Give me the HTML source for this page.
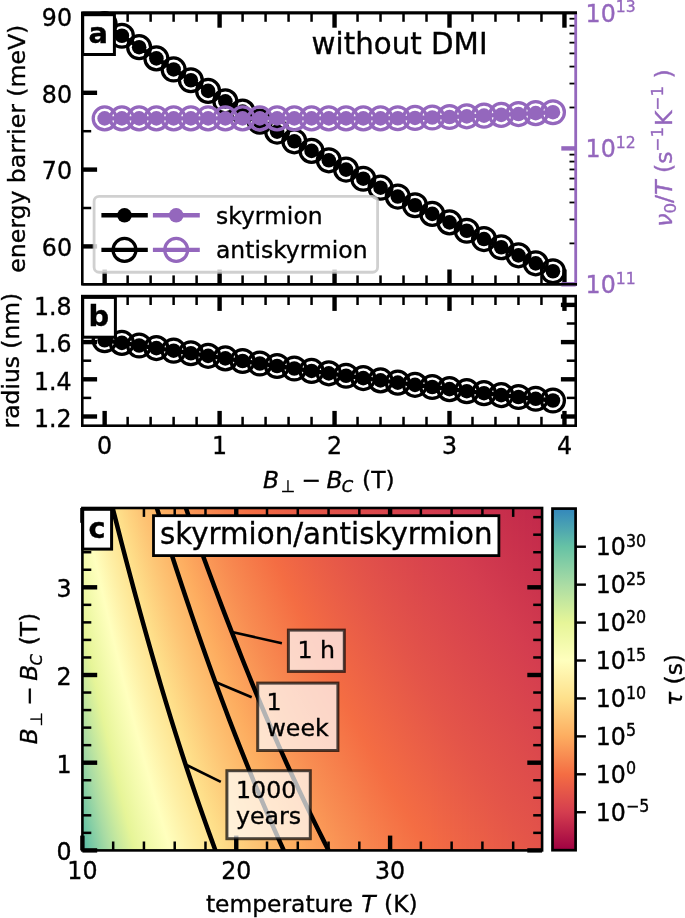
<!DOCTYPE html>
<html><head><meta charset="utf-8"><title>figure</title>
<style>
html,body{margin:0;padding:0;background:#fff;}
svg{display:block;font-family:"DejaVu Sans","Liberation Sans",sans-serif;}
text{stroke:#000;stroke-width:.35px;}
text[fill="#9467bd"]{stroke:#9467bd;}
</style></head><body>
<svg width="685" height="918" viewBox="0 0 685 918">
<rect width="685" height="918" fill="#fff"/>
<g id="panelA">
<line x1="104.65" y1="284.30" x2="104.65" y2="269.50" stroke="#000" stroke-width="4.4" /><line x1="127.64" y1="284.30" x2="127.64" y2="275.40" stroke="#000" stroke-width="2.5" /><line x1="150.63" y1="284.30" x2="150.63" y2="275.40" stroke="#000" stroke-width="2.5" /><line x1="173.62" y1="284.30" x2="173.62" y2="275.40" stroke="#000" stroke-width="2.5" /><line x1="196.61" y1="284.30" x2="196.61" y2="275.40" stroke="#000" stroke-width="2.5" /><line x1="219.60" y1="284.30" x2="219.60" y2="269.50" stroke="#000" stroke-width="4.4" /><line x1="242.59" y1="284.30" x2="242.59" y2="275.40" stroke="#000" stroke-width="2.5" /><line x1="265.58" y1="284.30" x2="265.58" y2="275.40" stroke="#000" stroke-width="2.5" /><line x1="288.57" y1="284.30" x2="288.57" y2="275.40" stroke="#000" stroke-width="2.5" /><line x1="311.56" y1="284.30" x2="311.56" y2="275.40" stroke="#000" stroke-width="2.5" /><line x1="334.55" y1="284.30" x2="334.55" y2="269.50" stroke="#000" stroke-width="4.4" /><line x1="357.54" y1="284.30" x2="357.54" y2="275.40" stroke="#000" stroke-width="2.5" /><line x1="380.53" y1="284.30" x2="380.53" y2="275.40" stroke="#000" stroke-width="2.5" /><line x1="403.52" y1="284.30" x2="403.52" y2="275.40" stroke="#000" stroke-width="2.5" /><line x1="426.51" y1="284.30" x2="426.51" y2="275.40" stroke="#000" stroke-width="2.5" /><line x1="449.50" y1="284.30" x2="449.50" y2="269.50" stroke="#000" stroke-width="4.4" /><line x1="472.49" y1="284.30" x2="472.49" y2="275.40" stroke="#000" stroke-width="2.5" /><line x1="495.48" y1="284.30" x2="495.48" y2="275.40" stroke="#000" stroke-width="2.5" /><line x1="518.47" y1="284.30" x2="518.47" y2="275.40" stroke="#000" stroke-width="2.5" /><line x1="541.46" y1="284.30" x2="541.46" y2="275.40" stroke="#000" stroke-width="2.5" /><line x1="564.45" y1="284.30" x2="564.45" y2="269.50" stroke="#000" stroke-width="4.4" />
<line x1="104.65" y1="12.90" x2="104.65" y2="27.70" stroke="#000" stroke-width="4.4" /><line x1="127.64" y1="12.90" x2="127.64" y2="21.80" stroke="#000" stroke-width="2.5" /><line x1="150.63" y1="12.90" x2="150.63" y2="21.80" stroke="#000" stroke-width="2.5" /><line x1="173.62" y1="12.90" x2="173.62" y2="21.80" stroke="#000" stroke-width="2.5" /><line x1="196.61" y1="12.90" x2="196.61" y2="21.80" stroke="#000" stroke-width="2.5" /><line x1="219.60" y1="12.90" x2="219.60" y2="27.70" stroke="#000" stroke-width="4.4" /><line x1="242.59" y1="12.90" x2="242.59" y2="21.80" stroke="#000" stroke-width="2.5" /><line x1="265.58" y1="12.90" x2="265.58" y2="21.80" stroke="#000" stroke-width="2.5" /><line x1="288.57" y1="12.90" x2="288.57" y2="21.80" stroke="#000" stroke-width="2.5" /><line x1="311.56" y1="12.90" x2="311.56" y2="21.80" stroke="#000" stroke-width="2.5" /><line x1="334.55" y1="12.90" x2="334.55" y2="27.70" stroke="#000" stroke-width="4.4" /><line x1="357.54" y1="12.90" x2="357.54" y2="21.80" stroke="#000" stroke-width="2.5" /><line x1="380.53" y1="12.90" x2="380.53" y2="21.80" stroke="#000" stroke-width="2.5" /><line x1="403.52" y1="12.90" x2="403.52" y2="21.80" stroke="#000" stroke-width="2.5" /><line x1="426.51" y1="12.90" x2="426.51" y2="21.80" stroke="#000" stroke-width="2.5" /><line x1="449.50" y1="12.90" x2="449.50" y2="27.70" stroke="#000" stroke-width="4.4" /><line x1="472.49" y1="12.90" x2="472.49" y2="21.80" stroke="#000" stroke-width="2.5" /><line x1="495.48" y1="12.90" x2="495.48" y2="21.80" stroke="#000" stroke-width="2.5" /><line x1="518.47" y1="12.90" x2="518.47" y2="21.80" stroke="#000" stroke-width="2.5" /><line x1="541.46" y1="12.90" x2="541.46" y2="21.80" stroke="#000" stroke-width="2.5" /><line x1="564.45" y1="12.90" x2="564.45" y2="27.70" stroke="#000" stroke-width="4.4" />
<line x1="82.30" y1="246.40" x2="97.10" y2="246.40" stroke="#000" stroke-width="4.4" />
<line x1="82.30" y1="208.00" x2="91.20" y2="208.00" stroke="#000" stroke-width="2.5" />
<line x1="82.30" y1="169.60" x2="97.10" y2="169.60" stroke="#000" stroke-width="4.4" />
<line x1="82.30" y1="131.20" x2="91.20" y2="131.20" stroke="#000" stroke-width="2.5" />
<line x1="82.30" y1="92.80" x2="97.10" y2="92.80" stroke="#000" stroke-width="4.4" />
<line x1="82.30" y1="54.40" x2="91.20" y2="54.40" stroke="#000" stroke-width="2.5" />
<line x1="82.30" y1="16.00" x2="97.10" y2="16.00" stroke="#000" stroke-width="4.4" />
<g stroke="#000" fill="none"><polyline points="104.65,24.06 121.89,35.73 139.13,47.18 156.38,58.41 173.62,69.44 190.86,80.27 208.11,90.90 225.35,101.34 242.59,111.60 259.83,121.67 277.08,131.58 294.32,141.31 311.56,150.89 328.80,160.31 346.05,169.58 363.29,178.70 380.53,187.69 397.77,196.55 415.01,205.28 432.26,213.89 449.50,222.38 466.74,230.77 483.99,239.06 501.23,247.24 518.47,255.34 535.71,263.35 552.96,271.28" stroke-width="4.4" stroke-linejoin="round"/><g stroke-width="3.25"><circle cx="104.65" cy="24.06" r="11.45"/><circle cx="121.89" cy="35.73" r="11.45"/><circle cx="139.13" cy="47.18" r="11.45"/><circle cx="156.38" cy="58.41" r="11.45"/><circle cx="173.62" cy="69.44" r="11.45"/><circle cx="190.86" cy="80.27" r="11.45"/><circle cx="208.11" cy="90.90" r="11.45"/><circle cx="225.35" cy="101.34" r="11.45"/><circle cx="242.59" cy="111.60" r="11.45"/><circle cx="259.83" cy="121.67" r="11.45"/><circle cx="277.08" cy="131.58" r="11.45"/><circle cx="294.32" cy="141.31" r="11.45"/><circle cx="311.56" cy="150.89" r="11.45"/><circle cx="328.80" cy="160.31" r="11.45"/><circle cx="346.05" cy="169.58" r="11.45"/><circle cx="363.29" cy="178.70" r="11.45"/><circle cx="380.53" cy="187.69" r="11.45"/><circle cx="397.77" cy="196.55" r="11.45"/><circle cx="415.01" cy="205.28" r="11.45"/><circle cx="432.26" cy="213.89" r="11.45"/><circle cx="449.50" cy="222.38" r="11.45"/><circle cx="466.74" cy="230.77" r="11.45"/><circle cx="483.99" cy="239.06" r="11.45"/><circle cx="501.23" cy="247.24" r="11.45"/><circle cx="518.47" cy="255.34" r="11.45"/><circle cx="535.71" cy="263.35" r="11.45"/><circle cx="552.96" cy="271.28" r="11.45"/></g><g fill="#000" stroke="none"><circle cx="104.65" cy="24.06" r="7.3"/><circle cx="121.89" cy="35.73" r="7.3"/><circle cx="139.13" cy="47.18" r="7.3"/><circle cx="156.38" cy="58.41" r="7.3"/><circle cx="173.62" cy="69.44" r="7.3"/><circle cx="190.86" cy="80.27" r="7.3"/><circle cx="208.11" cy="90.90" r="7.3"/><circle cx="225.35" cy="101.34" r="7.3"/><circle cx="242.59" cy="111.60" r="7.3"/><circle cx="259.83" cy="121.67" r="7.3"/><circle cx="277.08" cy="131.58" r="7.3"/><circle cx="294.32" cy="141.31" r="7.3"/><circle cx="311.56" cy="150.89" r="7.3"/><circle cx="328.80" cy="160.31" r="7.3"/><circle cx="346.05" cy="169.58" r="7.3"/><circle cx="363.29" cy="178.70" r="7.3"/><circle cx="380.53" cy="187.69" r="7.3"/><circle cx="397.77" cy="196.55" r="7.3"/><circle cx="415.01" cy="205.28" r="7.3"/><circle cx="432.26" cy="213.89" r="7.3"/><circle cx="449.50" cy="222.38" r="7.3"/><circle cx="466.74" cy="230.77" r="7.3"/><circle cx="483.99" cy="239.06" r="7.3"/><circle cx="501.23" cy="247.24" r="7.3"/><circle cx="518.47" cy="255.34" r="7.3"/><circle cx="535.71" cy="263.35" r="7.3"/><circle cx="552.96" cy="271.28" r="7.3"/></g></g>
<path d="M82.3,284.3 V12.9 H575.7 M82.3,284.3 H575.7" fill="none" stroke="#000" stroke-width="2.6" stroke-linecap="square"/>
<line x1="575.70" y1="243.39" x2="569.50" y2="243.39" stroke="#000" stroke-width="1.8" />
<line x1="575.70" y1="219.46" x2="569.50" y2="219.46" stroke="#000" stroke-width="1.8" />
<line x1="575.70" y1="202.48" x2="569.50" y2="202.48" stroke="#000" stroke-width="1.8" />
<line x1="575.70" y1="189.31" x2="569.50" y2="189.31" stroke="#000" stroke-width="1.8" />
<line x1="575.70" y1="178.55" x2="569.50" y2="178.55" stroke="#000" stroke-width="1.8" />
<line x1="575.70" y1="169.45" x2="569.50" y2="169.45" stroke="#000" stroke-width="1.8" />
<line x1="575.70" y1="161.57" x2="569.50" y2="161.57" stroke="#000" stroke-width="1.8" />
<line x1="575.70" y1="154.62" x2="569.50" y2="154.62" stroke="#000" stroke-width="1.8" />
<line x1="575.70" y1="107.49" x2="569.50" y2="107.49" stroke="#000" stroke-width="1.8" />
<line x1="575.70" y1="83.56" x2="569.50" y2="83.56" stroke="#000" stroke-width="1.8" />
<line x1="575.70" y1="66.58" x2="569.50" y2="66.58" stroke="#000" stroke-width="1.8" />
<line x1="575.70" y1="53.41" x2="569.50" y2="53.41" stroke="#000" stroke-width="1.8" />
<line x1="575.70" y1="42.65" x2="569.50" y2="42.65" stroke="#000" stroke-width="1.8" />
<line x1="575.70" y1="33.55" x2="569.50" y2="33.55" stroke="#000" stroke-width="1.8" />
<line x1="575.70" y1="25.67" x2="569.50" y2="25.67" stroke="#000" stroke-width="1.8" />
<line x1="575.70" y1="18.72" x2="569.50" y2="18.72" stroke="#000" stroke-width="1.8" />
<g stroke="#9467bd" fill="none"><polyline points="104.65,118.40 121.89,118.40 139.13,118.40 156.38,118.40 173.62,118.40 190.86,118.40 208.11,118.40 225.35,118.40 242.59,118.40 259.83,118.40 277.08,118.40 294.32,118.40 311.56,118.40 328.80,118.40 346.05,118.40 363.29,118.40 380.53,118.40 397.77,118.24 415.01,117.93 432.26,117.50 449.50,116.97 466.74,116.35 483.99,115.66 501.23,114.90 518.47,114.06 535.71,113.16 552.96,112.20" stroke-width="4.4" stroke-linejoin="round"/><g stroke-width="3.25"><circle cx="104.65" cy="118.40" r="11.45"/><circle cx="121.89" cy="118.40" r="11.45"/><circle cx="139.13" cy="118.40" r="11.45"/><circle cx="156.38" cy="118.40" r="11.45"/><circle cx="173.62" cy="118.40" r="11.45"/><circle cx="190.86" cy="118.40" r="11.45"/><circle cx="208.11" cy="118.40" r="11.45"/><circle cx="225.35" cy="118.40" r="11.45"/><circle cx="242.59" cy="118.40" r="11.45"/><circle cx="259.83" cy="118.40" r="11.45"/><circle cx="277.08" cy="118.40" r="11.45"/><circle cx="294.32" cy="118.40" r="11.45"/><circle cx="311.56" cy="118.40" r="11.45"/><circle cx="328.80" cy="118.40" r="11.45"/><circle cx="346.05" cy="118.40" r="11.45"/><circle cx="363.29" cy="118.40" r="11.45"/><circle cx="380.53" cy="118.40" r="11.45"/><circle cx="397.77" cy="118.24" r="11.45"/><circle cx="415.01" cy="117.93" r="11.45"/><circle cx="432.26" cy="117.50" r="11.45"/><circle cx="449.50" cy="116.97" r="11.45"/><circle cx="466.74" cy="116.35" r="11.45"/><circle cx="483.99" cy="115.66" r="11.45"/><circle cx="501.23" cy="114.90" r="11.45"/><circle cx="518.47" cy="114.06" r="11.45"/><circle cx="535.71" cy="113.16" r="11.45"/><circle cx="552.96" cy="112.20" r="11.45"/></g><g fill="#9467bd" stroke="none"><circle cx="104.65" cy="118.40" r="7.3"/><circle cx="121.89" cy="118.40" r="7.3"/><circle cx="139.13" cy="118.40" r="7.3"/><circle cx="156.38" cy="118.40" r="7.3"/><circle cx="173.62" cy="118.40" r="7.3"/><circle cx="190.86" cy="118.40" r="7.3"/><circle cx="208.11" cy="118.40" r="7.3"/><circle cx="225.35" cy="118.40" r="7.3"/><circle cx="242.59" cy="118.40" r="7.3"/><circle cx="259.83" cy="118.40" r="7.3"/><circle cx="277.08" cy="118.40" r="7.3"/><circle cx="294.32" cy="118.40" r="7.3"/><circle cx="311.56" cy="118.40" r="7.3"/><circle cx="328.80" cy="118.40" r="7.3"/><circle cx="346.05" cy="118.40" r="7.3"/><circle cx="363.29" cy="118.40" r="7.3"/><circle cx="380.53" cy="118.40" r="7.3"/><circle cx="397.77" cy="118.24" r="7.3"/><circle cx="415.01" cy="117.93" r="7.3"/><circle cx="432.26" cy="117.50" r="7.3"/><circle cx="449.50" cy="116.97" r="7.3"/><circle cx="466.74" cy="116.35" r="7.3"/><circle cx="483.99" cy="115.66" r="7.3"/><circle cx="501.23" cy="114.90" r="7.3"/><circle cx="518.47" cy="114.06" r="7.3"/><circle cx="535.71" cy="113.16" r="7.3"/><circle cx="552.96" cy="112.20" r="7.3"/></g></g>
<line x1="575.70" y1="284.30" x2="561.30" y2="284.30" stroke="#9467bd" stroke-width="4.4" />
<line x1="575.70" y1="148.40" x2="561.30" y2="148.40" stroke="#9467bd" stroke-width="4.4" />
<line x1="575.70" y1="12.90" x2="575.70" y2="285.60" stroke="#9467bd" stroke-width="2.8" />
<line x1="82.30" y1="12.90" x2="577.00" y2="12.90" stroke="#000" stroke-width="2.6" />
<line x1="82.30" y1="284.30" x2="577.00" y2="284.30" stroke="#000" stroke-width="2.6" />
<rect x="94.1" y="196.4" width="283.5" height="75.85" rx="5" ry="5" fill="#fff" fill-opacity="0.8" stroke="#c4c4c4" stroke-opacity="0.8" stroke-width="2.8"/>
<line x1="101.40" y1="215.30" x2="147.80" y2="215.30" stroke="#000" stroke-width="4.4" />
<circle cx="124.5" cy="215.3" r="7.3" fill="#000"/>
<line x1="152.90" y1="215.30" x2="199.80" y2="215.30" stroke="#9467bd" stroke-width="4.4" />
<circle cx="176.2" cy="215.3" r="7.3" fill="#9467bd"/>
<line x1="101.40" y1="249.90" x2="147.80" y2="249.90" stroke="#000" stroke-width="4.4" />
<circle cx="124.5" cy="249.9" r="11.45" fill="none" stroke="#000" stroke-width="3.25"/>
<line x1="152.90" y1="249.90" x2="199.80" y2="249.90" stroke="#9467bd" stroke-width="4.4" />
<circle cx="176.2" cy="249.9" r="11.45" fill="none" stroke="#9467bd" stroke-width="3.25"/>
<text x="216.00" y="223.60" font-size="23.45" text-anchor="start" fill="#000" >skyrmion</text>
<text x="216.00" y="258.20" font-size="23.45" text-anchor="start" fill="#000" >antiskyrmion</text>
<text x="311.60" y="54.10" font-size="29.3" text-anchor="start" fill="#000" >without DMI</text>
<text transform="translate(72.00,25.80) scale(1,1.06)" font-size="23.7" text-anchor="end" fill="#000" >90</text>
<text transform="translate(72.00,102.60) scale(1,1.06)" font-size="23.7" text-anchor="end" fill="#000" >80</text>
<text transform="translate(72.00,179.40) scale(1,1.06)" font-size="23.7" text-anchor="end" fill="#000" >70</text>
<text transform="translate(72.00,256.20) scale(1,1.06)" font-size="23.7" text-anchor="end" fill="#000" >60</text>
<text transform="translate(585.6,21.50) scale(1,1.06)" font-size="23.7" fill="#9467bd">10<tspan font-size="15.64" dy="-8.5">13</tspan></text>
<text transform="translate(585.6,157.40) scale(1,1.06)" font-size="23.7" fill="#9467bd">10<tspan font-size="15.64" dy="-8.5">12</tspan></text>
<text transform="translate(585.6,293.30) scale(1,1.06)" font-size="23.7" fill="#9467bd">10<tspan font-size="15.64" dy="-8.5">11</tspan></text>
<text transform="translate(25.3,148.7) rotate(-90)" font-size="23.55" text-anchor="middle">energy barrier (meV)</text>
<text transform="translate(672,148) rotate(-90)" font-size="23.7" text-anchor="middle" fill="#9467bd"><tspan font-style="italic">ν</tspan><tspan font-size="16.59" dy="4">0</tspan><tspan dy="-4">/</tspan><tspan font-style="italic">T</tspan> (s<tspan font-size="16.59" dy="-9">−1</tspan><tspan dy="9" dx="1">K</tspan><tspan font-size="16.59" dy="-9">−1</tspan><tspan dy="9"> )</tspan></text>
<rect x="82.7" y="14.7" width="31.70" height="39.8" fill="#fff" stroke="#000" stroke-width="3.0"/><text x="88.50" y="43.10" font-size="28.9" text-anchor="start" fill="#000" font-weight="bold">a</text>
</g>
<g id="panelB">
<line x1="104.65" y1="425.70" x2="104.65" y2="410.90" stroke="#000" stroke-width="4.4" /><line x1="127.64" y1="425.70" x2="127.64" y2="416.80" stroke="#000" stroke-width="2.5" /><line x1="150.63" y1="425.70" x2="150.63" y2="416.80" stroke="#000" stroke-width="2.5" /><line x1="173.62" y1="425.70" x2="173.62" y2="416.80" stroke="#000" stroke-width="2.5" /><line x1="196.61" y1="425.70" x2="196.61" y2="416.80" stroke="#000" stroke-width="2.5" /><line x1="219.60" y1="425.70" x2="219.60" y2="410.90" stroke="#000" stroke-width="4.4" /><line x1="242.59" y1="425.70" x2="242.59" y2="416.80" stroke="#000" stroke-width="2.5" /><line x1="265.58" y1="425.70" x2="265.58" y2="416.80" stroke="#000" stroke-width="2.5" /><line x1="288.57" y1="425.70" x2="288.57" y2="416.80" stroke="#000" stroke-width="2.5" /><line x1="311.56" y1="425.70" x2="311.56" y2="416.80" stroke="#000" stroke-width="2.5" /><line x1="334.55" y1="425.70" x2="334.55" y2="410.90" stroke="#000" stroke-width="4.4" /><line x1="357.54" y1="425.70" x2="357.54" y2="416.80" stroke="#000" stroke-width="2.5" /><line x1="380.53" y1="425.70" x2="380.53" y2="416.80" stroke="#000" stroke-width="2.5" /><line x1="403.52" y1="425.70" x2="403.52" y2="416.80" stroke="#000" stroke-width="2.5" /><line x1="426.51" y1="425.70" x2="426.51" y2="416.80" stroke="#000" stroke-width="2.5" /><line x1="449.50" y1="425.70" x2="449.50" y2="410.90" stroke="#000" stroke-width="4.4" /><line x1="472.49" y1="425.70" x2="472.49" y2="416.80" stroke="#000" stroke-width="2.5" /><line x1="495.48" y1="425.70" x2="495.48" y2="416.80" stroke="#000" stroke-width="2.5" /><line x1="518.47" y1="425.70" x2="518.47" y2="416.80" stroke="#000" stroke-width="2.5" /><line x1="541.46" y1="425.70" x2="541.46" y2="416.80" stroke="#000" stroke-width="2.5" /><line x1="564.45" y1="425.70" x2="564.45" y2="410.90" stroke="#000" stroke-width="4.4" />
<line x1="104.65" y1="296.10" x2="104.65" y2="310.90" stroke="#000" stroke-width="4.4" /><line x1="127.64" y1="296.10" x2="127.64" y2="305.00" stroke="#000" stroke-width="2.5" /><line x1="150.63" y1="296.10" x2="150.63" y2="305.00" stroke="#000" stroke-width="2.5" /><line x1="173.62" y1="296.10" x2="173.62" y2="305.00" stroke="#000" stroke-width="2.5" /><line x1="196.61" y1="296.10" x2="196.61" y2="305.00" stroke="#000" stroke-width="2.5" /><line x1="219.60" y1="296.10" x2="219.60" y2="310.90" stroke="#000" stroke-width="4.4" /><line x1="242.59" y1="296.10" x2="242.59" y2="305.00" stroke="#000" stroke-width="2.5" /><line x1="265.58" y1="296.10" x2="265.58" y2="305.00" stroke="#000" stroke-width="2.5" /><line x1="288.57" y1="296.10" x2="288.57" y2="305.00" stroke="#000" stroke-width="2.5" /><line x1="311.56" y1="296.10" x2="311.56" y2="305.00" stroke="#000" stroke-width="2.5" /><line x1="334.55" y1="296.10" x2="334.55" y2="310.90" stroke="#000" stroke-width="4.4" /><line x1="357.54" y1="296.10" x2="357.54" y2="305.00" stroke="#000" stroke-width="2.5" /><line x1="380.53" y1="296.10" x2="380.53" y2="305.00" stroke="#000" stroke-width="2.5" /><line x1="403.52" y1="296.10" x2="403.52" y2="305.00" stroke="#000" stroke-width="2.5" /><line x1="426.51" y1="296.10" x2="426.51" y2="305.00" stroke="#000" stroke-width="2.5" /><line x1="449.50" y1="296.10" x2="449.50" y2="310.90" stroke="#000" stroke-width="4.4" /><line x1="472.49" y1="296.10" x2="472.49" y2="305.00" stroke="#000" stroke-width="2.5" /><line x1="495.48" y1="296.10" x2="495.48" y2="305.00" stroke="#000" stroke-width="2.5" /><line x1="518.47" y1="296.10" x2="518.47" y2="305.00" stroke="#000" stroke-width="2.5" /><line x1="541.46" y1="296.10" x2="541.46" y2="305.00" stroke="#000" stroke-width="2.5" /><line x1="564.45" y1="296.10" x2="564.45" y2="310.90" stroke="#000" stroke-width="4.4" />
<line x1="82.30" y1="416.50" x2="97.10" y2="416.50" stroke="#000" stroke-width="4.4" />
<line x1="575.70" y1="416.50" x2="560.90" y2="416.50" stroke="#000" stroke-width="4.4" />
<line x1="82.30" y1="397.90" x2="91.20" y2="397.90" stroke="#000" stroke-width="2.5" />
<line x1="575.70" y1="397.90" x2="566.80" y2="397.90" stroke="#000" stroke-width="2.5" />
<line x1="82.30" y1="379.30" x2="97.10" y2="379.30" stroke="#000" stroke-width="4.4" />
<line x1="575.70" y1="379.30" x2="560.90" y2="379.30" stroke="#000" stroke-width="4.4" />
<line x1="82.30" y1="360.70" x2="91.20" y2="360.70" stroke="#000" stroke-width="2.5" />
<line x1="575.70" y1="360.70" x2="566.80" y2="360.70" stroke="#000" stroke-width="2.5" />
<line x1="82.30" y1="342.10" x2="97.10" y2="342.10" stroke="#000" stroke-width="4.4" />
<line x1="575.70" y1="342.10" x2="560.90" y2="342.10" stroke="#000" stroke-width="4.4" />
<line x1="82.30" y1="323.50" x2="91.20" y2="323.50" stroke="#000" stroke-width="2.5" />
<line x1="575.70" y1="323.50" x2="566.80" y2="323.50" stroke="#000" stroke-width="2.5" />
<line x1="82.30" y1="304.90" x2="97.10" y2="304.90" stroke="#000" stroke-width="4.4" />
<line x1="575.70" y1="304.90" x2="560.90" y2="304.90" stroke="#000" stroke-width="4.4" />
<g stroke="#000" fill="none"><polyline points="104.65,340.27 121.89,342.88 139.13,345.48 156.38,348.09 173.62,350.68 190.86,353.27 208.11,355.85 225.35,358.42 242.59,360.97 259.83,363.50 277.08,366.00 294.32,368.48 311.56,370.93 328.80,373.35 346.05,375.73 363.29,378.08 380.53,380.38 397.77,382.64 415.01,384.85 432.26,387.02 449.50,389.13 466.74,391.19 483.99,393.18 501.23,395.12 518.47,396.99 535.71,398.79 552.96,400.52" stroke-width="4.4" stroke-linejoin="round"/><g stroke-width="3.25"><circle cx="104.65" cy="340.27" r="11.45"/><circle cx="121.89" cy="342.88" r="11.45"/><circle cx="139.13" cy="345.48" r="11.45"/><circle cx="156.38" cy="348.09" r="11.45"/><circle cx="173.62" cy="350.68" r="11.45"/><circle cx="190.86" cy="353.27" r="11.45"/><circle cx="208.11" cy="355.85" r="11.45"/><circle cx="225.35" cy="358.42" r="11.45"/><circle cx="242.59" cy="360.97" r="11.45"/><circle cx="259.83" cy="363.50" r="11.45"/><circle cx="277.08" cy="366.00" r="11.45"/><circle cx="294.32" cy="368.48" r="11.45"/><circle cx="311.56" cy="370.93" r="11.45"/><circle cx="328.80" cy="373.35" r="11.45"/><circle cx="346.05" cy="375.73" r="11.45"/><circle cx="363.29" cy="378.08" r="11.45"/><circle cx="380.53" cy="380.38" r="11.45"/><circle cx="397.77" cy="382.64" r="11.45"/><circle cx="415.01" cy="384.85" r="11.45"/><circle cx="432.26" cy="387.02" r="11.45"/><circle cx="449.50" cy="389.13" r="11.45"/><circle cx="466.74" cy="391.19" r="11.45"/><circle cx="483.99" cy="393.18" r="11.45"/><circle cx="501.23" cy="395.12" r="11.45"/><circle cx="518.47" cy="396.99" r="11.45"/><circle cx="535.71" cy="398.79" r="11.45"/><circle cx="552.96" cy="400.52" r="11.45"/></g><g fill="#000" stroke="none"><circle cx="104.65" cy="340.27" r="7.3"/><circle cx="121.89" cy="342.88" r="7.3"/><circle cx="139.13" cy="345.48" r="7.3"/><circle cx="156.38" cy="348.09" r="7.3"/><circle cx="173.62" cy="350.68" r="7.3"/><circle cx="190.86" cy="353.27" r="7.3"/><circle cx="208.11" cy="355.85" r="7.3"/><circle cx="225.35" cy="358.42" r="7.3"/><circle cx="242.59" cy="360.97" r="7.3"/><circle cx="259.83" cy="363.50" r="7.3"/><circle cx="277.08" cy="366.00" r="7.3"/><circle cx="294.32" cy="368.48" r="7.3"/><circle cx="311.56" cy="370.93" r="7.3"/><circle cx="328.80" cy="373.35" r="7.3"/><circle cx="346.05" cy="375.73" r="7.3"/><circle cx="363.29" cy="378.08" r="7.3"/><circle cx="380.53" cy="380.38" r="7.3"/><circle cx="397.77" cy="382.64" r="7.3"/><circle cx="415.01" cy="384.85" r="7.3"/><circle cx="432.26" cy="387.02" r="7.3"/><circle cx="449.50" cy="389.13" r="7.3"/><circle cx="466.74" cy="391.19" r="7.3"/><circle cx="483.99" cy="393.18" r="7.3"/><circle cx="501.23" cy="395.12" r="7.3"/><circle cx="518.47" cy="396.99" r="7.3"/><circle cx="535.71" cy="398.79" r="7.3"/><circle cx="552.96" cy="400.52" r="7.3"/></g></g>
<rect x="82.3" y="296.1" width="493.40000000000003" height="129.59999999999997" fill="none" stroke="#000" stroke-width="2.6"/>
<text transform="translate(71.60,315.20) scale(1,1.06)" font-size="23.7" text-anchor="end" fill="#000" >1.8</text>
<text transform="translate(71.60,352.40) scale(1,1.06)" font-size="23.7" text-anchor="end" fill="#000" >1.6</text>
<text transform="translate(71.60,389.60) scale(1,1.06)" font-size="23.7" text-anchor="end" fill="#000" >1.4</text>
<text transform="translate(71.60,426.80) scale(1,1.06)" font-size="23.7" text-anchor="end" fill="#000" >1.2</text>
<text transform="translate(104.65,454.40) scale(1,1.06)" font-size="23.7" text-anchor="middle" fill="#000" >0</text>
<text transform="translate(219.60,454.40) scale(1,1.06)" font-size="23.7" text-anchor="middle" fill="#000" >1</text>
<text transform="translate(334.55,454.40) scale(1,1.06)" font-size="23.7" text-anchor="middle" fill="#000" >2</text>
<text transform="translate(449.50,454.40) scale(1,1.06)" font-size="23.7" text-anchor="middle" fill="#000" >3</text>
<text transform="translate(564.45,454.40) scale(1,1.06)" font-size="23.7" text-anchor="middle" fill="#000" >4</text>
<text transform="translate(263.0,487.7)" font-size="23.4"><tspan x="0" font-style="italic">B</tspan><tspan x="17.8" font-size="16.38" dy="4.2">⊥</tspan><tspan x="38.5" dy="-4.2">−</tspan><tspan x="63.6" font-style="italic">B</tspan><tspan x="78.8" font-size="16.38" dy="4.2" font-style="italic">C</tspan><tspan x="99.0" dy="-4.2">(T)</tspan></text>
<text transform="translate(19.4,360.6) rotate(-90)" font-size="23.4" text-anchor="middle">radius (nm)</text>
<rect x="82.7" y="297.4" width="32.70" height="39.8" fill="#fff" stroke="#000" stroke-width="3.0"/><text x="88.50" y="325.80" font-size="28.9" text-anchor="start" fill="#000" font-weight="bold">b</text>
</g>
<g id="panelC">
<defs><linearGradient id="g0" x1="0" y1="0" x2="0" y2="1"><stop offset="0.000" stop-color="#fdfebc"/><stop offset="0.161" stop-color="#f2faab"/><stop offset="0.332" stop-color="#e6f598"/><stop offset="0.495" stop-color="#c8e99e"/><stop offset="0.647" stop-color="#aadca4"/><stop offset="0.789" stop-color="#88cfa5"/><stop offset="0.922" stop-color="#66c2a5"/><stop offset="1.000" stop-color="#56b0ac"/></linearGradient><linearGradient id="g1" x1="0" y1="0" x2="0" y2="1"><stop offset="0.000" stop-color="#feffbe"/><stop offset="0.175" stop-color="#f2faab"/><stop offset="0.347" stop-color="#e6f598"/><stop offset="0.509" stop-color="#c8e99e"/><stop offset="0.661" stop-color="#aadca4"/><stop offset="0.804" stop-color="#88cfa5"/><stop offset="0.937" stop-color="#66c2a5"/><stop offset="1.000" stop-color="#59b3ab"/></linearGradient><linearGradient id="g2" x1="0" y1="0" x2="0" y2="1"><stop offset="0.000" stop-color="#fefebd"/><stop offset="0.009" stop-color="#ffffbe"/><stop offset="0.190" stop-color="#f2faab"/><stop offset="0.362" stop-color="#e6f598"/><stop offset="0.524" stop-color="#c8e99e"/><stop offset="0.676" stop-color="#aadca4"/><stop offset="0.818" stop-color="#88cfa5"/><stop offset="0.952" stop-color="#66c2a5"/><stop offset="1.000" stop-color="#5cb7a9"/></linearGradient><linearGradient id="g3" x1="0" y1="0" x2="0" y2="1"><stop offset="0.000" stop-color="#fefdbb"/><stop offset="0.022" stop-color="#ffffbe"/><stop offset="0.204" stop-color="#f2faab"/><stop offset="0.376" stop-color="#e6f598"/><stop offset="0.539" stop-color="#c8e99e"/><stop offset="0.691" stop-color="#aadca4"/><stop offset="0.833" stop-color="#88cfa5"/><stop offset="0.966" stop-color="#66c2a5"/><stop offset="1.000" stop-color="#5fbaa8"/></linearGradient><linearGradient id="g4" x1="0" y1="0" x2="0" y2="1"><stop offset="0.000" stop-color="#fefcb9"/><stop offset="0.036" stop-color="#ffffbe"/><stop offset="0.218" stop-color="#f2faab"/><stop offset="0.390" stop-color="#e6f598"/><stop offset="0.553" stop-color="#c8e99e"/><stop offset="0.705" stop-color="#aadca4"/><stop offset="0.847" stop-color="#88cfa5"/><stop offset="0.980" stop-color="#66c2a5"/><stop offset="1.000" stop-color="#62bda7"/></linearGradient><linearGradient id="g5" x1="0" y1="0" x2="0" y2="1"><stop offset="0.000" stop-color="#fefbb8"/><stop offset="0.049" stop-color="#ffffbe"/><stop offset="0.232" stop-color="#f2faab"/><stop offset="0.405" stop-color="#e6f598"/><stop offset="0.567" stop-color="#c8e99e"/><stop offset="0.719" stop-color="#aadca4"/><stop offset="0.861" stop-color="#88cfa5"/><stop offset="0.995" stop-color="#66c2a5"/><stop offset="1.000" stop-color="#65c1a5"/></linearGradient><linearGradient id="g6" x1="0" y1="0" x2="0" y2="1"><stop offset="0.000" stop-color="#fefab6"/><stop offset="0.063" stop-color="#ffffbe"/><stop offset="0.246" stop-color="#f2faab"/><stop offset="0.419" stop-color="#e6f598"/><stop offset="0.582" stop-color="#c8e99e"/><stop offset="0.734" stop-color="#aadca4"/><stop offset="0.876" stop-color="#88cfa5"/><stop offset="1.000" stop-color="#68c3a5"/></linearGradient><linearGradient id="g7" x1="0" y1="0" x2="0" y2="1"><stop offset="0.000" stop-color="#fef9b4"/><stop offset="0.076" stop-color="#ffffbe"/><stop offset="0.259" stop-color="#f2faab"/><stop offset="0.433" stop-color="#e6f598"/><stop offset="0.596" stop-color="#c8e99e"/><stop offset="0.748" stop-color="#aadca4"/><stop offset="0.890" stop-color="#88cfa5"/><stop offset="1.000" stop-color="#6cc4a5"/></linearGradient><linearGradient id="g8" x1="0" y1="0" x2="0" y2="1"><stop offset="0.000" stop-color="#fef8b2"/><stop offset="0.090" stop-color="#ffffbe"/><stop offset="0.273" stop-color="#f2faab"/><stop offset="0.447" stop-color="#e6f598"/><stop offset="0.610" stop-color="#c8e99e"/><stop offset="0.762" stop-color="#aadca4"/><stop offset="0.904" stop-color="#88cfa5"/><stop offset="1.000" stop-color="#70c6a5"/></linearGradient><linearGradient id="g9" x1="0" y1="0" x2="0" y2="1"><stop offset="0.000" stop-color="#fef7b1"/><stop offset="0.103" stop-color="#ffffbe"/><stop offset="0.287" stop-color="#f2faab"/><stop offset="0.461" stop-color="#e6f598"/><stop offset="0.624" stop-color="#c8e99e"/><stop offset="0.776" stop-color="#aadca4"/><stop offset="0.918" stop-color="#88cfa5"/><stop offset="1.000" stop-color="#73c7a5"/></linearGradient><linearGradient id="g10" x1="0" y1="0" x2="0" y2="1"><stop offset="0.000" stop-color="#fef6af"/><stop offset="0.116" stop-color="#ffffbe"/><stop offset="0.301" stop-color="#f2faab"/><stop offset="0.475" stop-color="#e6f598"/><stop offset="0.638" stop-color="#c8e99e"/><stop offset="0.790" stop-color="#aadca4"/><stop offset="0.932" stop-color="#88cfa5"/><stop offset="1.000" stop-color="#77c9a5"/></linearGradient><linearGradient id="g11" x1="0" y1="0" x2="0" y2="1"><stop offset="0.000" stop-color="#fef5ad"/><stop offset="0.130" stop-color="#ffffbe"/><stop offset="0.314" stop-color="#f2faab"/><stop offset="0.489" stop-color="#e6f598"/><stop offset="0.652" stop-color="#c8e99e"/><stop offset="0.804" stop-color="#aadca4"/><stop offset="0.945" stop-color="#88cfa5"/><stop offset="1.000" stop-color="#7acaa5"/></linearGradient><linearGradient id="g12" x1="0" y1="0" x2="0" y2="1"><stop offset="0.000" stop-color="#fef4ab"/><stop offset="0.143" stop-color="#ffffbe"/><stop offset="0.328" stop-color="#f2faab"/><stop offset="0.503" stop-color="#e6f598"/><stop offset="0.666" stop-color="#c8e99e"/><stop offset="0.817" stop-color="#aadca4"/><stop offset="0.959" stop-color="#88cfa5"/><stop offset="1.000" stop-color="#7ecba5"/></linearGradient><linearGradient id="g13" x1="0" y1="0" x2="0" y2="1"><stop offset="0.000" stop-color="#fef3aa"/><stop offset="0.156" stop-color="#ffffbe"/><stop offset="0.342" stop-color="#f2faab"/><stop offset="0.516" stop-color="#e6f598"/><stop offset="0.679" stop-color="#c8e99e"/><stop offset="0.831" stop-color="#aadca4"/><stop offset="0.972" stop-color="#88cfa5"/><stop offset="1.000" stop-color="#81cda5"/></linearGradient><linearGradient id="g14" x1="0" y1="0" x2="0" y2="1"><stop offset="0.000" stop-color="#fef2a8"/><stop offset="0.169" stop-color="#ffffbe"/><stop offset="0.355" stop-color="#f2faab"/><stop offset="0.530" stop-color="#e6f598"/><stop offset="0.693" stop-color="#c8e99e"/><stop offset="0.845" stop-color="#aadca4"/><stop offset="0.986" stop-color="#88cfa5"/><stop offset="1.000" stop-color="#84cea5"/></linearGradient><linearGradient id="g15" x1="0" y1="0" x2="0" y2="1"><stop offset="0.000" stop-color="#fef1a7"/><stop offset="0.182" stop-color="#ffffbe"/><stop offset="0.368" stop-color="#f2faab"/><stop offset="0.544" stop-color="#e6f598"/><stop offset="0.706" stop-color="#c8e99e"/><stop offset="0.858" stop-color="#aadca4"/><stop offset="0.999" stop-color="#88cfa5"/><stop offset="1.000" stop-color="#88cfa5"/></linearGradient><linearGradient id="g16" x1="0" y1="0" x2="0" y2="1"><stop offset="0.000" stop-color="#fef0a5"/><stop offset="0.195" stop-color="#ffffbe"/><stop offset="0.382" stop-color="#f2faab"/><stop offset="0.557" stop-color="#e6f598"/><stop offset="0.720" stop-color="#c8e99e"/><stop offset="0.871" stop-color="#aadca4"/><stop offset="1.000" stop-color="#8bd0a4"/></linearGradient><linearGradient id="g17" x1="0" y1="0" x2="0" y2="1"><stop offset="0.000" stop-color="#feefa3"/><stop offset="0.011" stop-color="#feefa5"/><stop offset="0.208" stop-color="#ffffbe"/><stop offset="0.395" stop-color="#f2faab"/><stop offset="0.570" stop-color="#e6f598"/><stop offset="0.733" stop-color="#c8e99e"/><stop offset="0.885" stop-color="#aadca4"/><stop offset="1.000" stop-color="#8ed2a4"/></linearGradient><linearGradient id="g18" x1="0" y1="0" x2="0" y2="1"><stop offset="0.000" stop-color="#feeea2"/><stop offset="0.023" stop-color="#feefa5"/><stop offset="0.221" stop-color="#ffffbe"/><stop offset="0.408" stop-color="#f2faab"/><stop offset="0.584" stop-color="#e6f598"/><stop offset="0.746" stop-color="#c8e99e"/><stop offset="0.898" stop-color="#aadca4"/><stop offset="1.000" stop-color="#91d3a4"/></linearGradient><linearGradient id="g19" x1="0" y1="0" x2="0" y2="1"><stop offset="0.000" stop-color="#feeda0"/><stop offset="0.035" stop-color="#feefa5"/><stop offset="0.234" stop-color="#ffffbe"/><stop offset="0.422" stop-color="#f2faab"/><stop offset="0.597" stop-color="#e6f598"/><stop offset="0.760" stop-color="#c8e99e"/><stop offset="0.911" stop-color="#aadca4"/><stop offset="1.000" stop-color="#95d4a4"/></linearGradient><linearGradient id="g20" x1="0" y1="0" x2="0" y2="1"><stop offset="0.000" stop-color="#feec9f"/><stop offset="0.048" stop-color="#feefa5"/><stop offset="0.247" stop-color="#ffffbe"/><stop offset="0.435" stop-color="#f2faab"/><stop offset="0.610" stop-color="#e6f598"/><stop offset="0.773" stop-color="#c8e99e"/><stop offset="0.924" stop-color="#aadca4"/><stop offset="1.000" stop-color="#98d5a4"/></linearGradient><linearGradient id="g21" x1="0" y1="0" x2="0" y2="1"><stop offset="0.000" stop-color="#feeb9d"/><stop offset="0.060" stop-color="#feefa5"/><stop offset="0.260" stop-color="#ffffbe"/><stop offset="0.448" stop-color="#f2faab"/><stop offset="0.623" stop-color="#e6f598"/><stop offset="0.786" stop-color="#c8e99e"/><stop offset="0.937" stop-color="#aadca4"/><stop offset="1.000" stop-color="#9bd7a4"/></linearGradient><linearGradient id="g22" x1="0" y1="0" x2="0" y2="1"><stop offset="0.000" stop-color="#feea9c"/><stop offset="0.072" stop-color="#feefa5"/><stop offset="0.272" stop-color="#ffffbe"/><stop offset="0.461" stop-color="#f2faab"/><stop offset="0.636" stop-color="#e6f598"/><stop offset="0.799" stop-color="#c8e99e"/><stop offset="0.950" stop-color="#aadca4"/><stop offset="1.000" stop-color="#9ed8a4"/></linearGradient><linearGradient id="g23" x1="0" y1="0" x2="0" y2="1"><stop offset="0.000" stop-color="#fee99a"/><stop offset="0.085" stop-color="#feefa5"/><stop offset="0.285" stop-color="#ffffbe"/><stop offset="0.474" stop-color="#f2faab"/><stop offset="0.649" stop-color="#e6f598"/><stop offset="0.812" stop-color="#c8e99e"/><stop offset="0.963" stop-color="#aadca4"/><stop offset="1.000" stop-color="#a1d9a4"/></linearGradient><linearGradient id="g24" x1="0" y1="0" x2="0" y2="1"><stop offset="0.000" stop-color="#fee899"/><stop offset="0.097" stop-color="#feefa5"/><stop offset="0.298" stop-color="#ffffbe"/><stop offset="0.486" stop-color="#f2faab"/><stop offset="0.662" stop-color="#e6f598"/><stop offset="0.824" stop-color="#c8e99e"/><stop offset="0.975" stop-color="#aadca4"/><stop offset="1.000" stop-color="#a4daa4"/></linearGradient><linearGradient id="g25" x1="0" y1="0" x2="0" y2="1"><stop offset="0.000" stop-color="#fee797"/><stop offset="0.109" stop-color="#feefa5"/><stop offset="0.310" stop-color="#ffffbe"/><stop offset="0.499" stop-color="#f2faab"/><stop offset="0.675" stop-color="#e6f598"/><stop offset="0.837" stop-color="#c8e99e"/><stop offset="0.988" stop-color="#aadca4"/><stop offset="1.000" stop-color="#a7dba4"/></linearGradient><linearGradient id="g26" x1="0" y1="0" x2="0" y2="1"><stop offset="0.000" stop-color="#fee796"/><stop offset="0.121" stop-color="#feefa5"/><stop offset="0.323" stop-color="#ffffbe"/><stop offset="0.512" stop-color="#f2faab"/><stop offset="0.687" stop-color="#e6f598"/><stop offset="0.850" stop-color="#c8e99e"/><stop offset="1.000" stop-color="#aadda4"/></linearGradient><linearGradient id="g27" x1="0" y1="0" x2="0" y2="1"><stop offset="0.000" stop-color="#fee695"/><stop offset="0.133" stop-color="#feefa5"/><stop offset="0.335" stop-color="#ffffbe"/><stop offset="0.524" stop-color="#f2faab"/><stop offset="0.700" stop-color="#e6f598"/><stop offset="0.862" stop-color="#c8e99e"/><stop offset="1.000" stop-color="#acdea3"/></linearGradient><linearGradient id="g28" x1="0" y1="0" x2="0" y2="1"><stop offset="0.000" stop-color="#fee593"/><stop offset="0.145" stop-color="#feefa5"/><stop offset="0.348" stop-color="#ffffbe"/><stop offset="0.537" stop-color="#f2faab"/><stop offset="0.713" stop-color="#e6f598"/><stop offset="0.875" stop-color="#c8e99e"/><stop offset="1.000" stop-color="#afdfa3"/></linearGradient><linearGradient id="g29" x1="0" y1="0" x2="0" y2="1"><stop offset="0.000" stop-color="#fee492"/><stop offset="0.157" stop-color="#feefa5"/><stop offset="0.360" stop-color="#ffffbe"/><stop offset="0.550" stop-color="#f2faab"/><stop offset="0.725" stop-color="#e6f598"/><stop offset="0.887" stop-color="#c8e99e"/><stop offset="1.000" stop-color="#b1e0a2"/></linearGradient><linearGradient id="g30" x1="0" y1="0" x2="0" y2="1"><stop offset="0.000" stop-color="#fee390"/><stop offset="0.169" stop-color="#feefa5"/><stop offset="0.372" stop-color="#ffffbe"/><stop offset="0.562" stop-color="#f2faab"/><stop offset="0.738" stop-color="#e6f598"/><stop offset="0.900" stop-color="#c8e99e"/><stop offset="1.000" stop-color="#b4e1a2"/></linearGradient><linearGradient id="g31" x1="0" y1="0" x2="0" y2="1"><stop offset="0.000" stop-color="#fee28f"/><stop offset="0.181" stop-color="#feefa5"/><stop offset="0.385" stop-color="#ffffbe"/><stop offset="0.574" stop-color="#f2faab"/><stop offset="0.750" stop-color="#e6f598"/><stop offset="0.912" stop-color="#c8e99e"/><stop offset="1.000" stop-color="#b6e2a1"/></linearGradient><linearGradient id="g32" x1="0" y1="0" x2="0" y2="1"><stop offset="0.000" stop-color="#fee28e"/><stop offset="0.193" stop-color="#feefa5"/><stop offset="0.397" stop-color="#ffffbe"/><stop offset="0.587" stop-color="#f2faab"/><stop offset="0.762" stop-color="#e6f598"/><stop offset="0.924" stop-color="#c8e99e"/><stop offset="1.000" stop-color="#b9e3a1"/></linearGradient><linearGradient id="g33" x1="0" y1="0" x2="0" y2="1"><stop offset="0.000" stop-color="#fee18c"/><stop offset="0.205" stop-color="#feefa5"/><stop offset="0.409" stop-color="#ffffbe"/><stop offset="0.599" stop-color="#f2faab"/><stop offset="0.774" stop-color="#e6f598"/><stop offset="0.936" stop-color="#c8e99e"/><stop offset="1.000" stop-color="#bbe4a1"/></linearGradient><linearGradient id="g34" x1="0" y1="0" x2="0" y2="1"><stop offset="0.000" stop-color="#fee08b"/><stop offset="0.217" stop-color="#feefa5"/><stop offset="0.421" stop-color="#ffffbe"/><stop offset="0.611" stop-color="#f2faab"/><stop offset="0.786" stop-color="#e6f598"/><stop offset="0.948" stop-color="#c8e99e"/><stop offset="1.000" stop-color="#bee5a0"/></linearGradient><linearGradient id="g35" x1="0" y1="0" x2="0" y2="1"><stop offset="0.000" stop-color="#fedf8a"/><stop offset="0.011" stop-color="#fee08b"/><stop offset="0.229" stop-color="#feefa5"/><stop offset="0.433" stop-color="#ffffbe"/><stop offset="0.623" stop-color="#f2faab"/><stop offset="0.799" stop-color="#e6f598"/><stop offset="0.960" stop-color="#c8e99e"/><stop offset="1.000" stop-color="#c0e6a0"/></linearGradient><linearGradient id="g36" x1="0" y1="0" x2="0" y2="1"><stop offset="0.000" stop-color="#fede89"/><stop offset="0.022" stop-color="#fee08b"/><stop offset="0.240" stop-color="#feefa5"/><stop offset="0.445" stop-color="#ffffbe"/><stop offset="0.635" stop-color="#f2faab"/><stop offset="0.811" stop-color="#e6f598"/><stop offset="0.972" stop-color="#c8e99e"/><stop offset="1.000" stop-color="#c2e79f"/></linearGradient><linearGradient id="g37" x1="0" y1="0" x2="0" y2="1"><stop offset="0.000" stop-color="#fedc88"/><stop offset="0.034" stop-color="#fee08b"/><stop offset="0.252" stop-color="#feefa5"/><stop offset="0.457" stop-color="#ffffbe"/><stop offset="0.647" stop-color="#f2faab"/><stop offset="0.822" stop-color="#e6f598"/><stop offset="0.984" stop-color="#c8e99e"/><stop offset="1.000" stop-color="#c5e79f"/></linearGradient><linearGradient id="g38" x1="0" y1="0" x2="0" y2="1"><stop offset="0.000" stop-color="#fedb87"/><stop offset="0.045" stop-color="#fee08b"/><stop offset="0.264" stop-color="#feefa5"/><stop offset="0.469" stop-color="#ffffbe"/><stop offset="0.659" stop-color="#f2faab"/><stop offset="0.834" stop-color="#e6f598"/><stop offset="0.996" stop-color="#c8e99e"/><stop offset="1.000" stop-color="#c7e89e"/></linearGradient><linearGradient id="g39" x1="0" y1="0" x2="0" y2="1"><stop offset="0.000" stop-color="#feda86"/><stop offset="0.056" stop-color="#fee08b"/><stop offset="0.275" stop-color="#feefa5"/><stop offset="0.481" stop-color="#ffffbe"/><stop offset="0.671" stop-color="#f2faab"/><stop offset="0.846" stop-color="#e6f598"/><stop offset="1.000" stop-color="#c9e99e"/></linearGradient><linearGradient id="g40" x1="0" y1="0" x2="0" y2="1"><stop offset="0.000" stop-color="#fed985"/><stop offset="0.067" stop-color="#fee08b"/><stop offset="0.287" stop-color="#feefa5"/><stop offset="0.493" stop-color="#ffffbe"/><stop offset="0.683" stop-color="#f2faab"/><stop offset="0.858" stop-color="#e6f598"/><stop offset="1.000" stop-color="#ccea9d"/></linearGradient><linearGradient id="g41" x1="0" y1="0" x2="0" y2="1"><stop offset="0.000" stop-color="#fed784"/><stop offset="0.078" stop-color="#fee08b"/><stop offset="0.298" stop-color="#feefa5"/><stop offset="0.505" stop-color="#ffffbe"/><stop offset="0.695" stop-color="#f2faab"/><stop offset="0.870" stop-color="#e6f598"/><stop offset="1.000" stop-color="#ceeb9d"/></linearGradient><linearGradient id="g42" x1="0" y1="0" x2="0" y2="1"><stop offset="0.000" stop-color="#fed683"/><stop offset="0.089" stop-color="#fee08b"/><stop offset="0.310" stop-color="#feefa5"/><stop offset="0.516" stop-color="#ffffbe"/><stop offset="0.706" stop-color="#f2faab"/><stop offset="0.881" stop-color="#e6f598"/><stop offset="1.000" stop-color="#d0ec9c"/></linearGradient><linearGradient id="g43" x1="0" y1="0" x2="0" y2="1"><stop offset="0.000" stop-color="#fed582"/><stop offset="0.100" stop-color="#fee08b"/><stop offset="0.321" stop-color="#feefa5"/><stop offset="0.528" stop-color="#ffffbe"/><stop offset="0.718" stop-color="#f2faab"/><stop offset="0.893" stop-color="#e6f598"/><stop offset="1.000" stop-color="#d2ed9c"/></linearGradient><linearGradient id="g44" x1="0" y1="0" x2="0" y2="1"><stop offset="0.000" stop-color="#fed481"/><stop offset="0.111" stop-color="#fee08b"/><stop offset="0.333" stop-color="#feefa5"/><stop offset="0.539" stop-color="#ffffbe"/><stop offset="0.730" stop-color="#f2faab"/><stop offset="0.904" stop-color="#e6f598"/><stop offset="1.000" stop-color="#d4ee9c"/></linearGradient><linearGradient id="g45" x1="0" y1="0" x2="0" y2="1"><stop offset="0.000" stop-color="#fed380"/><stop offset="0.122" stop-color="#fee08b"/><stop offset="0.344" stop-color="#feefa5"/><stop offset="0.551" stop-color="#ffffbe"/><stop offset="0.741" stop-color="#f2faab"/><stop offset="0.916" stop-color="#e6f598"/><stop offset="1.000" stop-color="#d6ef9b"/></linearGradient><linearGradient id="g46" x1="0" y1="0" x2="0" y2="1"><stop offset="0.000" stop-color="#fed17f"/><stop offset="0.133" stop-color="#fee08b"/><stop offset="0.356" stop-color="#feefa5"/><stop offset="0.562" stop-color="#ffffbe"/><stop offset="0.752" stop-color="#f2faab"/><stop offset="0.927" stop-color="#e6f598"/><stop offset="1.000" stop-color="#d9f09b"/></linearGradient><linearGradient id="g47" x1="0" y1="0" x2="0" y2="1"><stop offset="0.000" stop-color="#fed07e"/><stop offset="0.144" stop-color="#fee08b"/><stop offset="0.367" stop-color="#feefa5"/><stop offset="0.574" stop-color="#ffffbe"/><stop offset="0.764" stop-color="#f2faab"/><stop offset="0.938" stop-color="#e6f598"/><stop offset="1.000" stop-color="#dbf09a"/></linearGradient><linearGradient id="g48" x1="0" y1="0" x2="0" y2="1"><stop offset="0.000" stop-color="#fecf7d"/><stop offset="0.155" stop-color="#fee08b"/><stop offset="0.378" stop-color="#feefa5"/><stop offset="0.585" stop-color="#ffffbe"/><stop offset="0.775" stop-color="#f2faab"/><stop offset="0.950" stop-color="#e6f598"/><stop offset="1.000" stop-color="#ddf19a"/></linearGradient><linearGradient id="g49" x1="0" y1="0" x2="0" y2="1"><stop offset="0.000" stop-color="#fece7c"/><stop offset="0.166" stop-color="#fee08b"/><stop offset="0.389" stop-color="#feefa5"/><stop offset="0.596" stop-color="#ffffbe"/><stop offset="0.786" stop-color="#f2faab"/><stop offset="0.961" stop-color="#e6f598"/><stop offset="1.000" stop-color="#dff299"/></linearGradient><linearGradient id="g50" x1="0" y1="0" x2="0" y2="1"><stop offset="0.000" stop-color="#fecd7b"/><stop offset="0.177" stop-color="#fee08b"/><stop offset="0.401" stop-color="#feefa5"/><stop offset="0.608" stop-color="#ffffbe"/><stop offset="0.798" stop-color="#f2faab"/><stop offset="0.972" stop-color="#e6f598"/><stop offset="1.000" stop-color="#e1f399"/></linearGradient><linearGradient id="g51" x1="0" y1="0" x2="0" y2="1"><stop offset="0.000" stop-color="#fecc7a"/><stop offset="0.188" stop-color="#fee08b"/><stop offset="0.412" stop-color="#feefa5"/><stop offset="0.619" stop-color="#ffffbe"/><stop offset="0.809" stop-color="#f2faab"/><stop offset="0.983" stop-color="#e6f598"/><stop offset="1.000" stop-color="#e3f499"/></linearGradient><linearGradient id="g52" x1="0" y1="0" x2="0" y2="1"><stop offset="0.000" stop-color="#fecb79"/><stop offset="0.198" stop-color="#fee08b"/><stop offset="0.423" stop-color="#feefa5"/><stop offset="0.630" stop-color="#ffffbe"/><stop offset="0.820" stop-color="#f2faab"/><stop offset="0.994" stop-color="#e6f598"/><stop offset="1.000" stop-color="#e5f598"/></linearGradient><linearGradient id="g53" x1="0" y1="0" x2="0" y2="1"><stop offset="0.000" stop-color="#fdca78"/><stop offset="0.209" stop-color="#fee08b"/><stop offset="0.434" stop-color="#feefa5"/><stop offset="0.641" stop-color="#ffffbe"/><stop offset="0.831" stop-color="#f2faab"/><stop offset="1.000" stop-color="#e6f599"/></linearGradient><linearGradient id="g54" x1="0" y1="0" x2="0" y2="1"><stop offset="0.000" stop-color="#fdc978"/><stop offset="0.220" stop-color="#fee08b"/><stop offset="0.445" stop-color="#feefa5"/><stop offset="0.652" stop-color="#ffffbe"/><stop offset="0.842" stop-color="#f2faab"/><stop offset="1.000" stop-color="#e7f59a"/></linearGradient><linearGradient id="g55" x1="0" y1="0" x2="0" y2="1"><stop offset="0.000" stop-color="#fdc877"/><stop offset="0.231" stop-color="#fee08b"/><stop offset="0.456" stop-color="#feefa5"/><stop offset="0.663" stop-color="#ffffbe"/><stop offset="0.853" stop-color="#f2faab"/><stop offset="1.000" stop-color="#e8f69b"/></linearGradient><linearGradient id="g56" x1="0" y1="0" x2="0" y2="1"><stop offset="0.000" stop-color="#fdc676"/><stop offset="0.241" stop-color="#fee08b"/><stop offset="0.467" stop-color="#feefa5"/><stop offset="0.674" stop-color="#ffffbe"/><stop offset="0.864" stop-color="#f2faab"/><stop offset="1.000" stop-color="#e9f69c"/></linearGradient><linearGradient id="g57" x1="0" y1="0" x2="0" y2="1"><stop offset="0.000" stop-color="#fdc575"/><stop offset="0.010" stop-color="#fdc676"/><stop offset="0.252" stop-color="#fee08b"/><stop offset="0.477" stop-color="#feefa5"/><stop offset="0.685" stop-color="#ffffbe"/><stop offset="0.874" stop-color="#f2faab"/><stop offset="1.000" stop-color="#e9f69d"/></linearGradient><linearGradient id="g58" x1="0" y1="0" x2="0" y2="1"><stop offset="0.000" stop-color="#fdc474"/><stop offset="0.020" stop-color="#fdc676"/><stop offset="0.262" stop-color="#fee08b"/><stop offset="0.488" stop-color="#feefa5"/><stop offset="0.696" stop-color="#ffffbe"/><stop offset="0.885" stop-color="#f2faab"/><stop offset="1.000" stop-color="#eaf79f"/></linearGradient><linearGradient id="g59" x1="0" y1="0" x2="0" y2="1"><stop offset="0.000" stop-color="#fdc373"/><stop offset="0.030" stop-color="#fdc676"/><stop offset="0.273" stop-color="#fee08b"/><stop offset="0.499" stop-color="#feefa5"/><stop offset="0.706" stop-color="#ffffbe"/><stop offset="0.896" stop-color="#f2faab"/><stop offset="1.000" stop-color="#ebf7a0"/></linearGradient><linearGradient id="g60" x1="0" y1="0" x2="0" y2="1"><stop offset="0.000" stop-color="#fdc272"/><stop offset="0.040" stop-color="#fdc676"/><stop offset="0.283" stop-color="#fee08b"/><stop offset="0.510" stop-color="#feefa5"/><stop offset="0.717" stop-color="#ffffbe"/><stop offset="0.906" stop-color="#f2faab"/><stop offset="1.000" stop-color="#ecf7a1"/></linearGradient><linearGradient id="g61" x1="0" y1="0" x2="0" y2="1"><stop offset="0.000" stop-color="#fdc172"/><stop offset="0.050" stop-color="#fdc676"/><stop offset="0.294" stop-color="#fee08b"/><stop offset="0.520" stop-color="#feefa5"/><stop offset="0.728" stop-color="#ffffbe"/><stop offset="0.917" stop-color="#f2faab"/><stop offset="1.000" stop-color="#edf8a2"/></linearGradient><linearGradient id="g62" x1="0" y1="0" x2="0" y2="1"><stop offset="0.000" stop-color="#fdc071"/><stop offset="0.060" stop-color="#fdc676"/><stop offset="0.304" stop-color="#fee08b"/><stop offset="0.531" stop-color="#feefa5"/><stop offset="0.738" stop-color="#ffffbe"/><stop offset="0.928" stop-color="#f2faab"/><stop offset="1.000" stop-color="#edf8a3"/></linearGradient><linearGradient id="g63" x1="0" y1="0" x2="0" y2="1"><stop offset="0.000" stop-color="#fdbf70"/><stop offset="0.070" stop-color="#fdc676"/><stop offset="0.315" stop-color="#fee08b"/><stop offset="0.542" stop-color="#feefa5"/><stop offset="0.749" stop-color="#ffffbe"/><stop offset="0.938" stop-color="#f2faab"/><stop offset="1.000" stop-color="#eef8a4"/></linearGradient><linearGradient id="g64" x1="0" y1="0" x2="0" y2="1"><stop offset="0.000" stop-color="#fdbe6f"/><stop offset="0.080" stop-color="#fdc676"/><stop offset="0.325" stop-color="#fee08b"/><stop offset="0.552" stop-color="#feefa5"/><stop offset="0.759" stop-color="#ffffbe"/><stop offset="0.948" stop-color="#f2faab"/><stop offset="1.000" stop-color="#eff8a6"/></linearGradient><linearGradient id="g65" x1="0" y1="0" x2="0" y2="1"><stop offset="0.000" stop-color="#fdbd6e"/><stop offset="0.090" stop-color="#fdc676"/><stop offset="0.335" stop-color="#fee08b"/><stop offset="0.563" stop-color="#feefa5"/><stop offset="0.770" stop-color="#ffffbe"/><stop offset="0.959" stop-color="#f2faab"/><stop offset="1.000" stop-color="#eff9a7"/></linearGradient><linearGradient id="g66" x1="0" y1="0" x2="0" y2="1"><stop offset="0.000" stop-color="#fdbc6e"/><stop offset="0.100" stop-color="#fdc676"/><stop offset="0.346" stop-color="#fee08b"/><stop offset="0.573" stop-color="#feefa5"/><stop offset="0.780" stop-color="#ffffbe"/><stop offset="0.969" stop-color="#f2faab"/><stop offset="1.000" stop-color="#f0f9a8"/></linearGradient><linearGradient id="g67" x1="0" y1="0" x2="0" y2="1"><stop offset="0.000" stop-color="#fdbc6d"/><stop offset="0.110" stop-color="#fdc676"/><stop offset="0.356" stop-color="#fee08b"/><stop offset="0.583" stop-color="#feefa5"/><stop offset="0.791" stop-color="#ffffbe"/><stop offset="0.979" stop-color="#f2faab"/><stop offset="1.000" stop-color="#f1f9a9"/></linearGradient><linearGradient id="g68" x1="0" y1="0" x2="0" y2="1"><stop offset="0.000" stop-color="#fdbb6c"/><stop offset="0.120" stop-color="#fdc676"/><stop offset="0.366" stop-color="#fee08b"/><stop offset="0.594" stop-color="#feefa5"/><stop offset="0.801" stop-color="#ffffbe"/><stop offset="0.990" stop-color="#f2faab"/><stop offset="1.000" stop-color="#f2faaa"/></linearGradient><linearGradient id="g69" x1="0" y1="0" x2="0" y2="1"><stop offset="0.000" stop-color="#fdba6b"/><stop offset="0.130" stop-color="#fdc676"/><stop offset="0.376" stop-color="#fee08b"/><stop offset="0.604" stop-color="#feefa5"/><stop offset="0.811" stop-color="#ffffbe"/><stop offset="1.000" stop-color="#f2faab"/><stop offset="1.000" stop-color="#f2faab"/></linearGradient><linearGradient id="g70" x1="0" y1="0" x2="0" y2="1"><stop offset="0.000" stop-color="#fdb96a"/><stop offset="0.139" stop-color="#fdc676"/><stop offset="0.387" stop-color="#fee08b"/><stop offset="0.614" stop-color="#feefa5"/><stop offset="0.821" stop-color="#ffffbe"/><stop offset="1.000" stop-color="#f3faac"/></linearGradient><linearGradient id="g71" x1="0" y1="0" x2="0" y2="1"><stop offset="0.000" stop-color="#fdb86a"/><stop offset="0.149" stop-color="#fdc676"/><stop offset="0.397" stop-color="#fee08b"/><stop offset="0.625" stop-color="#feefa5"/><stop offset="0.832" stop-color="#ffffbe"/><stop offset="1.000" stop-color="#f4faad"/></linearGradient><linearGradient id="g72" x1="0" y1="0" x2="0" y2="1"><stop offset="0.000" stop-color="#fdb769"/><stop offset="0.159" stop-color="#fdc676"/><stop offset="0.407" stop-color="#fee08b"/><stop offset="0.635" stop-color="#feefa5"/><stop offset="0.842" stop-color="#ffffbe"/><stop offset="1.000" stop-color="#f4fbae"/></linearGradient><linearGradient id="g73" x1="0" y1="0" x2="0" y2="1"><stop offset="0.000" stop-color="#fdb668"/><stop offset="0.169" stop-color="#fdc676"/><stop offset="0.417" stop-color="#fee08b"/><stop offset="0.645" stop-color="#feefa5"/><stop offset="0.852" stop-color="#ffffbe"/><stop offset="1.000" stop-color="#f5fbaf"/></linearGradient><linearGradient id="g74" x1="0" y1="0" x2="0" y2="1"><stop offset="0.000" stop-color="#fdb567"/><stop offset="0.178" stop-color="#fdc676"/><stop offset="0.427" stop-color="#fee08b"/><stop offset="0.655" stop-color="#feefa5"/><stop offset="0.862" stop-color="#ffffbe"/><stop offset="1.000" stop-color="#f6fbb0"/></linearGradient><linearGradient id="g75" x1="0" y1="0" x2="0" y2="1"><stop offset="0.000" stop-color="#fdb467"/><stop offset="0.188" stop-color="#fdc676"/><stop offset="0.437" stop-color="#fee08b"/><stop offset="0.665" stop-color="#feefa5"/><stop offset="0.872" stop-color="#ffffbe"/><stop offset="1.000" stop-color="#f6fcb1"/></linearGradient><linearGradient id="g76" x1="0" y1="0" x2="0" y2="1"><stop offset="0.000" stop-color="#fdb366"/><stop offset="0.198" stop-color="#fdc676"/><stop offset="0.447" stop-color="#fee08b"/><stop offset="0.675" stop-color="#feefa5"/><stop offset="0.882" stop-color="#ffffbe"/><stop offset="1.000" stop-color="#f7fcb2"/></linearGradient><linearGradient id="g77" x1="0" y1="0" x2="0" y2="1"><stop offset="0.000" stop-color="#fdb365"/><stop offset="0.207" stop-color="#fdc676"/><stop offset="0.457" stop-color="#fee08b"/><stop offset="0.685" stop-color="#feefa5"/><stop offset="0.891" stop-color="#ffffbe"/><stop offset="1.000" stop-color="#f8fcb3"/></linearGradient><linearGradient id="g78" x1="0" y1="0" x2="0" y2="1"><stop offset="0.000" stop-color="#fdb264"/><stop offset="0.217" stop-color="#fdc676"/><stop offset="0.467" stop-color="#fee08b"/><stop offset="0.695" stop-color="#feefa5"/><stop offset="0.901" stop-color="#ffffbe"/><stop offset="1.000" stop-color="#f8fcb4"/></linearGradient><linearGradient id="g79" x1="0" y1="0" x2="0" y2="1"><stop offset="0.000" stop-color="#fdb164"/><stop offset="0.226" stop-color="#fdc676"/><stop offset="0.477" stop-color="#fee08b"/><stop offset="0.705" stop-color="#feefa5"/><stop offset="0.911" stop-color="#ffffbe"/><stop offset="1.000" stop-color="#f9fdb5"/></linearGradient><linearGradient id="g80" x1="0" y1="0" x2="0" y2="1"><stop offset="0.000" stop-color="#fdb063"/><stop offset="0.236" stop-color="#fdc676"/><stop offset="0.486" stop-color="#fee08b"/><stop offset="0.714" stop-color="#feefa5"/><stop offset="0.921" stop-color="#ffffbe"/><stop offset="1.000" stop-color="#f9fdb6"/></linearGradient><linearGradient id="g81" x1="0" y1="0" x2="0" y2="1"><stop offset="0.000" stop-color="#fdaf62"/><stop offset="0.245" stop-color="#fdc676"/><stop offset="0.496" stop-color="#fee08b"/><stop offset="0.724" stop-color="#feefa5"/><stop offset="0.930" stop-color="#ffffbe"/><stop offset="1.000" stop-color="#fafdb7"/></linearGradient><linearGradient id="g82" x1="0" y1="0" x2="0" y2="1"><stop offset="0.000" stop-color="#fdae62"/><stop offset="0.255" stop-color="#fdc676"/><stop offset="0.506" stop-color="#fee08b"/><stop offset="0.734" stop-color="#feefa5"/><stop offset="0.940" stop-color="#ffffbe"/><stop offset="1.000" stop-color="#fbfdb8"/></linearGradient><linearGradient id="g83" x1="0" y1="0" x2="0" y2="1"><stop offset="0.000" stop-color="#fdad61"/><stop offset="0.264" stop-color="#fdc676"/><stop offset="0.515" stop-color="#fee08b"/><stop offset="0.743" stop-color="#feefa5"/><stop offset="0.950" stop-color="#ffffbe"/><stop offset="1.000" stop-color="#fbfeb9"/></linearGradient><linearGradient id="g84" x1="0" y1="0" x2="0" y2="1"><stop offset="0.000" stop-color="#fdad60"/><stop offset="0.002" stop-color="#fdad60"/><stop offset="0.274" stop-color="#fdc676"/><stop offset="0.525" stop-color="#fee08b"/><stop offset="0.753" stop-color="#feefa5"/><stop offset="0.959" stop-color="#ffffbe"/><stop offset="1.000" stop-color="#fcfeba"/></linearGradient><linearGradient id="g85" x1="0" y1="0" x2="0" y2="1"><stop offset="0.000" stop-color="#fdac60"/><stop offset="0.011" stop-color="#fdad60"/><stop offset="0.283" stop-color="#fdc676"/><stop offset="0.535" stop-color="#fee08b"/><stop offset="0.763" stop-color="#feefa5"/><stop offset="0.969" stop-color="#ffffbe"/><stop offset="1.000" stop-color="#fdfebb"/></linearGradient><linearGradient id="g86" x1="0" y1="0" x2="0" y2="1"><stop offset="0.000" stop-color="#fdab5f"/><stop offset="0.020" stop-color="#fdad60"/><stop offset="0.293" stop-color="#fdc676"/><stop offset="0.544" stop-color="#fee08b"/><stop offset="0.772" stop-color="#feefa5"/><stop offset="0.978" stop-color="#ffffbe"/><stop offset="1.000" stop-color="#fdfebc"/></linearGradient><linearGradient id="g87" x1="0" y1="0" x2="0" y2="1"><stop offset="0.000" stop-color="#fcaa5f"/><stop offset="0.029" stop-color="#fdad60"/><stop offset="0.302" stop-color="#fdc676"/><stop offset="0.554" stop-color="#fee08b"/><stop offset="0.782" stop-color="#feefa5"/><stop offset="0.988" stop-color="#ffffbe"/><stop offset="1.000" stop-color="#fefebd"/></linearGradient><linearGradient id="g88" x1="0" y1="0" x2="0" y2="1"><stop offset="0.000" stop-color="#fca95f"/><stop offset="0.038" stop-color="#fdad60"/><stop offset="0.311" stop-color="#fdc676"/><stop offset="0.563" stop-color="#fee08b"/><stop offset="0.791" stop-color="#feefa5"/><stop offset="0.997" stop-color="#ffffbe"/><stop offset="1.000" stop-color="#feffbe"/></linearGradient><linearGradient id="g89" x1="0" y1="0" x2="0" y2="1"><stop offset="0.000" stop-color="#fca85e"/><stop offset="0.047" stop-color="#fdad60"/><stop offset="0.321" stop-color="#fdc676"/><stop offset="0.573" stop-color="#fee08b"/><stop offset="0.801" stop-color="#feefa5"/><stop offset="1.000" stop-color="#fffebd"/></linearGradient><linearGradient id="g90" x1="0" y1="0" x2="0" y2="1"><stop offset="0.000" stop-color="#fca75e"/><stop offset="0.055" stop-color="#fdad60"/><stop offset="0.330" stop-color="#fdc676"/><stop offset="0.582" stop-color="#fee08b"/><stop offset="0.810" stop-color="#feefa5"/><stop offset="1.000" stop-color="#fefebc"/></linearGradient><linearGradient id="g91" x1="0" y1="0" x2="0" y2="1"><stop offset="0.000" stop-color="#fca65d"/><stop offset="0.064" stop-color="#fdad60"/><stop offset="0.339" stop-color="#fdc676"/><stop offset="0.592" stop-color="#fee08b"/><stop offset="0.819" stop-color="#feefa5"/><stop offset="1.000" stop-color="#fefdbb"/></linearGradient><linearGradient id="g92" x1="0" y1="0" x2="0" y2="1"><stop offset="0.000" stop-color="#fca55d"/><stop offset="0.073" stop-color="#fdad60"/><stop offset="0.348" stop-color="#fdc676"/><stop offset="0.601" stop-color="#fee08b"/><stop offset="0.829" stop-color="#feefa5"/><stop offset="1.000" stop-color="#fefcba"/></linearGradient><linearGradient id="g93" x1="0" y1="0" x2="0" y2="1"><stop offset="0.000" stop-color="#fca45c"/><stop offset="0.082" stop-color="#fdad60"/><stop offset="0.358" stop-color="#fdc676"/><stop offset="0.610" stop-color="#fee08b"/><stop offset="0.838" stop-color="#feefa5"/><stop offset="1.000" stop-color="#fefbb9"/></linearGradient><linearGradient id="g94" x1="0" y1="0" x2="0" y2="1"><stop offset="0.000" stop-color="#fba35c"/><stop offset="0.091" stop-color="#fdad60"/><stop offset="0.367" stop-color="#fdc676"/><stop offset="0.620" stop-color="#fee08b"/><stop offset="0.847" stop-color="#feefa5"/><stop offset="1.000" stop-color="#fefbb7"/></linearGradient><linearGradient id="g95" x1="0" y1="0" x2="0" y2="1"><stop offset="0.000" stop-color="#fba25b"/><stop offset="0.099" stop-color="#fdad60"/><stop offset="0.376" stop-color="#fdc676"/><stop offset="0.629" stop-color="#fee08b"/><stop offset="0.856" stop-color="#feefa5"/><stop offset="1.000" stop-color="#fefab6"/></linearGradient><linearGradient id="g96" x1="0" y1="0" x2="0" y2="1"><stop offset="0.000" stop-color="#fba15b"/><stop offset="0.108" stop-color="#fdad60"/><stop offset="0.385" stop-color="#fdc676"/><stop offset="0.638" stop-color="#fee08b"/><stop offset="0.865" stop-color="#feefa5"/><stop offset="1.000" stop-color="#fef9b5"/></linearGradient><linearGradient id="g97" x1="0" y1="0" x2="0" y2="1"><stop offset="0.000" stop-color="#fba05b"/><stop offset="0.117" stop-color="#fdad60"/><stop offset="0.394" stop-color="#fdc676"/><stop offset="0.647" stop-color="#fee08b"/><stop offset="0.875" stop-color="#feefa5"/><stop offset="1.000" stop-color="#fef9b4"/></linearGradient><linearGradient id="g98" x1="0" y1="0" x2="0" y2="1"><stop offset="0.000" stop-color="#fb9f5a"/><stop offset="0.126" stop-color="#fdad60"/><stop offset="0.403" stop-color="#fdc676"/><stop offset="0.656" stop-color="#fee08b"/><stop offset="0.884" stop-color="#feefa5"/><stop offset="1.000" stop-color="#fef8b3"/></linearGradient><linearGradient id="g99" x1="0" y1="0" x2="0" y2="1"><stop offset="0.000" stop-color="#fb9e5a"/><stop offset="0.134" stop-color="#fdad60"/><stop offset="0.412" stop-color="#fdc676"/><stop offset="0.665" stop-color="#fee08b"/><stop offset="0.893" stop-color="#feefa5"/><stop offset="1.000" stop-color="#fef7b2"/></linearGradient><linearGradient id="g100" x1="0" y1="0" x2="0" y2="1"><stop offset="0.000" stop-color="#fb9d59"/><stop offset="0.143" stop-color="#fdad60"/><stop offset="0.421" stop-color="#fdc676"/><stop offset="0.674" stop-color="#fee08b"/><stop offset="0.902" stop-color="#feefa5"/><stop offset="1.000" stop-color="#fef7b1"/></linearGradient><linearGradient id="g101" x1="0" y1="0" x2="0" y2="1"><stop offset="0.000" stop-color="#fb9c59"/><stop offset="0.151" stop-color="#fdad60"/><stop offset="0.430" stop-color="#fdc676"/><stop offset="0.683" stop-color="#fee08b"/><stop offset="0.910" stop-color="#feefa5"/><stop offset="1.000" stop-color="#fef6b0"/></linearGradient><linearGradient id="g102" x1="0" y1="0" x2="0" y2="1"><stop offset="0.000" stop-color="#fa9c59"/><stop offset="0.160" stop-color="#fdad60"/><stop offset="0.439" stop-color="#fdc676"/><stop offset="0.692" stop-color="#fee08b"/><stop offset="0.919" stop-color="#feefa5"/><stop offset="1.000" stop-color="#fef5ae"/></linearGradient><linearGradient id="g103" x1="0" y1="0" x2="0" y2="1"><stop offset="0.000" stop-color="#fa9b58"/><stop offset="0.169" stop-color="#fdad60"/><stop offset="0.448" stop-color="#fdc676"/><stop offset="0.701" stop-color="#fee08b"/><stop offset="0.928" stop-color="#feefa5"/><stop offset="1.000" stop-color="#fef5ad"/></linearGradient><linearGradient id="g104" x1="0" y1="0" x2="0" y2="1"><stop offset="0.000" stop-color="#fa9a58"/><stop offset="0.177" stop-color="#fdad60"/><stop offset="0.457" stop-color="#fdc676"/><stop offset="0.710" stop-color="#fee08b"/><stop offset="0.937" stop-color="#feefa5"/><stop offset="1.000" stop-color="#fef4ac"/></linearGradient><linearGradient id="g105" x1="0" y1="0" x2="0" y2="1"><stop offset="0.000" stop-color="#fa9957"/><stop offset="0.186" stop-color="#fdad60"/><stop offset="0.466" stop-color="#fdc676"/><stop offset="0.719" stop-color="#fee08b"/><stop offset="0.946" stop-color="#feefa5"/><stop offset="1.000" stop-color="#fef3ab"/></linearGradient><linearGradient id="g106" x1="0" y1="0" x2="0" y2="1"><stop offset="0.000" stop-color="#fa9857"/><stop offset="0.194" stop-color="#fdad60"/><stop offset="0.475" stop-color="#fdc676"/><stop offset="0.728" stop-color="#fee08b"/><stop offset="0.955" stop-color="#feefa5"/><stop offset="1.000" stop-color="#fef3aa"/></linearGradient><linearGradient id="g107" x1="0" y1="0" x2="0" y2="1"><stop offset="0.000" stop-color="#fa9757"/><stop offset="0.203" stop-color="#fdad60"/><stop offset="0.484" stop-color="#fdc676"/><stop offset="0.737" stop-color="#fee08b"/><stop offset="0.963" stop-color="#feefa5"/><stop offset="1.000" stop-color="#fef2a9"/></linearGradient><linearGradient id="g108" x1="0" y1="0" x2="0" y2="1"><stop offset="0.000" stop-color="#fa9656"/><stop offset="0.211" stop-color="#fdad60"/><stop offset="0.492" stop-color="#fdc676"/><stop offset="0.745" stop-color="#fee08b"/><stop offset="0.972" stop-color="#feefa5"/><stop offset="1.000" stop-color="#fef1a8"/></linearGradient><linearGradient id="g109" x1="0" y1="0" x2="0" y2="1"><stop offset="0.000" stop-color="#fa9656"/><stop offset="0.220" stop-color="#fdad60"/><stop offset="0.501" stop-color="#fdc676"/><stop offset="0.754" stop-color="#fee08b"/><stop offset="0.981" stop-color="#feefa5"/><stop offset="1.000" stop-color="#fef1a7"/></linearGradient><linearGradient id="g110" x1="0" y1="0" x2="0" y2="1"><stop offset="0.000" stop-color="#fa9555"/><stop offset="0.228" stop-color="#fdad60"/><stop offset="0.510" stop-color="#fdc676"/><stop offset="0.763" stop-color="#fee08b"/><stop offset="0.989" stop-color="#feefa5"/><stop offset="1.000" stop-color="#fef0a6"/></linearGradient><linearGradient id="g111" x1="0" y1="0" x2="0" y2="1"><stop offset="0.000" stop-color="#f99455"/><stop offset="0.237" stop-color="#fdad60"/><stop offset="0.518" stop-color="#fdc676"/><stop offset="0.772" stop-color="#fee08b"/><stop offset="0.998" stop-color="#feefa5"/><stop offset="1.000" stop-color="#fef0a5"/></linearGradient><linearGradient id="g112" x1="0" y1="0" x2="0" y2="1"><stop offset="0.000" stop-color="#f99355"/><stop offset="0.245" stop-color="#fdad60"/><stop offset="0.527" stop-color="#fdc676"/><stop offset="0.780" stop-color="#fee08b"/><stop offset="1.000" stop-color="#feefa4"/></linearGradient><linearGradient id="g113" x1="0" y1="0" x2="0" y2="1"><stop offset="0.000" stop-color="#f99254"/><stop offset="0.253" stop-color="#fdad60"/><stop offset="0.536" stop-color="#fdc676"/><stop offset="0.789" stop-color="#fee08b"/><stop offset="1.000" stop-color="#feeea3"/></linearGradient><linearGradient id="g114" x1="0" y1="0" x2="0" y2="1"><stop offset="0.000" stop-color="#f99254"/><stop offset="0.262" stop-color="#fdad60"/><stop offset="0.544" stop-color="#fdc676"/><stop offset="0.797" stop-color="#fee08b"/><stop offset="1.000" stop-color="#feeea2"/></linearGradient><linearGradient id="g115" x1="0" y1="0" x2="0" y2="1"><stop offset="0.000" stop-color="#f99153"/><stop offset="0.270" stop-color="#fdad60"/><stop offset="0.553" stop-color="#fdc676"/><stop offset="0.806" stop-color="#fee08b"/><stop offset="1.000" stop-color="#feeda1"/></linearGradient><linearGradient id="g116" x1="0" y1="0" x2="0" y2="1"><stop offset="0.000" stop-color="#f99053"/><stop offset="0.279" stop-color="#fdad60"/><stop offset="0.561" stop-color="#fdc676"/><stop offset="0.814" stop-color="#fee08b"/><stop offset="1.000" stop-color="#feeda0"/></linearGradient><linearGradient id="g117" x1="0" y1="0" x2="0" y2="1"><stop offset="0.000" stop-color="#f98f53"/><stop offset="0.287" stop-color="#fdad60"/><stop offset="0.570" stop-color="#fdc676"/><stop offset="0.823" stop-color="#fee08b"/><stop offset="1.000" stop-color="#feec9f"/></linearGradient><linearGradient id="g118" x1="0" y1="0" x2="0" y2="1"><stop offset="0.000" stop-color="#f98e52"/><stop offset="0.295" stop-color="#fdad60"/><stop offset="0.578" stop-color="#fdc676"/><stop offset="0.831" stop-color="#fee08b"/><stop offset="1.000" stop-color="#feeb9e"/></linearGradient><linearGradient id="g119" x1="0" y1="0" x2="0" y2="1"><stop offset="0.000" stop-color="#f98e52"/><stop offset="0.303" stop-color="#fdad60"/><stop offset="0.587" stop-color="#fdc676"/><stop offset="0.840" stop-color="#fee08b"/><stop offset="1.000" stop-color="#feeb9d"/></linearGradient><linearGradient id="g120" x1="0" y1="0" x2="0" y2="1"><stop offset="0.000" stop-color="#f88d52"/><stop offset="0.000" stop-color="#f88d52"/><stop offset="0.312" stop-color="#fdad60"/><stop offset="0.595" stop-color="#fdc676"/><stop offset="0.848" stop-color="#fee08b"/><stop offset="1.000" stop-color="#feea9c"/></linearGradient><linearGradient id="g121" x1="0" y1="0" x2="0" y2="1"><stop offset="0.000" stop-color="#f88c51"/><stop offset="0.009" stop-color="#f88d52"/><stop offset="0.320" stop-color="#fdad60"/><stop offset="0.604" stop-color="#fdc676"/><stop offset="0.856" stop-color="#fee08b"/><stop offset="1.000" stop-color="#feea9b"/></linearGradient><linearGradient id="g122" x1="0" y1="0" x2="0" y2="1"><stop offset="0.000" stop-color="#f88b51"/><stop offset="0.017" stop-color="#f88d52"/><stop offset="0.328" stop-color="#fdad60"/><stop offset="0.612" stop-color="#fdc676"/><stop offset="0.865" stop-color="#fee08b"/><stop offset="1.000" stop-color="#fee99a"/></linearGradient><linearGradient id="g123" x1="0" y1="0" x2="0" y2="1"><stop offset="0.000" stop-color="#f88b51"/><stop offset="0.025" stop-color="#f88d52"/><stop offset="0.336" stop-color="#fdad60"/><stop offset="0.620" stop-color="#fdc676"/><stop offset="0.873" stop-color="#fee08b"/><stop offset="1.000" stop-color="#fee899"/></linearGradient><linearGradient id="g124" x1="0" y1="0" x2="0" y2="1"><stop offset="0.000" stop-color="#f88a50"/><stop offset="0.032" stop-color="#f88d52"/><stop offset="0.345" stop-color="#fdad60"/><stop offset="0.629" stop-color="#fdc676"/><stop offset="0.881" stop-color="#fee08b"/><stop offset="1.000" stop-color="#fee898"/></linearGradient><linearGradient id="g125" x1="0" y1="0" x2="0" y2="1"><stop offset="0.000" stop-color="#f88950"/><stop offset="0.040" stop-color="#f88d52"/><stop offset="0.353" stop-color="#fdad60"/><stop offset="0.637" stop-color="#fdc676"/><stop offset="0.889" stop-color="#fee08b"/><stop offset="1.000" stop-color="#fee797"/></linearGradient><linearGradient id="g126" x1="0" y1="0" x2="0" y2="1"><stop offset="0.000" stop-color="#f88850"/><stop offset="0.048" stop-color="#f88d52"/><stop offset="0.361" stop-color="#fdad60"/><stop offset="0.645" stop-color="#fdc676"/><stop offset="0.897" stop-color="#fee08b"/><stop offset="1.000" stop-color="#fee796"/></linearGradient><linearGradient id="g127" x1="0" y1="0" x2="0" y2="1"><stop offset="0.000" stop-color="#f8884f"/><stop offset="0.055" stop-color="#f88d52"/><stop offset="0.369" stop-color="#fdad60"/><stop offset="0.653" stop-color="#fdc676"/><stop offset="0.905" stop-color="#fee08b"/><stop offset="1.000" stop-color="#fee695"/></linearGradient><linearGradient id="g128" x1="0" y1="0" x2="0" y2="1"><stop offset="0.000" stop-color="#f8874f"/><stop offset="0.063" stop-color="#f88d52"/><stop offset="0.377" stop-color="#fdad60"/><stop offset="0.661" stop-color="#fdc676"/><stop offset="0.914" stop-color="#fee08b"/><stop offset="1.000" stop-color="#fee695"/></linearGradient><linearGradient id="g129" x1="0" y1="0" x2="0" y2="1"><stop offset="0.000" stop-color="#f7864f"/><stop offset="0.071" stop-color="#f88d52"/><stop offset="0.385" stop-color="#fdad60"/><stop offset="0.670" stop-color="#fdc676"/><stop offset="0.922" stop-color="#fee08b"/><stop offset="1.000" stop-color="#fee594"/></linearGradient><linearGradient id="g130" x1="0" y1="0" x2="0" y2="1"><stop offset="0.000" stop-color="#f7854e"/><stop offset="0.078" stop-color="#f88d52"/><stop offset="0.393" stop-color="#fdad60"/><stop offset="0.678" stop-color="#fdc676"/><stop offset="0.930" stop-color="#fee08b"/><stop offset="1.000" stop-color="#fee593"/></linearGradient><linearGradient id="g131" x1="0" y1="0" x2="0" y2="1"><stop offset="0.000" stop-color="#f7854e"/><stop offset="0.086" stop-color="#f88d52"/><stop offset="0.401" stop-color="#fdad60"/><stop offset="0.686" stop-color="#fdc676"/><stop offset="0.938" stop-color="#fee08b"/><stop offset="1.000" stop-color="#fee492"/></linearGradient><linearGradient id="g132" x1="0" y1="0" x2="0" y2="1"><stop offset="0.000" stop-color="#f7844e"/><stop offset="0.093" stop-color="#f88d52"/><stop offset="0.409" stop-color="#fdad60"/><stop offset="0.694" stop-color="#fdc676"/><stop offset="0.946" stop-color="#fee08b"/><stop offset="1.000" stop-color="#fee491"/></linearGradient><linearGradient id="g133" x1="0" y1="0" x2="0" y2="1"><stop offset="0.000" stop-color="#f7834d"/><stop offset="0.101" stop-color="#f88d52"/><stop offset="0.417" stop-color="#fdad60"/><stop offset="0.702" stop-color="#fdc676"/><stop offset="0.954" stop-color="#fee08b"/><stop offset="1.000" stop-color="#fee390"/></linearGradient><linearGradient id="g134" x1="0" y1="0" x2="0" y2="1"><stop offset="0.000" stop-color="#f7834d"/><stop offset="0.109" stop-color="#f88d52"/><stop offset="0.425" stop-color="#fdad60"/><stop offset="0.710" stop-color="#fdc676"/><stop offset="0.962" stop-color="#fee08b"/><stop offset="1.000" stop-color="#fee38f"/></linearGradient><linearGradient id="g135" x1="0" y1="0" x2="0" y2="1"><stop offset="0.000" stop-color="#f7824d"/><stop offset="0.116" stop-color="#f88d52"/><stop offset="0.433" stop-color="#fdad60"/><stop offset="0.718" stop-color="#fdc676"/><stop offset="0.969" stop-color="#fee08b"/><stop offset="1.000" stop-color="#fee28e"/></linearGradient><linearGradient id="g136" x1="0" y1="0" x2="0" y2="1"><stop offset="0.000" stop-color="#f7814c"/><stop offset="0.124" stop-color="#f88d52"/><stop offset="0.441" stop-color="#fdad60"/><stop offset="0.726" stop-color="#fdc676"/><stop offset="0.977" stop-color="#fee08b"/><stop offset="1.000" stop-color="#fee18d"/></linearGradient><linearGradient id="g137" x1="0" y1="0" x2="0" y2="1"><stop offset="0.000" stop-color="#f7814c"/><stop offset="0.131" stop-color="#f88d52"/><stop offset="0.449" stop-color="#fdad60"/><stop offset="0.734" stop-color="#fdc676"/><stop offset="0.985" stop-color="#fee08b"/><stop offset="1.000" stop-color="#fee18d"/></linearGradient><linearGradient id="g138" x1="0" y1="0" x2="0" y2="1"><stop offset="0.000" stop-color="#f7804c"/><stop offset="0.139" stop-color="#f88d52"/><stop offset="0.457" stop-color="#fdad60"/><stop offset="0.741" stop-color="#fdc676"/><stop offset="0.993" stop-color="#fee08b"/><stop offset="1.000" stop-color="#fee08c"/></linearGradient><linearGradient id="g139" x1="0" y1="0" x2="0" y2="1"><stop offset="0.000" stop-color="#f77f4b"/><stop offset="0.146" stop-color="#f88d52"/><stop offset="0.465" stop-color="#fdad60"/><stop offset="0.749" stop-color="#fdc676"/><stop offset="1.000" stop-color="#fee08b"/></linearGradient><linearGradient id="g140" x1="0" y1="0" x2="0" y2="1"><stop offset="0.000" stop-color="#f67f4b"/><stop offset="0.154" stop-color="#f88d52"/><stop offset="0.473" stop-color="#fdad60"/><stop offset="0.757" stop-color="#fdc676"/><stop offset="1.000" stop-color="#fedf8a"/></linearGradient><linearGradient id="g141" x1="0" y1="0" x2="0" y2="1"><stop offset="0.000" stop-color="#f67e4b"/><stop offset="0.161" stop-color="#f88d52"/><stop offset="0.480" stop-color="#fdad60"/><stop offset="0.765" stop-color="#fdc676"/><stop offset="1.000" stop-color="#fede8a"/></linearGradient><linearGradient id="g142" x1="0" y1="0" x2="0" y2="1"><stop offset="0.000" stop-color="#f67d4a"/><stop offset="0.169" stop-color="#f88d52"/><stop offset="0.488" stop-color="#fdad60"/><stop offset="0.773" stop-color="#fdc676"/><stop offset="1.000" stop-color="#fedd89"/></linearGradient><linearGradient id="g143" x1="0" y1="0" x2="0" y2="1"><stop offset="0.000" stop-color="#f67d4a"/><stop offset="0.176" stop-color="#f88d52"/><stop offset="0.496" stop-color="#fdad60"/><stop offset="0.780" stop-color="#fdc676"/><stop offset="1.000" stop-color="#fedd88"/></linearGradient><linearGradient id="g144" x1="0" y1="0" x2="0" y2="1"><stop offset="0.000" stop-color="#f67c4a"/><stop offset="0.184" stop-color="#f88d52"/><stop offset="0.504" stop-color="#fdad60"/><stop offset="0.788" stop-color="#fdc676"/><stop offset="1.000" stop-color="#fedc88"/></linearGradient><linearGradient id="g145" x1="0" y1="0" x2="0" y2="1"><stop offset="0.000" stop-color="#f67b4a"/><stop offset="0.191" stop-color="#f88d52"/><stop offset="0.511" stop-color="#fdad60"/><stop offset="0.796" stop-color="#fdc676"/><stop offset="1.000" stop-color="#fedb87"/></linearGradient><linearGradient id="g146" x1="0" y1="0" x2="0" y2="1"><stop offset="0.000" stop-color="#f67b49"/><stop offset="0.198" stop-color="#f88d52"/><stop offset="0.519" stop-color="#fdad60"/><stop offset="0.803" stop-color="#fdc676"/><stop offset="1.000" stop-color="#feda86"/></linearGradient><linearGradient id="g147" x1="0" y1="0" x2="0" y2="1"><stop offset="0.000" stop-color="#f67a49"/><stop offset="0.206" stop-color="#f88d52"/><stop offset="0.527" stop-color="#fdad60"/><stop offset="0.811" stop-color="#fdc676"/><stop offset="1.000" stop-color="#fed986"/></linearGradient><linearGradient id="g148" x1="0" y1="0" x2="0" y2="1"><stop offset="0.000" stop-color="#f67949"/><stop offset="0.213" stop-color="#f88d52"/><stop offset="0.534" stop-color="#fdad60"/><stop offset="0.819" stop-color="#fdc676"/><stop offset="1.000" stop-color="#fed985"/></linearGradient><linearGradient id="g149" x1="0" y1="0" x2="0" y2="1"><stop offset="0.000" stop-color="#f67948"/><stop offset="0.221" stop-color="#f88d52"/><stop offset="0.542" stop-color="#fdad60"/><stop offset="0.826" stop-color="#fdc676"/><stop offset="1.000" stop-color="#fed884"/></linearGradient><linearGradient id="g150" x1="0" y1="0" x2="0" y2="1"><stop offset="0.000" stop-color="#f67848"/><stop offset="0.228" stop-color="#f88d52"/><stop offset="0.550" stop-color="#fdad60"/><stop offset="0.834" stop-color="#fdc676"/><stop offset="1.000" stop-color="#fed784"/></linearGradient><linearGradient id="g151" x1="0" y1="0" x2="0" y2="1"><stop offset="0.000" stop-color="#f57748"/><stop offset="0.235" stop-color="#f88d52"/><stop offset="0.557" stop-color="#fdad60"/><stop offset="0.841" stop-color="#fdc676"/><stop offset="1.000" stop-color="#fed683"/></linearGradient><linearGradient id="g152" x1="0" y1="0" x2="0" y2="1"><stop offset="0.000" stop-color="#f57748"/><stop offset="0.243" stop-color="#f88d52"/><stop offset="0.565" stop-color="#fdad60"/><stop offset="0.849" stop-color="#fdc676"/><stop offset="1.000" stop-color="#fed582"/></linearGradient><linearGradient id="g153" x1="0" y1="0" x2="0" y2="1"><stop offset="0.000" stop-color="#f57647"/><stop offset="0.250" stop-color="#f88d52"/><stop offset="0.572" stop-color="#fdad60"/><stop offset="0.856" stop-color="#fdc676"/><stop offset="1.000" stop-color="#fed582"/></linearGradient><linearGradient id="g154" x1="0" y1="0" x2="0" y2="1"><stop offset="0.000" stop-color="#f57647"/><stop offset="0.257" stop-color="#f88d52"/><stop offset="0.580" stop-color="#fdad60"/><stop offset="0.864" stop-color="#fdc676"/><stop offset="1.000" stop-color="#fed481"/></linearGradient><linearGradient id="g155" x1="0" y1="0" x2="0" y2="1"><stop offset="0.000" stop-color="#f57547"/><stop offset="0.265" stop-color="#f88d52"/><stop offset="0.587" stop-color="#fdad60"/><stop offset="0.871" stop-color="#fdc676"/><stop offset="1.000" stop-color="#fed380"/></linearGradient><linearGradient id="g156" x1="0" y1="0" x2="0" y2="1"><stop offset="0.000" stop-color="#f57446"/><stop offset="0.272" stop-color="#f88d52"/><stop offset="0.595" stop-color="#fdad60"/><stop offset="0.879" stop-color="#fdc676"/><stop offset="1.000" stop-color="#fed280"/></linearGradient><linearGradient id="g157" x1="0" y1="0" x2="0" y2="1"><stop offset="0.000" stop-color="#f57446"/><stop offset="0.279" stop-color="#f88d52"/><stop offset="0.602" stop-color="#fdad60"/><stop offset="0.886" stop-color="#fdc676"/><stop offset="1.000" stop-color="#fed27f"/></linearGradient><linearGradient id="g158" x1="0" y1="0" x2="0" y2="1"><stop offset="0.000" stop-color="#f57346"/><stop offset="0.286" stop-color="#f88d52"/><stop offset="0.609" stop-color="#fdad60"/><stop offset="0.893" stop-color="#fdc676"/><stop offset="1.000" stop-color="#fed17e"/></linearGradient><linearGradient id="g159" x1="0" y1="0" x2="0" y2="1"><stop offset="0.000" stop-color="#f57346"/><stop offset="0.293" stop-color="#f88d52"/><stop offset="0.617" stop-color="#fdad60"/><stop offset="0.901" stop-color="#fdc676"/><stop offset="1.000" stop-color="#fed07e"/></linearGradient><linearGradient id="g160" x1="0" y1="0" x2="0" y2="1"><stop offset="0.000" stop-color="#f57245"/><stop offset="0.301" stop-color="#f88d52"/><stop offset="0.624" stop-color="#fdad60"/><stop offset="0.908" stop-color="#fdc676"/><stop offset="1.000" stop-color="#fecf7d"/></linearGradient><linearGradient id="g161" x1="0" y1="0" x2="0" y2="1"><stop offset="0.000" stop-color="#f57145"/><stop offset="0.308" stop-color="#f88d52"/><stop offset="0.632" stop-color="#fdad60"/><stop offset="0.915" stop-color="#fdc676"/><stop offset="1.000" stop-color="#fecf7d"/></linearGradient><linearGradient id="g162" x1="0" y1="0" x2="0" y2="1"><stop offset="0.000" stop-color="#f57145"/><stop offset="0.315" stop-color="#f88d52"/><stop offset="0.639" stop-color="#fdad60"/><stop offset="0.922" stop-color="#fdc676"/><stop offset="1.000" stop-color="#fece7c"/></linearGradient><linearGradient id="g163" x1="0" y1="0" x2="0" y2="1"><stop offset="0.000" stop-color="#f47045"/><stop offset="0.322" stop-color="#f88d52"/><stop offset="0.646" stop-color="#fdad60"/><stop offset="0.930" stop-color="#fdc676"/><stop offset="1.000" stop-color="#fecd7b"/></linearGradient><linearGradient id="g164" x1="0" y1="0" x2="0" y2="1"><stop offset="0.000" stop-color="#f47044"/><stop offset="0.329" stop-color="#f88d52"/><stop offset="0.653" stop-color="#fdad60"/><stop offset="0.937" stop-color="#fdc676"/><stop offset="1.000" stop-color="#fecd7b"/></linearGradient><linearGradient id="g165" x1="0" y1="0" x2="0" y2="1"><stop offset="0.000" stop-color="#f46f44"/><stop offset="0.336" stop-color="#f88d52"/><stop offset="0.661" stop-color="#fdad60"/><stop offset="0.944" stop-color="#fdc676"/><stop offset="1.000" stop-color="#fecc7a"/></linearGradient><linearGradient id="g166" x1="0" y1="0" x2="0" y2="1"><stop offset="0.000" stop-color="#f46f44"/><stop offset="0.344" stop-color="#f88d52"/><stop offset="0.668" stop-color="#fdad60"/><stop offset="0.951" stop-color="#fdc676"/><stop offset="1.000" stop-color="#fecb7a"/></linearGradient><linearGradient id="g167" x1="0" y1="0" x2="0" y2="1"><stop offset="0.000" stop-color="#f46e43"/><stop offset="0.351" stop-color="#f88d52"/><stop offset="0.675" stop-color="#fdad60"/><stop offset="0.958" stop-color="#fdc676"/><stop offset="1.000" stop-color="#feca79"/></linearGradient><linearGradient id="g168" x1="0" y1="0" x2="0" y2="1"><stop offset="0.000" stop-color="#f46d43"/><stop offset="0.358" stop-color="#f88d52"/><stop offset="0.682" stop-color="#fdad60"/><stop offset="0.965" stop-color="#fdc676"/><stop offset="1.000" stop-color="#fdca79"/></linearGradient><linearGradient id="g169" x1="0" y1="0" x2="0" y2="1"><stop offset="0.000" stop-color="#f46d43"/><stop offset="0.003" stop-color="#f46d43"/><stop offset="0.365" stop-color="#f88d52"/><stop offset="0.689" stop-color="#fdad60"/><stop offset="0.972" stop-color="#fdc676"/><stop offset="1.000" stop-color="#fdc978"/></linearGradient><linearGradient id="g170" x1="0" y1="0" x2="0" y2="1"><stop offset="0.000" stop-color="#f46c43"/><stop offset="0.009" stop-color="#f46d43"/><stop offset="0.372" stop-color="#f88d52"/><stop offset="0.696" stop-color="#fdad60"/><stop offset="0.979" stop-color="#fdc676"/><stop offset="1.000" stop-color="#fdc877"/></linearGradient><linearGradient id="g171" x1="0" y1="0" x2="0" y2="1"><stop offset="0.000" stop-color="#f36c43"/><stop offset="0.016" stop-color="#f46d43"/><stop offset="0.379" stop-color="#f88d52"/><stop offset="0.704" stop-color="#fdad60"/><stop offset="0.986" stop-color="#fdc676"/><stop offset="1.000" stop-color="#fdc877"/></linearGradient><linearGradient id="g172" x1="0" y1="0" x2="0" y2="1"><stop offset="0.000" stop-color="#f36c43"/><stop offset="0.022" stop-color="#f46d43"/><stop offset="0.386" stop-color="#f88d52"/><stop offset="0.711" stop-color="#fdad60"/><stop offset="0.993" stop-color="#fdc676"/><stop offset="1.000" stop-color="#fdc776"/></linearGradient><linearGradient id="g173" x1="0" y1="0" x2="0" y2="1"><stop offset="0.000" stop-color="#f36b43"/><stop offset="0.029" stop-color="#f46d43"/><stop offset="0.393" stop-color="#f88d52"/><stop offset="0.718" stop-color="#fdad60"/><stop offset="1.000" stop-color="#fdc676"/></linearGradient><linearGradient id="g174" x1="0" y1="0" x2="0" y2="1"><stop offset="0.000" stop-color="#f36b44"/><stop offset="0.036" stop-color="#f46d43"/><stop offset="0.400" stop-color="#f88d52"/><stop offset="0.725" stop-color="#fdad60"/><stop offset="1.000" stop-color="#fdc675"/></linearGradient><linearGradient id="g175" x1="0" y1="0" x2="0" y2="1"><stop offset="0.000" stop-color="#f26a44"/><stop offset="0.042" stop-color="#f46d43"/><stop offset="0.407" stop-color="#f88d52"/><stop offset="0.732" stop-color="#fdad60"/><stop offset="1.000" stop-color="#fdc575"/></linearGradient><linearGradient id="g176" x1="0" y1="0" x2="0" y2="1"><stop offset="0.000" stop-color="#f26a44"/><stop offset="0.049" stop-color="#f46d43"/><stop offset="0.414" stop-color="#f88d52"/><stop offset="0.739" stop-color="#fdad60"/><stop offset="1.000" stop-color="#fdc474"/></linearGradient><linearGradient id="g177" x1="0" y1="0" x2="0" y2="1"><stop offset="0.000" stop-color="#f26a44"/><stop offset="0.055" stop-color="#f46d43"/><stop offset="0.421" stop-color="#f88d52"/><stop offset="0.746" stop-color="#fdad60"/><stop offset="1.000" stop-color="#fdc473"/></linearGradient><linearGradient id="g178" x1="0" y1="0" x2="0" y2="1"><stop offset="0.000" stop-color="#f16944"/><stop offset="0.062" stop-color="#f46d43"/><stop offset="0.428" stop-color="#f88d52"/><stop offset="0.753" stop-color="#fdad60"/><stop offset="1.000" stop-color="#fdc373"/></linearGradient><linearGradient id="g179" x1="0" y1="0" x2="0" y2="1"><stop offset="0.000" stop-color="#f16944"/><stop offset="0.068" stop-color="#f46d43"/><stop offset="0.435" stop-color="#f88d52"/><stop offset="0.760" stop-color="#fdad60"/><stop offset="1.000" stop-color="#fdc272"/></linearGradient><linearGradient id="g180" x1="0" y1="0" x2="0" y2="1"><stop offset="0.000" stop-color="#f16844"/><stop offset="0.075" stop-color="#f46d43"/><stop offset="0.442" stop-color="#f88d52"/><stop offset="0.766" stop-color="#fdad60"/><stop offset="1.000" stop-color="#fdc272"/></linearGradient><linearGradient id="g181" x1="0" y1="0" x2="0" y2="1"><stop offset="0.000" stop-color="#f16844"/><stop offset="0.081" stop-color="#f46d43"/><stop offset="0.449" stop-color="#f88d52"/><stop offset="0.773" stop-color="#fdad60"/><stop offset="1.000" stop-color="#fdc171"/></linearGradient><linearGradient id="g182" x1="0" y1="0" x2="0" y2="1"><stop offset="0.000" stop-color="#f06844"/><stop offset="0.088" stop-color="#f46d43"/><stop offset="0.456" stop-color="#f88d52"/><stop offset="0.780" stop-color="#fdad60"/><stop offset="1.000" stop-color="#fdc071"/></linearGradient><linearGradient id="g183" x1="0" y1="0" x2="0" y2="1"><stop offset="0.000" stop-color="#f06744"/><stop offset="0.094" stop-color="#f46d43"/><stop offset="0.462" stop-color="#f88d52"/><stop offset="0.787" stop-color="#fdad60"/><stop offset="1.000" stop-color="#fdc070"/></linearGradient><linearGradient id="g184" x1="0" y1="0" x2="0" y2="1"><stop offset="0.000" stop-color="#f06744"/><stop offset="0.100" stop-color="#f46d43"/><stop offset="0.469" stop-color="#f88d52"/><stop offset="0.794" stop-color="#fdad60"/><stop offset="1.000" stop-color="#fdbf70"/></linearGradient><linearGradient id="g185" x1="0" y1="0" x2="0" y2="1"><stop offset="0.000" stop-color="#f06645"/><stop offset="0.107" stop-color="#f46d43"/><stop offset="0.476" stop-color="#f88d52"/><stop offset="0.801" stop-color="#fdad60"/><stop offset="1.000" stop-color="#fdbf6f"/></linearGradient><linearGradient id="g186" x1="0" y1="0" x2="0" y2="1"><stop offset="0.000" stop-color="#ef6645"/><stop offset="0.113" stop-color="#f46d43"/><stop offset="0.483" stop-color="#f88d52"/><stop offset="0.807" stop-color="#fdad60"/><stop offset="1.000" stop-color="#fdbe6f"/></linearGradient><linearGradient id="g187" x1="0" y1="0" x2="0" y2="1"><stop offset="0.000" stop-color="#ef6645"/><stop offset="0.120" stop-color="#f46d43"/><stop offset="0.490" stop-color="#f88d52"/><stop offset="0.814" stop-color="#fdad60"/><stop offset="1.000" stop-color="#fdbd6e"/></linearGradient><linearGradient id="g188" x1="0" y1="0" x2="0" y2="1"><stop offset="0.000" stop-color="#ef6545"/><stop offset="0.126" stop-color="#f46d43"/><stop offset="0.496" stop-color="#f88d52"/><stop offset="0.821" stop-color="#fdad60"/><stop offset="1.000" stop-color="#fdbd6e"/></linearGradient><linearGradient id="g189" x1="0" y1="0" x2="0" y2="1"><stop offset="0.000" stop-color="#ef6545"/><stop offset="0.133" stop-color="#f46d43"/><stop offset="0.503" stop-color="#f88d52"/><stop offset="0.828" stop-color="#fdad60"/><stop offset="1.000" stop-color="#fdbc6d"/></linearGradient><linearGradient id="g190" x1="0" y1="0" x2="0" y2="1"><stop offset="0.000" stop-color="#ee6545"/><stop offset="0.139" stop-color="#f46d43"/><stop offset="0.510" stop-color="#f88d52"/><stop offset="0.834" stop-color="#fdad60"/><stop offset="1.000" stop-color="#fdbb6d"/></linearGradient><linearGradient id="g191" x1="0" y1="0" x2="0" y2="1"><stop offset="0.000" stop-color="#ee6445"/><stop offset="0.145" stop-color="#f46d43"/><stop offset="0.517" stop-color="#f88d52"/><stop offset="0.841" stop-color="#fdad60"/><stop offset="1.000" stop-color="#fdbb6c"/></linearGradient><linearGradient id="g192" x1="0" y1="0" x2="0" y2="1"><stop offset="0.000" stop-color="#ee6445"/><stop offset="0.152" stop-color="#f46d43"/><stop offset="0.523" stop-color="#f88d52"/><stop offset="0.848" stop-color="#fdad60"/><stop offset="1.000" stop-color="#fdba6c"/></linearGradient><linearGradient id="g193" x1="0" y1="0" x2="0" y2="1"><stop offset="0.000" stop-color="#ee6445"/><stop offset="0.158" stop-color="#f46d43"/><stop offset="0.530" stop-color="#f88d52"/><stop offset="0.854" stop-color="#fdad60"/><stop offset="1.000" stop-color="#fdba6b"/></linearGradient><linearGradient id="g194" x1="0" y1="0" x2="0" y2="1"><stop offset="0.000" stop-color="#ed6345"/><stop offset="0.164" stop-color="#f46d43"/><stop offset="0.537" stop-color="#f88d52"/><stop offset="0.861" stop-color="#fdad60"/><stop offset="1.000" stop-color="#fdb96b"/></linearGradient><linearGradient id="g195" x1="0" y1="0" x2="0" y2="1"><stop offset="0.000" stop-color="#ed6345"/><stop offset="0.171" stop-color="#f46d43"/><stop offset="0.543" stop-color="#f88d52"/><stop offset="0.867" stop-color="#fdad60"/><stop offset="1.000" stop-color="#fdb86a"/></linearGradient><linearGradient id="g196" x1="0" y1="0" x2="0" y2="1"><stop offset="0.000" stop-color="#ed6246"/><stop offset="0.177" stop-color="#f46d43"/><stop offset="0.550" stop-color="#f88d52"/><stop offset="0.874" stop-color="#fdad60"/><stop offset="1.000" stop-color="#fdb86a"/></linearGradient><linearGradient id="g197" x1="0" y1="0" x2="0" y2="1"><stop offset="0.000" stop-color="#ed6246"/><stop offset="0.183" stop-color="#f46d43"/><stop offset="0.556" stop-color="#f88d52"/><stop offset="0.880" stop-color="#fdad60"/><stop offset="1.000" stop-color="#fdb769"/></linearGradient><linearGradient id="g198" x1="0" y1="0" x2="0" y2="1"><stop offset="0.000" stop-color="#ec6246"/><stop offset="0.190" stop-color="#f46d43"/><stop offset="0.563" stop-color="#f88d52"/><stop offset="0.887" stop-color="#fdad60"/><stop offset="1.000" stop-color="#fdb769"/></linearGradient><linearGradient id="g199" x1="0" y1="0" x2="0" y2="1"><stop offset="0.000" stop-color="#ec6146"/><stop offset="0.196" stop-color="#f46d43"/><stop offset="0.570" stop-color="#f88d52"/><stop offset="0.893" stop-color="#fdad60"/><stop offset="1.000" stop-color="#fdb668"/></linearGradient><linearGradient id="g200" x1="0" y1="0" x2="0" y2="1"><stop offset="0.000" stop-color="#ec6146"/><stop offset="0.202" stop-color="#f46d43"/><stop offset="0.576" stop-color="#f88d52"/><stop offset="0.900" stop-color="#fdad60"/><stop offset="1.000" stop-color="#fdb568"/></linearGradient><linearGradient id="g201" x1="0" y1="0" x2="0" y2="1"><stop offset="0.000" stop-color="#ec6146"/><stop offset="0.209" stop-color="#f46d43"/><stop offset="0.583" stop-color="#f88d52"/><stop offset="0.906" stop-color="#fdad60"/><stop offset="1.000" stop-color="#fdb567"/></linearGradient><linearGradient id="g202" x1="0" y1="0" x2="0" y2="1"><stop offset="0.000" stop-color="#ec6046"/><stop offset="0.215" stop-color="#f46d43"/><stop offset="0.589" stop-color="#f88d52"/><stop offset="0.913" stop-color="#fdad60"/><stop offset="1.000" stop-color="#fdb467"/></linearGradient><linearGradient id="g203" x1="0" y1="0" x2="0" y2="1"><stop offset="0.000" stop-color="#eb6046"/><stop offset="0.221" stop-color="#f46d43"/><stop offset="0.596" stop-color="#f88d52"/><stop offset="0.919" stop-color="#fdad60"/><stop offset="1.000" stop-color="#fdb466"/></linearGradient><linearGradient id="g204" x1="0" y1="0" x2="0" y2="1"><stop offset="0.000" stop-color="#eb6046"/><stop offset="0.227" stop-color="#f46d43"/><stop offset="0.602" stop-color="#f88d52"/><stop offset="0.926" stop-color="#fdad60"/><stop offset="1.000" stop-color="#fdb366"/></linearGradient><linearGradient id="g205" x1="0" y1="0" x2="0" y2="1"><stop offset="0.000" stop-color="#eb5f46"/><stop offset="0.234" stop-color="#f46d43"/><stop offset="0.609" stop-color="#f88d52"/><stop offset="0.932" stop-color="#fdad60"/><stop offset="1.000" stop-color="#fdb365"/></linearGradient><linearGradient id="g206" x1="0" y1="0" x2="0" y2="1"><stop offset="0.000" stop-color="#eb5f46"/><stop offset="0.240" stop-color="#f46d43"/><stop offset="0.615" stop-color="#f88d52"/><stop offset="0.938" stop-color="#fdad60"/><stop offset="1.000" stop-color="#fdb265"/></linearGradient><linearGradient id="g207" x1="0" y1="0" x2="0" y2="1"><stop offset="0.000" stop-color="#ea5f47"/><stop offset="0.246" stop-color="#f46d43"/><stop offset="0.621" stop-color="#f88d52"/><stop offset="0.945" stop-color="#fdad60"/><stop offset="1.000" stop-color="#fdb264"/></linearGradient><linearGradient id="g208" x1="0" y1="0" x2="0" y2="1"><stop offset="0.000" stop-color="#ea5e47"/><stop offset="0.252" stop-color="#f46d43"/><stop offset="0.628" stop-color="#f88d52"/><stop offset="0.951" stop-color="#fdad60"/><stop offset="1.000" stop-color="#fdb164"/></linearGradient><linearGradient id="g209" x1="0" y1="0" x2="0" y2="1"><stop offset="0.000" stop-color="#ea5e47"/><stop offset="0.259" stop-color="#f46d43"/><stop offset="0.634" stop-color="#f88d52"/><stop offset="0.957" stop-color="#fdad60"/><stop offset="1.000" stop-color="#fdb063"/></linearGradient><linearGradient id="g210" x1="0" y1="0" x2="0" y2="1"><stop offset="0.000" stop-color="#ea5e47"/><stop offset="0.265" stop-color="#f46d43"/><stop offset="0.641" stop-color="#f88d52"/><stop offset="0.964" stop-color="#fdad60"/><stop offset="1.000" stop-color="#fdb063"/></linearGradient><linearGradient id="g211" x1="0" y1="0" x2="0" y2="1"><stop offset="0.000" stop-color="#ea5d47"/><stop offset="0.271" stop-color="#f46d43"/><stop offset="0.647" stop-color="#f88d52"/><stop offset="0.970" stop-color="#fdad60"/><stop offset="1.000" stop-color="#fdaf63"/></linearGradient><linearGradient id="g212" x1="0" y1="0" x2="0" y2="1"><stop offset="0.000" stop-color="#e95d47"/><stop offset="0.277" stop-color="#f46d43"/><stop offset="0.653" stop-color="#f88d52"/><stop offset="0.976" stop-color="#fdad60"/><stop offset="1.000" stop-color="#fdaf62"/></linearGradient><linearGradient id="g213" x1="0" y1="0" x2="0" y2="1"><stop offset="0.000" stop-color="#e95d47"/><stop offset="0.283" stop-color="#f46d43"/><stop offset="0.660" stop-color="#f88d52"/><stop offset="0.982" stop-color="#fdad60"/><stop offset="1.000" stop-color="#fdae62"/></linearGradient><linearGradient id="g214" x1="0" y1="0" x2="0" y2="1"><stop offset="0.000" stop-color="#e95c47"/><stop offset="0.289" stop-color="#f46d43"/><stop offset="0.666" stop-color="#f88d52"/><stop offset="0.989" stop-color="#fdad60"/><stop offset="1.000" stop-color="#fdae61"/></linearGradient><linearGradient id="g215" x1="0" y1="0" x2="0" y2="1"><stop offset="0.000" stop-color="#e95c47"/><stop offset="0.295" stop-color="#f46d43"/><stop offset="0.672" stop-color="#f88d52"/><stop offset="0.995" stop-color="#fdad60"/><stop offset="1.000" stop-color="#fdad61"/></linearGradient><linearGradient id="g216" x1="0" y1="0" x2="0" y2="1"><stop offset="0.000" stop-color="#e85c47"/><stop offset="0.302" stop-color="#f46d43"/><stop offset="0.678" stop-color="#f88d52"/><stop offset="1.000" stop-color="#fdad60"/></linearGradient><linearGradient id="g217" x1="0" y1="0" x2="0" y2="1"><stop offset="0.000" stop-color="#e85b47"/><stop offset="0.308" stop-color="#f46d43"/><stop offset="0.685" stop-color="#f88d52"/><stop offset="1.000" stop-color="#fdac60"/></linearGradient><linearGradient id="g218" x1="0" y1="0" x2="0" y2="1"><stop offset="0.000" stop-color="#e85b47"/><stop offset="0.314" stop-color="#f46d43"/><stop offset="0.691" stop-color="#f88d52"/><stop offset="1.000" stop-color="#fdab60"/></linearGradient><linearGradient id="g219" x1="0" y1="0" x2="0" y2="1"><stop offset="0.000" stop-color="#e85b47"/><stop offset="0.320" stop-color="#f46d43"/><stop offset="0.697" stop-color="#f88d52"/><stop offset="1.000" stop-color="#fdab5f"/></linearGradient><linearGradient id="g220" x1="0" y1="0" x2="0" y2="1"><stop offset="0.000" stop-color="#e85a48"/><stop offset="0.326" stop-color="#f46d43"/><stop offset="0.703" stop-color="#f88d52"/><stop offset="1.000" stop-color="#fcaa5f"/></linearGradient><linearGradient id="g221" x1="0" y1="0" x2="0" y2="1"><stop offset="0.000" stop-color="#e75a48"/><stop offset="0.332" stop-color="#f46d43"/><stop offset="0.709" stop-color="#f88d52"/><stop offset="1.000" stop-color="#fca95f"/></linearGradient><linearGradient id="g222" x1="0" y1="0" x2="0" y2="1"><stop offset="0.000" stop-color="#e75a48"/><stop offset="0.338" stop-color="#f46d43"/><stop offset="0.716" stop-color="#f88d52"/><stop offset="1.000" stop-color="#fca95f"/></linearGradient><linearGradient id="g223" x1="0" y1="0" x2="0" y2="1"><stop offset="0.000" stop-color="#e75948"/><stop offset="0.344" stop-color="#f46d43"/><stop offset="0.722" stop-color="#f88d52"/><stop offset="1.000" stop-color="#fca85e"/></linearGradient><linearGradient id="g224" x1="0" y1="0" x2="0" y2="1"><stop offset="0.000" stop-color="#e75948"/><stop offset="0.350" stop-color="#f46d43"/><stop offset="0.728" stop-color="#f88d52"/><stop offset="1.000" stop-color="#fca75e"/></linearGradient><linearGradient id="g225" x1="0" y1="0" x2="0" y2="1"><stop offset="0.000" stop-color="#e75948"/><stop offset="0.356" stop-color="#f46d43"/><stop offset="0.734" stop-color="#f88d52"/><stop offset="1.000" stop-color="#fca75e"/></linearGradient><linearGradient id="g226" x1="0" y1="0" x2="0" y2="1"><stop offset="0.000" stop-color="#e65948"/><stop offset="0.362" stop-color="#f46d43"/><stop offset="0.740" stop-color="#f88d52"/><stop offset="1.000" stop-color="#fca65d"/></linearGradient><linearGradient id="g227" x1="0" y1="0" x2="0" y2="1"><stop offset="0.000" stop-color="#e65848"/><stop offset="0.368" stop-color="#f46d43"/><stop offset="0.746" stop-color="#f88d52"/><stop offset="1.000" stop-color="#fca65d"/></linearGradient><linearGradient id="g228" x1="0" y1="0" x2="0" y2="1"><stop offset="0.000" stop-color="#e65848"/><stop offset="0.374" stop-color="#f46d43"/><stop offset="0.752" stop-color="#f88d52"/><stop offset="1.000" stop-color="#fca55d"/></linearGradient><linearGradient id="g229" x1="0" y1="0" x2="0" y2="1"><stop offset="0.000" stop-color="#e65848"/><stop offset="0.380" stop-color="#f46d43"/><stop offset="0.758" stop-color="#f88d52"/><stop offset="1.000" stop-color="#fca45d"/></linearGradient><linearGradient id="g230" x1="0" y1="0" x2="0" y2="1"><stop offset="0.000" stop-color="#e65748"/><stop offset="0.386" stop-color="#f46d43"/><stop offset="0.764" stop-color="#f88d52"/><stop offset="1.000" stop-color="#fca45c"/></linearGradient><linearGradient id="g231" x1="0" y1="0" x2="0" y2="1"><stop offset="0.000" stop-color="#e55748"/><stop offset="0.392" stop-color="#f46d43"/><stop offset="0.770" stop-color="#f88d52"/><stop offset="1.000" stop-color="#fba35c"/></linearGradient><linearGradient id="g232" x1="0" y1="0" x2="0" y2="1"><stop offset="0.000" stop-color="#e55748"/><stop offset="0.398" stop-color="#f46d43"/><stop offset="0.776" stop-color="#f88d52"/><stop offset="1.000" stop-color="#fba35c"/></linearGradient><linearGradient id="g233" x1="0" y1="0" x2="0" y2="1"><stop offset="0.000" stop-color="#e55649"/><stop offset="0.404" stop-color="#f46d43"/><stop offset="0.782" stop-color="#f88d52"/><stop offset="1.000" stop-color="#fba25b"/></linearGradient><linearGradient id="g234" x1="0" y1="0" x2="0" y2="1"><stop offset="0.000" stop-color="#e55649"/><stop offset="0.410" stop-color="#f46d43"/><stop offset="0.788" stop-color="#f88d52"/><stop offset="1.000" stop-color="#fba15b"/></linearGradient><linearGradient id="g235" x1="0" y1="0" x2="0" y2="1"><stop offset="0.000" stop-color="#e55649"/><stop offset="0.416" stop-color="#f46d43"/><stop offset="0.794" stop-color="#f88d52"/><stop offset="1.000" stop-color="#fba15b"/></linearGradient><linearGradient id="g236" x1="0" y1="0" x2="0" y2="1"><stop offset="0.000" stop-color="#e45649"/><stop offset="0.422" stop-color="#f46d43"/><stop offset="0.800" stop-color="#f88d52"/><stop offset="1.000" stop-color="#fba05b"/></linearGradient><linearGradient id="g237" x1="0" y1="0" x2="0" y2="1"><stop offset="0.000" stop-color="#e45549"/><stop offset="0.428" stop-color="#f46d43"/><stop offset="0.806" stop-color="#f88d52"/><stop offset="1.000" stop-color="#fba05a"/></linearGradient><linearGradient id="g238" x1="0" y1="0" x2="0" y2="1"><stop offset="0.000" stop-color="#e45549"/><stop offset="0.434" stop-color="#f46d43"/><stop offset="0.812" stop-color="#f88d52"/><stop offset="1.000" stop-color="#fb9f5a"/></linearGradient><linearGradient id="g239" x1="0" y1="0" x2="0" y2="1"><stop offset="0.000" stop-color="#e45549"/><stop offset="0.005" stop-color="#e45549"/><stop offset="0.440" stop-color="#f46d43"/><stop offset="0.818" stop-color="#f88d52"/><stop offset="1.000" stop-color="#fb9e5a"/></linearGradient><linearGradient id="g240" x1="0" y1="0" x2="0" y2="1"><stop offset="0.000" stop-color="#e45449"/><stop offset="0.011" stop-color="#e45549"/><stop offset="0.446" stop-color="#f46d43"/><stop offset="0.823" stop-color="#f88d52"/><stop offset="1.000" stop-color="#fb9e5a"/></linearGradient><linearGradient id="g241" x1="0" y1="0" x2="0" y2="1"><stop offset="0.000" stop-color="#e35449"/><stop offset="0.016" stop-color="#e45549"/><stop offset="0.452" stop-color="#f46d43"/><stop offset="0.829" stop-color="#f88d52"/><stop offset="1.000" stop-color="#fb9d59"/></linearGradient><linearGradient id="g242" x1="0" y1="0" x2="0" y2="1"><stop offset="0.000" stop-color="#e35449"/><stop offset="0.022" stop-color="#e45549"/><stop offset="0.458" stop-color="#f46d43"/><stop offset="0.835" stop-color="#f88d52"/><stop offset="1.000" stop-color="#fb9d59"/></linearGradient><linearGradient id="g243" x1="0" y1="0" x2="0" y2="1"><stop offset="0.000" stop-color="#e35449"/><stop offset="0.027" stop-color="#e45549"/><stop offset="0.464" stop-color="#f46d43"/><stop offset="0.841" stop-color="#f88d52"/><stop offset="1.000" stop-color="#fb9c59"/></linearGradient><linearGradient id="g244" x1="0" y1="0" x2="0" y2="1"><stop offset="0.000" stop-color="#e35349"/><stop offset="0.032" stop-color="#e45549"/><stop offset="0.469" stop-color="#f46d43"/><stop offset="0.847" stop-color="#f88d52"/><stop offset="1.000" stop-color="#fa9b58"/></linearGradient><linearGradient id="g245" x1="0" y1="0" x2="0" y2="1"><stop offset="0.000" stop-color="#e35349"/><stop offset="0.038" stop-color="#e45549"/><stop offset="0.475" stop-color="#f46d43"/><stop offset="0.853" stop-color="#f88d52"/><stop offset="1.000" stop-color="#fa9b58"/></linearGradient><linearGradient id="g246" x1="0" y1="0" x2="0" y2="1"><stop offset="0.000" stop-color="#e35349"/><stop offset="0.043" stop-color="#e45549"/><stop offset="0.481" stop-color="#f46d43"/><stop offset="0.858" stop-color="#f88d52"/><stop offset="1.000" stop-color="#fa9a58"/></linearGradient><linearGradient id="g247" x1="0" y1="0" x2="0" y2="1"><stop offset="0.000" stop-color="#e25249"/><stop offset="0.049" stop-color="#e45549"/><stop offset="0.487" stop-color="#f46d43"/><stop offset="0.864" stop-color="#f88d52"/><stop offset="1.000" stop-color="#fa9a58"/></linearGradient><linearGradient id="g248" x1="0" y1="0" x2="0" y2="1"><stop offset="0.000" stop-color="#e2524a"/><stop offset="0.054" stop-color="#e45549"/><stop offset="0.492" stop-color="#f46d43"/><stop offset="0.870" stop-color="#f88d52"/><stop offset="1.000" stop-color="#fa9957"/></linearGradient><linearGradient id="g249" x1="0" y1="0" x2="0" y2="1"><stop offset="0.000" stop-color="#e2524a"/><stop offset="0.059" stop-color="#e45549"/><stop offset="0.498" stop-color="#f46d43"/><stop offset="0.875" stop-color="#f88d52"/><stop offset="1.000" stop-color="#fa9957"/></linearGradient><linearGradient id="g250" x1="0" y1="0" x2="0" y2="1"><stop offset="0.000" stop-color="#e2524a"/><stop offset="0.065" stop-color="#e45549"/><stop offset="0.504" stop-color="#f46d43"/><stop offset="0.881" stop-color="#f88d52"/><stop offset="1.000" stop-color="#fa9857"/></linearGradient><linearGradient id="g251" x1="0" y1="0" x2="0" y2="1"><stop offset="0.000" stop-color="#e2514a"/><stop offset="0.070" stop-color="#e45549"/><stop offset="0.510" stop-color="#f46d43"/><stop offset="0.887" stop-color="#f88d52"/><stop offset="1.000" stop-color="#fa9857"/></linearGradient><linearGradient id="g252" x1="0" y1="0" x2="0" y2="1"><stop offset="0.000" stop-color="#e1514a"/><stop offset="0.075" stop-color="#e45549"/><stop offset="0.515" stop-color="#f46d43"/><stop offset="0.893" stop-color="#f88d52"/><stop offset="1.000" stop-color="#fa9756"/></linearGradient><linearGradient id="g253" x1="0" y1="0" x2="0" y2="1"><stop offset="0.000" stop-color="#e1514a"/><stop offset="0.081" stop-color="#e45549"/><stop offset="0.521" stop-color="#f46d43"/><stop offset="0.898" stop-color="#f88d52"/><stop offset="1.000" stop-color="#fa9656"/></linearGradient><linearGradient id="g254" x1="0" y1="0" x2="0" y2="1"><stop offset="0.000" stop-color="#e1514a"/><stop offset="0.086" stop-color="#e45549"/><stop offset="0.527" stop-color="#f46d43"/><stop offset="0.904" stop-color="#f88d52"/><stop offset="1.000" stop-color="#fa9656"/></linearGradient><linearGradient id="g255" x1="0" y1="0" x2="0" y2="1"><stop offset="0.000" stop-color="#e1504a"/><stop offset="0.091" stop-color="#e45549"/><stop offset="0.533" stop-color="#f46d43"/><stop offset="0.909" stop-color="#f88d52"/><stop offset="1.000" stop-color="#fa9556"/></linearGradient><linearGradient id="g256" x1="0" y1="0" x2="0" y2="1"><stop offset="0.000" stop-color="#e1504a"/><stop offset="0.097" stop-color="#e45549"/><stop offset="0.538" stop-color="#f46d43"/><stop offset="0.915" stop-color="#f88d52"/><stop offset="1.000" stop-color="#fa9555"/></linearGradient><linearGradient id="g257" x1="0" y1="0" x2="0" y2="1"><stop offset="0.000" stop-color="#e1504a"/><stop offset="0.102" stop-color="#e45549"/><stop offset="0.544" stop-color="#f46d43"/><stop offset="0.921" stop-color="#f88d52"/><stop offset="1.000" stop-color="#f99455"/></linearGradient><linearGradient id="g258" x1="0" y1="0" x2="0" y2="1"><stop offset="0.000" stop-color="#e04f4a"/><stop offset="0.107" stop-color="#e45549"/><stop offset="0.550" stop-color="#f46d43"/><stop offset="0.926" stop-color="#f88d52"/><stop offset="1.000" stop-color="#f99455"/></linearGradient><linearGradient id="g259" x1="0" y1="0" x2="0" y2="1"><stop offset="0.000" stop-color="#e04f4a"/><stop offset="0.113" stop-color="#e45549"/><stop offset="0.555" stop-color="#f46d43"/><stop offset="0.932" stop-color="#f88d52"/><stop offset="1.000" stop-color="#f99355"/></linearGradient><linearGradient id="g260" x1="0" y1="0" x2="0" y2="1"><stop offset="0.000" stop-color="#e04f4a"/><stop offset="0.118" stop-color="#e45549"/><stop offset="0.561" stop-color="#f46d43"/><stop offset="0.937" stop-color="#f88d52"/><stop offset="1.000" stop-color="#f99354"/></linearGradient><linearGradient id="g261" x1="0" y1="0" x2="0" y2="1"><stop offset="0.000" stop-color="#e04f4a"/><stop offset="0.123" stop-color="#e45549"/><stop offset="0.566" stop-color="#f46d43"/><stop offset="0.943" stop-color="#f88d52"/><stop offset="1.000" stop-color="#f99254"/></linearGradient><linearGradient id="g262" x1="0" y1="0" x2="0" y2="1"><stop offset="0.000" stop-color="#e04e4a"/><stop offset="0.128" stop-color="#e45549"/><stop offset="0.572" stop-color="#f46d43"/><stop offset="0.948" stop-color="#f88d52"/><stop offset="1.000" stop-color="#f99254"/></linearGradient><linearGradient id="g263" x1="0" y1="0" x2="0" y2="1"><stop offset="0.000" stop-color="#e04e4b"/><stop offset="0.134" stop-color="#e45549"/><stop offset="0.578" stop-color="#f46d43"/><stop offset="0.954" stop-color="#f88d52"/><stop offset="1.000" stop-color="#f99154"/></linearGradient><linearGradient id="g264" x1="0" y1="0" x2="0" y2="1"><stop offset="0.000" stop-color="#df4e4b"/><stop offset="0.139" stop-color="#e45549"/><stop offset="0.583" stop-color="#f46d43"/><stop offset="0.959" stop-color="#f88d52"/><stop offset="1.000" stop-color="#f99153"/></linearGradient><linearGradient id="g265" x1="0" y1="0" x2="0" y2="1"><stop offset="0.000" stop-color="#df4e4b"/><stop offset="0.144" stop-color="#e45549"/><stop offset="0.589" stop-color="#f46d43"/><stop offset="0.965" stop-color="#f88d52"/><stop offset="1.000" stop-color="#f99053"/></linearGradient><linearGradient id="g266" x1="0" y1="0" x2="0" y2="1"><stop offset="0.000" stop-color="#df4d4b"/><stop offset="0.150" stop-color="#e45549"/><stop offset="0.594" stop-color="#f46d43"/><stop offset="0.970" stop-color="#f88d52"/><stop offset="1.000" stop-color="#f99053"/></linearGradient><linearGradient id="g267" x1="0" y1="0" x2="0" y2="1"><stop offset="0.000" stop-color="#df4d4b"/><stop offset="0.155" stop-color="#e45549"/><stop offset="0.600" stop-color="#f46d43"/><stop offset="0.976" stop-color="#f88d52"/><stop offset="1.000" stop-color="#f98f53"/></linearGradient><linearGradient id="g268" x1="0" y1="0" x2="0" y2="1"><stop offset="0.000" stop-color="#df4d4b"/><stop offset="0.160" stop-color="#e45549"/><stop offset="0.605" stop-color="#f46d43"/><stop offset="0.981" stop-color="#f88d52"/><stop offset="1.000" stop-color="#f98f53"/></linearGradient><linearGradient id="g269" x1="0" y1="0" x2="0" y2="1"><stop offset="0.000" stop-color="#df4d4b"/><stop offset="0.165" stop-color="#e45549"/><stop offset="0.611" stop-color="#f46d43"/><stop offset="0.987" stop-color="#f88d52"/><stop offset="1.000" stop-color="#f98e52"/></linearGradient><linearGradient id="g270" x1="0" y1="0" x2="0" y2="1"><stop offset="0.000" stop-color="#de4c4b"/><stop offset="0.170" stop-color="#e45549"/><stop offset="0.616" stop-color="#f46d43"/><stop offset="0.992" stop-color="#f88d52"/><stop offset="1.000" stop-color="#f98e52"/></linearGradient><linearGradient id="g271" x1="0" y1="0" x2="0" y2="1"><stop offset="0.000" stop-color="#de4c4b"/><stop offset="0.176" stop-color="#e45549"/><stop offset="0.622" stop-color="#f46d43"/><stop offset="0.997" stop-color="#f88d52"/><stop offset="1.000" stop-color="#f88d52"/></linearGradient><linearGradient id="g272" x1="0" y1="0" x2="0" y2="1"><stop offset="0.000" stop-color="#de4c4b"/><stop offset="0.181" stop-color="#e45549"/><stop offset="0.627" stop-color="#f46d43"/><stop offset="1.000" stop-color="#f88d52"/></linearGradient><linearGradient id="g273" x1="0" y1="0" x2="0" y2="1"><stop offset="0.000" stop-color="#de4c4b"/><stop offset="0.186" stop-color="#e45549"/><stop offset="0.633" stop-color="#f46d43"/><stop offset="1.000" stop-color="#f88c51"/></linearGradient><linearGradient id="g274" x1="0" y1="0" x2="0" y2="1"><stop offset="0.000" stop-color="#de4b4b"/><stop offset="0.191" stop-color="#e45549"/><stop offset="0.638" stop-color="#f46d43"/><stop offset="1.000" stop-color="#f88c51"/></linearGradient><linearGradient id="g275" x1="0" y1="0" x2="0" y2="1"><stop offset="0.000" stop-color="#de4b4b"/><stop offset="0.197" stop-color="#e45549"/><stop offset="0.643" stop-color="#f46d43"/><stop offset="1.000" stop-color="#f88b51"/></linearGradient><linearGradient id="g276" x1="0" y1="0" x2="0" y2="1"><stop offset="0.000" stop-color="#dd4b4b"/><stop offset="0.202" stop-color="#e45549"/><stop offset="0.649" stop-color="#f46d43"/><stop offset="1.000" stop-color="#f88b51"/></linearGradient><linearGradient id="g277" x1="0" y1="0" x2="0" y2="1"><stop offset="0.000" stop-color="#dd4b4b"/><stop offset="0.207" stop-color="#e45549"/><stop offset="0.654" stop-color="#f46d43"/><stop offset="1.000" stop-color="#f88a50"/></linearGradient><linearGradient id="g278" x1="0" y1="0" x2="0" y2="1"><stop offset="0.000" stop-color="#dd4b4b"/><stop offset="0.212" stop-color="#e45549"/><stop offset="0.660" stop-color="#f46d43"/><stop offset="1.000" stop-color="#f88a50"/></linearGradient><linearGradient id="g279" x1="0" y1="0" x2="0" y2="1"><stop offset="0.000" stop-color="#dd4a4b"/><stop offset="0.217" stop-color="#e45549"/><stop offset="0.665" stop-color="#f46d43"/><stop offset="1.000" stop-color="#f88950"/></linearGradient><linearGradient id="g280" x1="0" y1="0" x2="0" y2="1"><stop offset="0.000" stop-color="#dd4a4c"/><stop offset="0.222" stop-color="#e45549"/><stop offset="0.670" stop-color="#f46d43"/><stop offset="1.000" stop-color="#f88950"/></linearGradient><linearGradient id="g281" x1="0" y1="0" x2="0" y2="1"><stop offset="0.000" stop-color="#dd4a4c"/><stop offset="0.228" stop-color="#e45549"/><stop offset="0.676" stop-color="#f46d43"/><stop offset="1.000" stop-color="#f88850"/></linearGradient><linearGradient id="g282" x1="0" y1="0" x2="0" y2="1"><stop offset="0.000" stop-color="#dc4a4c"/><stop offset="0.233" stop-color="#e45549"/><stop offset="0.681" stop-color="#f46d43"/><stop offset="1.000" stop-color="#f8884f"/></linearGradient><linearGradient id="g283" x1="0" y1="0" x2="0" y2="1"><stop offset="0.000" stop-color="#dc494c"/><stop offset="0.238" stop-color="#e45549"/><stop offset="0.686" stop-color="#f46d43"/><stop offset="1.000" stop-color="#f8874f"/></linearGradient><linearGradient id="g284" x1="0" y1="0" x2="0" y2="1"><stop offset="0.000" stop-color="#dc494c"/><stop offset="0.243" stop-color="#e45549"/><stop offset="0.692" stop-color="#f46d43"/><stop offset="1.000" stop-color="#f8874f"/></linearGradient><linearGradient id="g285" x1="0" y1="0" x2="0" y2="1"><stop offset="0.000" stop-color="#dc494c"/><stop offset="0.248" stop-color="#e45549"/><stop offset="0.697" stop-color="#f46d43"/><stop offset="1.000" stop-color="#f8864f"/></linearGradient><linearGradient id="g286" x1="0" y1="0" x2="0" y2="1"><stop offset="0.000" stop-color="#dc494c"/><stop offset="0.253" stop-color="#e45549"/><stop offset="0.702" stop-color="#f46d43"/><stop offset="1.000" stop-color="#f7864e"/></linearGradient><linearGradient id="g287" x1="0" y1="0" x2="0" y2="1"><stop offset="0.000" stop-color="#dc484c"/><stop offset="0.258" stop-color="#e45549"/><stop offset="0.708" stop-color="#f46d43"/><stop offset="1.000" stop-color="#f7854e"/></linearGradient><linearGradient id="g288" x1="0" y1="0" x2="0" y2="1"><stop offset="0.000" stop-color="#dc484c"/><stop offset="0.263" stop-color="#e45549"/><stop offset="0.713" stop-color="#f46d43"/><stop offset="1.000" stop-color="#f7854e"/></linearGradient><linearGradient id="g289" x1="0" y1="0" x2="0" y2="1"><stop offset="0.000" stop-color="#db484c"/><stop offset="0.269" stop-color="#e45549"/><stop offset="0.718" stop-color="#f46d43"/><stop offset="1.000" stop-color="#f7844e"/></linearGradient><linearGradient id="g290" x1="0" y1="0" x2="0" y2="1"><stop offset="0.000" stop-color="#db484c"/><stop offset="0.274" stop-color="#e45549"/><stop offset="0.723" stop-color="#f46d43"/><stop offset="1.000" stop-color="#f7844e"/></linearGradient><linearGradient id="g291" x1="0" y1="0" x2="0" y2="1"><stop offset="0.000" stop-color="#db484c"/><stop offset="0.279" stop-color="#e45549"/><stop offset="0.729" stop-color="#f46d43"/><stop offset="1.000" stop-color="#f7844d"/></linearGradient><linearGradient id="g292" x1="0" y1="0" x2="0" y2="1"><stop offset="0.000" stop-color="#db474c"/><stop offset="0.284" stop-color="#e45549"/><stop offset="0.734" stop-color="#f46d43"/><stop offset="1.000" stop-color="#f7834d"/></linearGradient><linearGradient id="g293" x1="0" y1="0" x2="0" y2="1"><stop offset="0.000" stop-color="#db474c"/><stop offset="0.289" stop-color="#e45549"/><stop offset="0.739" stop-color="#f46d43"/><stop offset="1.000" stop-color="#f7834d"/></linearGradient><linearGradient id="g294" x1="0" y1="0" x2="0" y2="1"><stop offset="0.000" stop-color="#db474c"/><stop offset="0.294" stop-color="#e45549"/><stop offset="0.744" stop-color="#f46d43"/><stop offset="1.000" stop-color="#f7824d"/></linearGradient><linearGradient id="g295" x1="0" y1="0" x2="0" y2="1"><stop offset="0.000" stop-color="#da474c"/><stop offset="0.299" stop-color="#e45549"/><stop offset="0.749" stop-color="#f46d43"/><stop offset="1.000" stop-color="#f7824d"/></linearGradient><linearGradient id="g296" x1="0" y1="0" x2="0" y2="1"><stop offset="0.000" stop-color="#da464c"/><stop offset="0.304" stop-color="#e45549"/><stop offset="0.754" stop-color="#f46d43"/><stop offset="1.000" stop-color="#f7814c"/></linearGradient><linearGradient id="g297" x1="0" y1="0" x2="0" y2="1"><stop offset="0.000" stop-color="#da464c"/><stop offset="0.309" stop-color="#e45549"/><stop offset="0.760" stop-color="#f46d43"/><stop offset="1.000" stop-color="#f7814c"/></linearGradient><linearGradient id="g298" x1="0" y1="0" x2="0" y2="1"><stop offset="0.000" stop-color="#da464d"/><stop offset="0.314" stop-color="#e45549"/><stop offset="0.765" stop-color="#f46d43"/><stop offset="1.000" stop-color="#f7804c"/></linearGradient><linearGradient id="g299" x1="0" y1="0" x2="0" y2="1"><stop offset="0.000" stop-color="#da464d"/><stop offset="0.319" stop-color="#e45549"/><stop offset="0.770" stop-color="#f46d43"/><stop offset="1.000" stop-color="#f7804c"/></linearGradient><linearGradient id="g300" x1="0" y1="0" x2="0" y2="1"><stop offset="0.000" stop-color="#da464d"/><stop offset="0.324" stop-color="#e45549"/><stop offset="0.775" stop-color="#f46d43"/><stop offset="1.000" stop-color="#f7804c"/></linearGradient><linearGradient id="g301" x1="0" y1="0" x2="0" y2="1"><stop offset="0.000" stop-color="#da454d"/><stop offset="0.329" stop-color="#e45549"/><stop offset="0.780" stop-color="#f46d43"/><stop offset="1.000" stop-color="#f77f4b"/></linearGradient><linearGradient id="g302" x1="0" y1="0" x2="0" y2="1"><stop offset="0.000" stop-color="#d9454d"/><stop offset="0.334" stop-color="#e45549"/><stop offset="0.785" stop-color="#f46d43"/><stop offset="1.000" stop-color="#f67f4b"/></linearGradient><linearGradient id="g303" x1="0" y1="0" x2="0" y2="1"><stop offset="0.000" stop-color="#d9454d"/><stop offset="0.339" stop-color="#e45549"/><stop offset="0.790" stop-color="#f46d43"/><stop offset="1.000" stop-color="#f67e4b"/></linearGradient><linearGradient id="g304" x1="0" y1="0" x2="0" y2="1"><stop offset="0.000" stop-color="#d9454d"/><stop offset="0.344" stop-color="#e45549"/><stop offset="0.795" stop-color="#f46d43"/><stop offset="1.000" stop-color="#f67e4b"/></linearGradient><linearGradient id="g305" x1="0" y1="0" x2="0" y2="1"><stop offset="0.000" stop-color="#d9444d"/><stop offset="0.349" stop-color="#e45549"/><stop offset="0.800" stop-color="#f46d43"/><stop offset="1.000" stop-color="#f67d4b"/></linearGradient><linearGradient id="g306" x1="0" y1="0" x2="0" y2="1"><stop offset="0.000" stop-color="#d9444d"/><stop offset="0.354" stop-color="#e45549"/><stop offset="0.805" stop-color="#f46d43"/><stop offset="1.000" stop-color="#f67d4a"/></linearGradient><linearGradient id="g307" x1="0" y1="0" x2="0" y2="1"><stop offset="0.000" stop-color="#d9444d"/><stop offset="0.359" stop-color="#e45549"/><stop offset="0.810" stop-color="#f46d43"/><stop offset="1.000" stop-color="#f67c4a"/></linearGradient><linearGradient id="g308" x1="0" y1="0" x2="0" y2="1"><stop offset="0.000" stop-color="#d9444d"/><stop offset="0.364" stop-color="#e45549"/><stop offset="0.815" stop-color="#f46d43"/><stop offset="1.000" stop-color="#f67c4a"/></linearGradient><linearGradient id="g309" x1="0" y1="0" x2="0" y2="1"><stop offset="0.000" stop-color="#d8444d"/><stop offset="0.369" stop-color="#e45549"/><stop offset="0.820" stop-color="#f46d43"/><stop offset="1.000" stop-color="#f67c4a"/></linearGradient><linearGradient id="g310" x1="0" y1="0" x2="0" y2="1"><stop offset="0.000" stop-color="#d8434d"/><stop offset="0.374" stop-color="#e45549"/><stop offset="0.825" stop-color="#f46d43"/><stop offset="1.000" stop-color="#f67b4a"/></linearGradient><linearGradient id="g311" x1="0" y1="0" x2="0" y2="1"><stop offset="0.000" stop-color="#d8434d"/><stop offset="0.379" stop-color="#e45549"/><stop offset="0.830" stop-color="#f46d43"/><stop offset="1.000" stop-color="#f67b49"/></linearGradient><linearGradient id="g312" x1="0" y1="0" x2="0" y2="1"><stop offset="0.000" stop-color="#d8434d"/><stop offset="0.384" stop-color="#e45549"/><stop offset="0.835" stop-color="#f46d43"/><stop offset="1.000" stop-color="#f67a49"/></linearGradient><linearGradient id="g313" x1="0" y1="0" x2="0" y2="1"><stop offset="0.000" stop-color="#d8434d"/><stop offset="0.389" stop-color="#e45549"/><stop offset="0.840" stop-color="#f46d43"/><stop offset="1.000" stop-color="#f67a49"/></linearGradient><linearGradient id="g314" x1="0" y1="0" x2="0" y2="1"><stop offset="0.000" stop-color="#d8434d"/><stop offset="0.394" stop-color="#e45549"/><stop offset="0.845" stop-color="#f46d43"/><stop offset="1.000" stop-color="#f67a49"/></linearGradient><linearGradient id="g315" x1="0" y1="0" x2="0" y2="1"><stop offset="0.000" stop-color="#d8424d"/><stop offset="0.399" stop-color="#e45549"/><stop offset="0.850" stop-color="#f46d43"/><stop offset="1.000" stop-color="#f67949"/></linearGradient><linearGradient id="g316" x1="0" y1="0" x2="0" y2="1"><stop offset="0.000" stop-color="#d8424d"/><stop offset="0.404" stop-color="#e45549"/><stop offset="0.855" stop-color="#f46d43"/><stop offset="1.000" stop-color="#f67948"/></linearGradient><linearGradient id="g317" x1="0" y1="0" x2="0" y2="1"><stop offset="0.000" stop-color="#d7424d"/><stop offset="0.409" stop-color="#e45549"/><stop offset="0.860" stop-color="#f46d43"/><stop offset="1.000" stop-color="#f67848"/></linearGradient><linearGradient id="g318" x1="0" y1="0" x2="0" y2="1"><stop offset="0.000" stop-color="#d7424e"/><stop offset="0.414" stop-color="#e45549"/><stop offset="0.865" stop-color="#f46d43"/><stop offset="1.000" stop-color="#f67848"/></linearGradient><linearGradient id="g319" x1="0" y1="0" x2="0" y2="1"><stop offset="0.000" stop-color="#d7424e"/><stop offset="0.419" stop-color="#e45549"/><stop offset="0.870" stop-color="#f46d43"/><stop offset="1.000" stop-color="#f57848"/></linearGradient><linearGradient id="g320" x1="0" y1="0" x2="0" y2="1"><stop offset="0.000" stop-color="#d7414e"/><stop offset="0.424" stop-color="#e45549"/><stop offset="0.875" stop-color="#f46d43"/><stop offset="1.000" stop-color="#f57748"/></linearGradient><linearGradient id="g321" x1="0" y1="0" x2="0" y2="1"><stop offset="0.000" stop-color="#d7414e"/><stop offset="0.429" stop-color="#e45549"/><stop offset="0.880" stop-color="#f46d43"/><stop offset="1.000" stop-color="#f57747"/></linearGradient><linearGradient id="g322" x1="0" y1="0" x2="0" y2="1"><stop offset="0.000" stop-color="#d7414e"/><stop offset="0.434" stop-color="#e45549"/><stop offset="0.885" stop-color="#f46d43"/><stop offset="1.000" stop-color="#f57647"/></linearGradient><linearGradient id="g323" x1="0" y1="0" x2="0" y2="1"><stop offset="0.000" stop-color="#d7414e"/><stop offset="0.439" stop-color="#e45549"/><stop offset="0.889" stop-color="#f46d43"/><stop offset="1.000" stop-color="#f57647"/></linearGradient><linearGradient id="g324" x1="0" y1="0" x2="0" y2="1"><stop offset="0.000" stop-color="#d6414e"/><stop offset="0.443" stop-color="#e45549"/><stop offset="0.894" stop-color="#f46d43"/><stop offset="1.000" stop-color="#f57647"/></linearGradient><linearGradient id="g325" x1="0" y1="0" x2="0" y2="1"><stop offset="0.000" stop-color="#d6404e"/><stop offset="0.448" stop-color="#e45549"/><stop offset="0.899" stop-color="#f46d43"/><stop offset="1.000" stop-color="#f57547"/></linearGradient><linearGradient id="g326" x1="0" y1="0" x2="0" y2="1"><stop offset="0.000" stop-color="#d6404e"/><stop offset="0.453" stop-color="#e45549"/><stop offset="0.904" stop-color="#f46d43"/><stop offset="1.000" stop-color="#f57547"/></linearGradient><linearGradient id="g327" x1="0" y1="0" x2="0" y2="1"><stop offset="0.000" stop-color="#d6404e"/><stop offset="0.458" stop-color="#e45549"/><stop offset="0.909" stop-color="#f46d43"/><stop offset="1.000" stop-color="#f57446"/></linearGradient><linearGradient id="g328" x1="0" y1="0" x2="0" y2="1"><stop offset="0.000" stop-color="#d6404e"/><stop offset="0.463" stop-color="#e45549"/><stop offset="0.913" stop-color="#f46d43"/><stop offset="1.000" stop-color="#f57446"/></linearGradient><linearGradient id="g329" x1="0" y1="0" x2="0" y2="1"><stop offset="0.000" stop-color="#d6404e"/><stop offset="0.468" stop-color="#e45549"/><stop offset="0.918" stop-color="#f46d43"/><stop offset="1.000" stop-color="#f57446"/></linearGradient><linearGradient id="g330" x1="0" y1="0" x2="0" y2="1"><stop offset="0.000" stop-color="#d6404e"/><stop offset="0.473" stop-color="#e45549"/><stop offset="0.923" stop-color="#f46d43"/><stop offset="1.000" stop-color="#f57346"/></linearGradient><linearGradient id="g331" x1="0" y1="0" x2="0" y2="1"><stop offset="0.000" stop-color="#d63f4e"/><stop offset="0.477" stop-color="#e45549"/><stop offset="0.928" stop-color="#f46d43"/><stop offset="1.000" stop-color="#f57346"/></linearGradient><linearGradient id="g332" x1="0" y1="0" x2="0" y2="1"><stop offset="0.000" stop-color="#d53f4e"/><stop offset="0.482" stop-color="#e45549"/><stop offset="0.932" stop-color="#f46d43"/><stop offset="1.000" stop-color="#f57245"/></linearGradient><linearGradient id="g333" x1="0" y1="0" x2="0" y2="1"><stop offset="0.000" stop-color="#d53f4e"/><stop offset="0.487" stop-color="#e45549"/><stop offset="0.937" stop-color="#f46d43"/><stop offset="1.000" stop-color="#f57245"/></linearGradient><linearGradient id="g334" x1="0" y1="0" x2="0" y2="1"><stop offset="0.000" stop-color="#d53f4e"/><stop offset="0.492" stop-color="#e45549"/><stop offset="0.942" stop-color="#f46d43"/><stop offset="1.000" stop-color="#f57245"/></linearGradient><linearGradient id="g335" x1="0" y1="0" x2="0" y2="1"><stop offset="0.000" stop-color="#d53f4e"/><stop offset="0.497" stop-color="#e45549"/><stop offset="0.947" stop-color="#f46d43"/><stop offset="1.000" stop-color="#f57145"/></linearGradient><linearGradient id="g336" x1="0" y1="0" x2="0" y2="1"><stop offset="0.000" stop-color="#d53e4e"/><stop offset="0.501" stop-color="#e45549"/><stop offset="0.951" stop-color="#f46d43"/><stop offset="1.000" stop-color="#f57145"/></linearGradient><linearGradient id="g337" x1="0" y1="0" x2="0" y2="1"><stop offset="0.000" stop-color="#d53e4e"/><stop offset="0.506" stop-color="#e45549"/><stop offset="0.956" stop-color="#f46d43"/><stop offset="1.000" stop-color="#f47045"/></linearGradient><linearGradient id="g338" x1="0" y1="0" x2="0" y2="1"><stop offset="0.000" stop-color="#d53e4e"/><stop offset="0.511" stop-color="#e45549"/><stop offset="0.961" stop-color="#f46d43"/><stop offset="1.000" stop-color="#f47044"/></linearGradient><linearGradient id="g339" x1="0" y1="0" x2="0" y2="1"><stop offset="0.000" stop-color="#d53e4e"/><stop offset="0.516" stop-color="#e45549"/><stop offset="0.965" stop-color="#f46d43"/><stop offset="1.000" stop-color="#f47044"/></linearGradient><linearGradient id="g340" x1="0" y1="0" x2="0" y2="1"><stop offset="0.000" stop-color="#d43e4f"/><stop offset="0.520" stop-color="#e45549"/><stop offset="0.970" stop-color="#f46d43"/><stop offset="1.000" stop-color="#f46f44"/></linearGradient><linearGradient id="g341" x1="0" y1="0" x2="0" y2="1"><stop offset="0.000" stop-color="#d43d4f"/><stop offset="0.525" stop-color="#e45549"/><stop offset="0.975" stop-color="#f46d43"/><stop offset="1.000" stop-color="#f46f44"/></linearGradient><linearGradient id="g342" x1="0" y1="0" x2="0" y2="1"><stop offset="0.000" stop-color="#d43d4f"/><stop offset="0.530" stop-color="#e45549"/><stop offset="0.979" stop-color="#f46d43"/><stop offset="1.000" stop-color="#f46f44"/></linearGradient><linearGradient id="g343" x1="0" y1="0" x2="0" y2="1"><stop offset="0.000" stop-color="#d43d4f"/><stop offset="0.535" stop-color="#e45549"/><stop offset="0.984" stop-color="#f46d43"/><stop offset="1.000" stop-color="#f46e44"/></linearGradient><linearGradient id="g344" x1="0" y1="0" x2="0" y2="1"><stop offset="0.000" stop-color="#d43d4f"/><stop offset="0.539" stop-color="#e45549"/><stop offset="0.989" stop-color="#f46d43"/><stop offset="1.000" stop-color="#f46e43"/></linearGradient><linearGradient id="g345" x1="0" y1="0" x2="0" y2="1"><stop offset="0.000" stop-color="#d43d4f"/><stop offset="0.003" stop-color="#d43d4f"/><stop offset="0.544" stop-color="#e45549"/><stop offset="0.993" stop-color="#f46d43"/><stop offset="1.000" stop-color="#f46e43"/></linearGradient><linearGradient id="g346" x1="0" y1="0" x2="0" y2="1"><stop offset="0.000" stop-color="#d43d4f"/><stop offset="0.007" stop-color="#d43d4f"/><stop offset="0.549" stop-color="#e45549"/><stop offset="0.998" stop-color="#f46d43"/><stop offset="1.000" stop-color="#f46d43"/></linearGradient><linearGradient id="g347" x1="0" y1="0" x2="0" y2="1"><stop offset="0.000" stop-color="#d33c4f"/><stop offset="0.011" stop-color="#d43d4f"/><stop offset="0.553" stop-color="#e45549"/><stop offset="1.000" stop-color="#f46d43"/></linearGradient><linearGradient id="g348" x1="0" y1="0" x2="0" y2="1"><stop offset="0.000" stop-color="#d33c4f"/><stop offset="0.015" stop-color="#d43d4f"/><stop offset="0.558" stop-color="#e45549"/><stop offset="1.000" stop-color="#f46d43"/></linearGradient><linearGradient id="g349" x1="0" y1="0" x2="0" y2="1"><stop offset="0.000" stop-color="#d33c4f"/><stop offset="0.020" stop-color="#d43d4f"/><stop offset="0.563" stop-color="#e45549"/><stop offset="1.000" stop-color="#f46c43"/></linearGradient><linearGradient id="g350" x1="0" y1="0" x2="0" y2="1"><stop offset="0.000" stop-color="#d33c4e"/><stop offset="0.024" stop-color="#d43d4f"/><stop offset="0.567" stop-color="#e45549"/><stop offset="1.000" stop-color="#f36c43"/></linearGradient><linearGradient id="g351" x1="0" y1="0" x2="0" y2="1"><stop offset="0.000" stop-color="#d33b4e"/><stop offset="0.028" stop-color="#d43d4f"/><stop offset="0.572" stop-color="#e45549"/><stop offset="1.000" stop-color="#f36c43"/></linearGradient><linearGradient id="g352" x1="0" y1="0" x2="0" y2="1"><stop offset="0.000" stop-color="#d23b4e"/><stop offset="0.032" stop-color="#d43d4f"/><stop offset="0.577" stop-color="#e45549"/><stop offset="1.000" stop-color="#f36b43"/></linearGradient><linearGradient id="g353" x1="0" y1="0" x2="0" y2="1"><stop offset="0.000" stop-color="#d23b4e"/><stop offset="0.037" stop-color="#d43d4f"/><stop offset="0.581" stop-color="#e45549"/><stop offset="1.000" stop-color="#f36b43"/></linearGradient><linearGradient id="g354" x1="0" y1="0" x2="0" y2="1"><stop offset="0.000" stop-color="#d23b4e"/><stop offset="0.041" stop-color="#d43d4f"/><stop offset="0.586" stop-color="#e45549"/><stop offset="1.000" stop-color="#f36b43"/></linearGradient><linearGradient id="g355" x1="0" y1="0" x2="0" y2="1"><stop offset="0.000" stop-color="#d23b4e"/><stop offset="0.045" stop-color="#d43d4f"/><stop offset="0.590" stop-color="#e45549"/><stop offset="1.000" stop-color="#f26b44"/></linearGradient><linearGradient id="g356" x1="0" y1="0" x2="0" y2="1"><stop offset="0.000" stop-color="#d23a4e"/><stop offset="0.049" stop-color="#d43d4f"/><stop offset="0.595" stop-color="#e45549"/><stop offset="1.000" stop-color="#f26a44"/></linearGradient><linearGradient id="g357" x1="0" y1="0" x2="0" y2="1"><stop offset="0.000" stop-color="#d23a4e"/><stop offset="0.054" stop-color="#d43d4f"/><stop offset="0.599" stop-color="#e45549"/><stop offset="1.000" stop-color="#f26a44"/></linearGradient><linearGradient id="g358" x1="0" y1="0" x2="0" y2="1"><stop offset="0.000" stop-color="#d13a4e"/><stop offset="0.058" stop-color="#d43d4f"/><stop offset="0.604" stop-color="#e45549"/><stop offset="1.000" stop-color="#f26a44"/></linearGradient><linearGradient id="g359" x1="0" y1="0" x2="0" y2="1"><stop offset="0.000" stop-color="#d13a4e"/><stop offset="0.062" stop-color="#d43d4f"/><stop offset="0.609" stop-color="#e45549"/><stop offset="1.000" stop-color="#f26a44"/></linearGradient><linearGradient id="g360" x1="0" y1="0" x2="0" y2="1"><stop offset="0.000" stop-color="#d1394e"/><stop offset="0.066" stop-color="#d43d4f"/><stop offset="0.613" stop-color="#e45549"/><stop offset="1.000" stop-color="#f26944"/></linearGradient><linearGradient id="g361" x1="0" y1="0" x2="0" y2="1"><stop offset="0.000" stop-color="#d1394e"/><stop offset="0.070" stop-color="#d43d4f"/><stop offset="0.618" stop-color="#e45549"/><stop offset="1.000" stop-color="#f16944"/></linearGradient><linearGradient id="g362" x1="0" y1="0" x2="0" y2="1"><stop offset="0.000" stop-color="#d1394e"/><stop offset="0.075" stop-color="#d43d4f"/><stop offset="0.622" stop-color="#e45549"/><stop offset="1.000" stop-color="#f16944"/></linearGradient><linearGradient id="g363" x1="0" y1="0" x2="0" y2="1"><stop offset="0.000" stop-color="#d0394e"/><stop offset="0.079" stop-color="#d43d4f"/><stop offset="0.627" stop-color="#e45549"/><stop offset="1.000" stop-color="#f16944"/></linearGradient><linearGradient id="g364" x1="0" y1="0" x2="0" y2="1"><stop offset="0.000" stop-color="#d0394e"/><stop offset="0.083" stop-color="#d43d4f"/><stop offset="0.631" stop-color="#e45549"/><stop offset="1.000" stop-color="#f16844"/></linearGradient><linearGradient id="g365" x1="0" y1="0" x2="0" y2="1"><stop offset="0.000" stop-color="#d0384e"/><stop offset="0.087" stop-color="#d43d4f"/><stop offset="0.636" stop-color="#e45549"/><stop offset="1.000" stop-color="#f16844"/></linearGradient><linearGradient id="g366" x1="0" y1="0" x2="0" y2="1"><stop offset="0.000" stop-color="#d0384e"/><stop offset="0.091" stop-color="#d43d4f"/><stop offset="0.640" stop-color="#e45549"/><stop offset="1.000" stop-color="#f16844"/></linearGradient><linearGradient id="g367" x1="0" y1="0" x2="0" y2="1"><stop offset="0.000" stop-color="#d0384e"/><stop offset="0.096" stop-color="#d43d4f"/><stop offset="0.645" stop-color="#e45549"/><stop offset="1.000" stop-color="#f06844"/></linearGradient><linearGradient id="g368" x1="0" y1="0" x2="0" y2="1"><stop offset="0.000" stop-color="#cf384e"/><stop offset="0.100" stop-color="#d43d4f"/><stop offset="0.649" stop-color="#e45549"/><stop offset="1.000" stop-color="#f06744"/></linearGradient><linearGradient id="g369" x1="0" y1="0" x2="0" y2="1"><stop offset="0.000" stop-color="#cf384e"/><stop offset="0.104" stop-color="#d43d4f"/><stop offset="0.654" stop-color="#e45549"/><stop offset="1.000" stop-color="#f06744"/></linearGradient><linearGradient id="g370" x1="0" y1="0" x2="0" y2="1"><stop offset="0.000" stop-color="#cf374e"/><stop offset="0.108" stop-color="#d43d4f"/><stop offset="0.658" stop-color="#e45549"/><stop offset="1.000" stop-color="#f06745"/></linearGradient><linearGradient id="g371" x1="0" y1="0" x2="0" y2="1"><stop offset="0.000" stop-color="#cf374e"/><stop offset="0.112" stop-color="#d43d4f"/><stop offset="0.663" stop-color="#e45549"/><stop offset="1.000" stop-color="#f06745"/></linearGradient><linearGradient id="g372" x1="0" y1="0" x2="0" y2="1"><stop offset="0.000" stop-color="#cf374e"/><stop offset="0.117" stop-color="#d43d4f"/><stop offset="0.667" stop-color="#e45549"/><stop offset="1.000" stop-color="#f06645"/></linearGradient><linearGradient id="g373" x1="0" y1="0" x2="0" y2="1"><stop offset="0.000" stop-color="#cf374d"/><stop offset="0.121" stop-color="#d43d4f"/><stop offset="0.672" stop-color="#e45549"/><stop offset="1.000" stop-color="#ef6645"/></linearGradient><linearGradient id="g374" x1="0" y1="0" x2="0" y2="1"><stop offset="0.000" stop-color="#ce374d"/><stop offset="0.125" stop-color="#d43d4f"/><stop offset="0.676" stop-color="#e45549"/><stop offset="1.000" stop-color="#ef6645"/></linearGradient><linearGradient id="g375" x1="0" y1="0" x2="0" y2="1"><stop offset="0.000" stop-color="#ce364d"/><stop offset="0.129" stop-color="#d43d4f"/><stop offset="0.680" stop-color="#e45549"/><stop offset="1.000" stop-color="#ef6645"/></linearGradient><linearGradient id="g376" x1="0" y1="0" x2="0" y2="1"><stop offset="0.000" stop-color="#ce364d"/><stop offset="0.133" stop-color="#d43d4f"/><stop offset="0.685" stop-color="#e45549"/><stop offset="1.000" stop-color="#ef6545"/></linearGradient><linearGradient id="g377" x1="0" y1="0" x2="0" y2="1"><stop offset="0.000" stop-color="#ce364d"/><stop offset="0.137" stop-color="#d43d4f"/><stop offset="0.689" stop-color="#e45549"/><stop offset="1.000" stop-color="#ef6545"/></linearGradient><linearGradient id="g378" x1="0" y1="0" x2="0" y2="1"><stop offset="0.000" stop-color="#ce364d"/><stop offset="0.142" stop-color="#d43d4f"/><stop offset="0.694" stop-color="#e45549"/><stop offset="1.000" stop-color="#ef6545"/></linearGradient><linearGradient id="g379" x1="0" y1="0" x2="0" y2="1"><stop offset="0.000" stop-color="#cd364d"/><stop offset="0.146" stop-color="#d43d4f"/><stop offset="0.698" stop-color="#e45549"/><stop offset="1.000" stop-color="#ee6545"/></linearGradient><linearGradient id="g380" x1="0" y1="0" x2="0" y2="1"><stop offset="0.000" stop-color="#cd354d"/><stop offset="0.150" stop-color="#d43d4f"/><stop offset="0.702" stop-color="#e45549"/><stop offset="1.000" stop-color="#ee6445"/></linearGradient><linearGradient id="g381" x1="0" y1="0" x2="0" y2="1"><stop offset="0.000" stop-color="#cd354d"/><stop offset="0.154" stop-color="#d43d4f"/><stop offset="0.707" stop-color="#e45549"/><stop offset="1.000" stop-color="#ee6445"/></linearGradient><linearGradient id="g382" x1="0" y1="0" x2="0" y2="1"><stop offset="0.000" stop-color="#cd354d"/><stop offset="0.158" stop-color="#d43d4f"/><stop offset="0.711" stop-color="#e45549"/><stop offset="1.000" stop-color="#ee6445"/></linearGradient><linearGradient id="g383" x1="0" y1="0" x2="0" y2="1"><stop offset="0.000" stop-color="#cd354d"/><stop offset="0.162" stop-color="#d43d4f"/><stop offset="0.716" stop-color="#e45549"/><stop offset="1.000" stop-color="#ee6445"/></linearGradient><linearGradient id="g384" x1="0" y1="0" x2="0" y2="1"><stop offset="0.000" stop-color="#cd354d"/><stop offset="0.166" stop-color="#d43d4f"/><stop offset="0.720" stop-color="#e45549"/><stop offset="1.000" stop-color="#ee6345"/></linearGradient><linearGradient id="g385" x1="0" y1="0" x2="0" y2="1"><stop offset="0.000" stop-color="#cc344d"/><stop offset="0.171" stop-color="#d43d4f"/><stop offset="0.724" stop-color="#e45549"/><stop offset="1.000" stop-color="#ed6345"/></linearGradient><linearGradient id="g386" x1="0" y1="0" x2="0" y2="1"><stop offset="0.000" stop-color="#cc344d"/><stop offset="0.175" stop-color="#d43d4f"/><stop offset="0.729" stop-color="#e45549"/><stop offset="1.000" stop-color="#ed6345"/></linearGradient><linearGradient id="g387" x1="0" y1="0" x2="0" y2="1"><stop offset="0.000" stop-color="#cc344d"/><stop offset="0.179" stop-color="#d43d4f"/><stop offset="0.733" stop-color="#e45549"/><stop offset="1.000" stop-color="#ed6346"/></linearGradient><linearGradient id="g388" x1="0" y1="0" x2="0" y2="1"><stop offset="0.000" stop-color="#cc344d"/><stop offset="0.183" stop-color="#d43d4f"/><stop offset="0.737" stop-color="#e45549"/><stop offset="1.000" stop-color="#ed6246"/></linearGradient><linearGradient id="g389" x1="0" y1="0" x2="0" y2="1"><stop offset="0.000" stop-color="#cc344d"/><stop offset="0.187" stop-color="#d43d4f"/><stop offset="0.741" stop-color="#e45549"/><stop offset="1.000" stop-color="#ed6246"/></linearGradient><linearGradient id="g390" x1="0" y1="0" x2="0" y2="1"><stop offset="0.000" stop-color="#cc344d"/><stop offset="0.191" stop-color="#d43d4f"/><stop offset="0.746" stop-color="#e45549"/><stop offset="1.000" stop-color="#ed6246"/></linearGradient><linearGradient id="g391" x1="0" y1="0" x2="0" y2="1"><stop offset="0.000" stop-color="#cb334d"/><stop offset="0.195" stop-color="#d43d4f"/><stop offset="0.750" stop-color="#e45549"/><stop offset="1.000" stop-color="#ed6246"/></linearGradient><linearGradient id="g392" x1="0" y1="0" x2="0" y2="1"><stop offset="0.000" stop-color="#cb334d"/><stop offset="0.199" stop-color="#d43d4f"/><stop offset="0.754" stop-color="#e45549"/><stop offset="1.000" stop-color="#ec6246"/></linearGradient><linearGradient id="g393" x1="0" y1="0" x2="0" y2="1"><stop offset="0.000" stop-color="#cb334d"/><stop offset="0.203" stop-color="#d43d4f"/><stop offset="0.759" stop-color="#e45549"/><stop offset="1.000" stop-color="#ec6146"/></linearGradient><linearGradient id="g394" x1="0" y1="0" x2="0" y2="1"><stop offset="0.000" stop-color="#cb334d"/><stop offset="0.207" stop-color="#d43d4f"/><stop offset="0.763" stop-color="#e45549"/><stop offset="1.000" stop-color="#ec6146"/></linearGradient><linearGradient id="g395" x1="0" y1="0" x2="0" y2="1"><stop offset="0.000" stop-color="#cb334d"/><stop offset="0.212" stop-color="#d43d4f"/><stop offset="0.767" stop-color="#e45549"/><stop offset="1.000" stop-color="#ec6146"/></linearGradient><linearGradient id="g396" x1="0" y1="0" x2="0" y2="1"><stop offset="0.000" stop-color="#cb324d"/><stop offset="0.216" stop-color="#d43d4f"/><stop offset="0.771" stop-color="#e45549"/><stop offset="1.000" stop-color="#ec6146"/></linearGradient><linearGradient id="g397" x1="0" y1="0" x2="0" y2="1"><stop offset="0.000" stop-color="#ca324c"/><stop offset="0.220" stop-color="#d43d4f"/><stop offset="0.776" stop-color="#e45549"/><stop offset="1.000" stop-color="#ec6046"/></linearGradient><linearGradient id="g398" x1="0" y1="0" x2="0" y2="1"><stop offset="0.000" stop-color="#ca324c"/><stop offset="0.224" stop-color="#d43d4f"/><stop offset="0.780" stop-color="#e45549"/><stop offset="1.000" stop-color="#eb6046"/></linearGradient><linearGradient id="g399" x1="0" y1="0" x2="0" y2="1"><stop offset="0.000" stop-color="#ca324c"/><stop offset="0.228" stop-color="#d43d4f"/><stop offset="0.784" stop-color="#e45549"/><stop offset="1.000" stop-color="#eb6046"/></linearGradient><linearGradient id="g400" x1="0" y1="0" x2="0" y2="1"><stop offset="0.000" stop-color="#ca324c"/><stop offset="0.232" stop-color="#d43d4f"/><stop offset="0.788" stop-color="#e45549"/><stop offset="1.000" stop-color="#eb6046"/></linearGradient><linearGradient id="g401" x1="0" y1="0" x2="0" y2="1"><stop offset="0.000" stop-color="#ca324c"/><stop offset="0.236" stop-color="#d43d4f"/><stop offset="0.792" stop-color="#e45549"/><stop offset="1.000" stop-color="#eb6046"/></linearGradient><linearGradient id="g402" x1="0" y1="0" x2="0" y2="1"><stop offset="0.000" stop-color="#ca314c"/><stop offset="0.240" stop-color="#d43d4f"/><stop offset="0.797" stop-color="#e45549"/><stop offset="1.000" stop-color="#eb5f46"/></linearGradient><linearGradient id="g403" x1="0" y1="0" x2="0" y2="1"><stop offset="0.000" stop-color="#c9314c"/><stop offset="0.244" stop-color="#d43d4f"/><stop offset="0.801" stop-color="#e45549"/><stop offset="1.000" stop-color="#eb5f46"/></linearGradient><linearGradient id="g404" x1="0" y1="0" x2="0" y2="1"><stop offset="0.000" stop-color="#c9314c"/><stop offset="0.248" stop-color="#d43d4f"/><stop offset="0.805" stop-color="#e45549"/><stop offset="1.000" stop-color="#eb5f46"/></linearGradient><linearGradient id="g405" x1="0" y1="0" x2="0" y2="1"><stop offset="0.000" stop-color="#c9314c"/><stop offset="0.252" stop-color="#d43d4f"/><stop offset="0.809" stop-color="#e45549"/><stop offset="1.000" stop-color="#ea5f47"/></linearGradient><linearGradient id="g406" x1="0" y1="0" x2="0" y2="1"><stop offset="0.000" stop-color="#c9314c"/><stop offset="0.256" stop-color="#d43d4f"/><stop offset="0.813" stop-color="#e45549"/><stop offset="1.000" stop-color="#ea5e47"/></linearGradient><linearGradient id="g407" x1="0" y1="0" x2="0" y2="1"><stop offset="0.000" stop-color="#c9304c"/><stop offset="0.260" stop-color="#d43d4f"/><stop offset="0.818" stop-color="#e45549"/><stop offset="1.000" stop-color="#ea5e47"/></linearGradient><linearGradient id="g408" x1="0" y1="0" x2="0" y2="1"><stop offset="0.000" stop-color="#c9304c"/><stop offset="0.264" stop-color="#d43d4f"/><stop offset="0.822" stop-color="#e45549"/><stop offset="1.000" stop-color="#ea5e47"/></linearGradient><linearGradient id="g409" x1="0" y1="0" x2="0" y2="1"><stop offset="0.000" stop-color="#c8304c"/><stop offset="0.268" stop-color="#d43d4f"/><stop offset="0.826" stop-color="#e45549"/><stop offset="1.000" stop-color="#ea5e47"/></linearGradient><linearGradient id="g410" x1="0" y1="0" x2="0" y2="1"><stop offset="0.000" stop-color="#c8304c"/><stop offset="0.273" stop-color="#d43d4f"/><stop offset="0.830" stop-color="#e45549"/><stop offset="1.000" stop-color="#ea5e47"/></linearGradient><linearGradient id="g411" x1="0" y1="0" x2="0" y2="1"><stop offset="0.000" stop-color="#c8304c"/><stop offset="0.277" stop-color="#d43d4f"/><stop offset="0.834" stop-color="#e45549"/><stop offset="1.000" stop-color="#ea5d47"/></linearGradient><linearGradient id="g412" x1="0" y1="0" x2="0" y2="1"><stop offset="0.000" stop-color="#c8304c"/><stop offset="0.281" stop-color="#d43d4f"/><stop offset="0.838" stop-color="#e45549"/><stop offset="1.000" stop-color="#e95d47"/></linearGradient><linearGradient id="g413" x1="0" y1="0" x2="0" y2="1"><stop offset="0.000" stop-color="#c82f4c"/><stop offset="0.285" stop-color="#d43d4f"/><stop offset="0.842" stop-color="#e45549"/><stop offset="1.000" stop-color="#e95d47"/></linearGradient><linearGradient id="g414" x1="0" y1="0" x2="0" y2="1"><stop offset="0.000" stop-color="#c82f4c"/><stop offset="0.289" stop-color="#d43d4f"/><stop offset="0.847" stop-color="#e45549"/><stop offset="1.000" stop-color="#e95d47"/></linearGradient><linearGradient id="g415" x1="0" y1="0" x2="0" y2="1"><stop offset="0.000" stop-color="#c82f4c"/><stop offset="0.293" stop-color="#d43d4f"/><stop offset="0.851" stop-color="#e45549"/><stop offset="1.000" stop-color="#e95c47"/></linearGradient><linearGradient id="g416" x1="0" y1="0" x2="0" y2="1"><stop offset="0.000" stop-color="#c72f4c"/><stop offset="0.297" stop-color="#d43d4f"/><stop offset="0.855" stop-color="#e45549"/><stop offset="1.000" stop-color="#e95c47"/></linearGradient><linearGradient id="g417" x1="0" y1="0" x2="0" y2="1"><stop offset="0.000" stop-color="#c72f4c"/><stop offset="0.301" stop-color="#d43d4f"/><stop offset="0.859" stop-color="#e45549"/><stop offset="1.000" stop-color="#e95c47"/></linearGradient><linearGradient id="g418" x1="0" y1="0" x2="0" y2="1"><stop offset="0.000" stop-color="#c72f4c"/><stop offset="0.305" stop-color="#d43d4f"/><stop offset="0.863" stop-color="#e45549"/><stop offset="1.000" stop-color="#e95c47"/></linearGradient><linearGradient id="g419" x1="0" y1="0" x2="0" y2="1"><stop offset="0.000" stop-color="#c72e4c"/><stop offset="0.309" stop-color="#d43d4f"/><stop offset="0.867" stop-color="#e45549"/><stop offset="1.000" stop-color="#e85c47"/></linearGradient><linearGradient id="g420" x1="0" y1="0" x2="0" y2="1"><stop offset="0.000" stop-color="#c72e4c"/><stop offset="0.313" stop-color="#d43d4f"/><stop offset="0.871" stop-color="#e45549"/><stop offset="1.000" stop-color="#e85b47"/></linearGradient><linearGradient id="g421" x1="0" y1="0" x2="0" y2="1"><stop offset="0.000" stop-color="#c72e4c"/><stop offset="0.317" stop-color="#d43d4f"/><stop offset="0.875" stop-color="#e45549"/><stop offset="1.000" stop-color="#e85b47"/></linearGradient><linearGradient id="g422" x1="0" y1="0" x2="0" y2="1"><stop offset="0.000" stop-color="#c62e4c"/><stop offset="0.321" stop-color="#d43d4f"/><stop offset="0.879" stop-color="#e45549"/><stop offset="1.000" stop-color="#e85b47"/></linearGradient><linearGradient id="g423" x1="0" y1="0" x2="0" y2="1"><stop offset="0.000" stop-color="#c62e4c"/><stop offset="0.325" stop-color="#d43d4f"/><stop offset="0.883" stop-color="#e45549"/><stop offset="1.000" stop-color="#e85b47"/></linearGradient><linearGradient id="g424" x1="0" y1="0" x2="0" y2="1"><stop offset="0.000" stop-color="#c62e4b"/><stop offset="0.329" stop-color="#d43d4f"/><stop offset="0.887" stop-color="#e45549"/><stop offset="1.000" stop-color="#e85b47"/></linearGradient><linearGradient id="g425" x1="0" y1="0" x2="0" y2="1"><stop offset="0.000" stop-color="#c62d4b"/><stop offset="0.333" stop-color="#d43d4f"/><stop offset="0.891" stop-color="#e45549"/><stop offset="1.000" stop-color="#e85a48"/></linearGradient><linearGradient id="g426" x1="0" y1="0" x2="0" y2="1"><stop offset="0.000" stop-color="#c62d4b"/><stop offset="0.337" stop-color="#d43d4f"/><stop offset="0.895" stop-color="#e45549"/><stop offset="1.000" stop-color="#e75a48"/></linearGradient><linearGradient id="g427" x1="0" y1="0" x2="0" y2="1"><stop offset="0.000" stop-color="#c62d4b"/><stop offset="0.341" stop-color="#d43d4f"/><stop offset="0.899" stop-color="#e45549"/><stop offset="1.000" stop-color="#e75a48"/></linearGradient><linearGradient id="g428" x1="0" y1="0" x2="0" y2="1"><stop offset="0.000" stop-color="#c62d4b"/><stop offset="0.345" stop-color="#d43d4f"/><stop offset="0.903" stop-color="#e45549"/><stop offset="1.000" stop-color="#e75a48"/></linearGradient><linearGradient id="g429" x1="0" y1="0" x2="0" y2="1"><stop offset="0.000" stop-color="#c52d4b"/><stop offset="0.348" stop-color="#d43d4f"/><stop offset="0.907" stop-color="#e45549"/><stop offset="1.000" stop-color="#e75a48"/></linearGradient><linearGradient id="g430" x1="0" y1="0" x2="0" y2="1"><stop offset="0.000" stop-color="#c52d4b"/><stop offset="0.352" stop-color="#d43d4f"/><stop offset="0.911" stop-color="#e45549"/><stop offset="1.000" stop-color="#e75948"/></linearGradient><linearGradient id="g431" x1="0" y1="0" x2="0" y2="1"><stop offset="0.000" stop-color="#c52c4b"/><stop offset="0.356" stop-color="#d43d4f"/><stop offset="0.915" stop-color="#e45549"/><stop offset="1.000" stop-color="#e75948"/></linearGradient><linearGradient id="g432" x1="0" y1="0" x2="0" y2="1"><stop offset="0.000" stop-color="#c52c4b"/><stop offset="0.360" stop-color="#d43d4f"/><stop offset="0.919" stop-color="#e45549"/><stop offset="1.000" stop-color="#e75948"/></linearGradient><linearGradient id="g433" x1="0" y1="0" x2="0" y2="1"><stop offset="0.000" stop-color="#c52c4b"/><stop offset="0.364" stop-color="#d43d4f"/><stop offset="0.923" stop-color="#e45549"/><stop offset="1.000" stop-color="#e75948"/></linearGradient><linearGradient id="g434" x1="0" y1="0" x2="0" y2="1"><stop offset="0.000" stop-color="#c52c4b"/><stop offset="0.368" stop-color="#d43d4f"/><stop offset="0.927" stop-color="#e45549"/><stop offset="1.000" stop-color="#e65948"/></linearGradient><linearGradient id="g435" x1="0" y1="0" x2="0" y2="1"><stop offset="0.000" stop-color="#c52c4b"/><stop offset="0.372" stop-color="#d43d4f"/><stop offset="0.931" stop-color="#e45549"/><stop offset="1.000" stop-color="#e65848"/></linearGradient><linearGradient id="g436" x1="0" y1="0" x2="0" y2="1"><stop offset="0.000" stop-color="#c42c4b"/><stop offset="0.376" stop-color="#d43d4f"/><stop offset="0.935" stop-color="#e45549"/><stop offset="1.000" stop-color="#e65848"/></linearGradient><linearGradient id="g437" x1="0" y1="0" x2="0" y2="1"><stop offset="0.000" stop-color="#c42b4b"/><stop offset="0.380" stop-color="#d43d4f"/><stop offset="0.939" stop-color="#e45549"/><stop offset="1.000" stop-color="#e65848"/></linearGradient><linearGradient id="g438" x1="0" y1="0" x2="0" y2="1"><stop offset="0.000" stop-color="#c42b4b"/><stop offset="0.384" stop-color="#d43d4f"/><stop offset="0.943" stop-color="#e45549"/><stop offset="1.000" stop-color="#e65848"/></linearGradient><linearGradient id="g439" x1="0" y1="0" x2="0" y2="1"><stop offset="0.000" stop-color="#c42b4b"/><stop offset="0.388" stop-color="#d43d4f"/><stop offset="0.947" stop-color="#e45549"/><stop offset="1.000" stop-color="#e65848"/></linearGradient><linearGradient id="g440" x1="0" y1="0" x2="0" y2="1"><stop offset="0.000" stop-color="#c42b4b"/><stop offset="0.392" stop-color="#d43d4f"/><stop offset="0.950" stop-color="#e45549"/><stop offset="1.000" stop-color="#e65748"/></linearGradient><linearGradient id="g441" x1="0" y1="0" x2="0" y2="1"><stop offset="0.000" stop-color="#c42b4b"/><stop offset="0.396" stop-color="#d43d4f"/><stop offset="0.954" stop-color="#e45549"/><stop offset="1.000" stop-color="#e55748"/></linearGradient><linearGradient id="g442" x1="0" y1="0" x2="0" y2="1"><stop offset="0.000" stop-color="#c42b4b"/><stop offset="0.400" stop-color="#d43d4f"/><stop offset="0.958" stop-color="#e45549"/><stop offset="1.000" stop-color="#e55748"/></linearGradient><linearGradient id="g443" x1="0" y1="0" x2="0" y2="1"><stop offset="0.000" stop-color="#c32a4b"/><stop offset="0.404" stop-color="#d43d4f"/><stop offset="0.962" stop-color="#e45549"/><stop offset="1.000" stop-color="#e55748"/></linearGradient><linearGradient id="g444" x1="0" y1="0" x2="0" y2="1"><stop offset="0.000" stop-color="#c32a4b"/><stop offset="0.408" stop-color="#d43d4f"/><stop offset="0.966" stop-color="#e45549"/><stop offset="1.000" stop-color="#e55748"/></linearGradient><linearGradient id="g445" x1="0" y1="0" x2="0" y2="1"><stop offset="0.000" stop-color="#c32a4b"/><stop offset="0.412" stop-color="#d43d4f"/><stop offset="0.970" stop-color="#e45549"/><stop offset="1.000" stop-color="#e55649"/></linearGradient><linearGradient id="g446" x1="0" y1="0" x2="0" y2="1"><stop offset="0.000" stop-color="#c32a4b"/><stop offset="0.416" stop-color="#d43d4f"/><stop offset="0.974" stop-color="#e45549"/><stop offset="1.000" stop-color="#e55649"/></linearGradient><linearGradient id="g447" x1="0" y1="0" x2="0" y2="1"><stop offset="0.000" stop-color="#c32a4b"/><stop offset="0.420" stop-color="#d43d4f"/><stop offset="0.978" stop-color="#e45549"/><stop offset="1.000" stop-color="#e55649"/></linearGradient><linearGradient id="g448" x1="0" y1="0" x2="0" y2="1"><stop offset="0.000" stop-color="#c32a4b"/><stop offset="0.423" stop-color="#d43d4f"/><stop offset="0.981" stop-color="#e45549"/><stop offset="1.000" stop-color="#e55649"/></linearGradient><linearGradient id="g449" x1="0" y1="0" x2="0" y2="1"><stop offset="0.000" stop-color="#c32a4b"/><stop offset="0.427" stop-color="#d43d4f"/><stop offset="0.985" stop-color="#e45549"/><stop offset="1.000" stop-color="#e45649"/></linearGradient><linearGradient id="g450" x1="0" y1="0" x2="0" y2="1"><stop offset="0.000" stop-color="#c2294b"/><stop offset="0.431" stop-color="#d43d4f"/><stop offset="0.989" stop-color="#e45549"/><stop offset="1.000" stop-color="#e45549"/></linearGradient><linearGradient id="g451" x1="0" y1="0" x2="0" y2="1"><stop offset="0.000" stop-color="#c2294b"/><stop offset="0.435" stop-color="#d43d4f"/><stop offset="0.993" stop-color="#e45549"/><stop offset="1.000" stop-color="#e45549"/></linearGradient><linearGradient id="g452" x1="0" y1="0" x2="0" y2="1"><stop offset="0.000" stop-color="#c2294b"/><stop offset="0.439" stop-color="#d43d4f"/><stop offset="0.997" stop-color="#e45549"/><stop offset="1.000" stop-color="#e45549"/></linearGradient><linearGradient id="g453" x1="0" y1="0" x2="0" y2="1"><stop offset="0.000" stop-color="#c2294b"/><stop offset="0.443" stop-color="#d43d4f"/><stop offset="1.000" stop-color="#e45549"/></linearGradient><linearGradient id="g454" x1="0" y1="0" x2="0" y2="1"><stop offset="0.000" stop-color="#c2294a"/><stop offset="0.447" stop-color="#d43d4f"/><stop offset="1.000" stop-color="#e45549"/></linearGradient><linearGradient id="g455" x1="0" y1="0" x2="0" y2="1"><stop offset="0.000" stop-color="#c2294a"/><stop offset="0.451" stop-color="#d43d4f"/><stop offset="1.000" stop-color="#e45449"/></linearGradient><linearGradient id="g456" x1="0" y1="0" x2="0" y2="1"><stop offset="0.000" stop-color="#c2284a"/><stop offset="0.455" stop-color="#d43d4f"/><stop offset="1.000" stop-color="#e45449"/></linearGradient><linearGradient id="g457" x1="0" y1="0" x2="0" y2="1"><stop offset="0.000" stop-color="#c1284a"/><stop offset="0.458" stop-color="#d43d4f"/><stop offset="1.000" stop-color="#e35449"/></linearGradient><linearGradient id="g458" x1="0" y1="0" x2="0" y2="1"><stop offset="0.000" stop-color="#c1284a"/><stop offset="0.462" stop-color="#d43d4f"/><stop offset="1.000" stop-color="#e35449"/></linearGradient><linearGradient id="g459" x1="0" y1="0" x2="0" y2="1"><stop offset="0.000" stop-color="#c1284a"/><stop offset="0.466" stop-color="#d43d4f"/><stop offset="1.000" stop-color="#e35449"/></linearGradient><linearGradient id="g460" x1="0" y1="0" x2="0" y2="1"><stop offset="0.000" stop-color="#c1284a"/><stop offset="0.470" stop-color="#d43d4f"/><stop offset="1.000" stop-color="#e35449"/></linearGradient><linearGradient id="gcb" x1="0" y1="0" x2="0" y2="1"><stop offset="0.0000" stop-color="#3387bc"/><stop offset="0.0556" stop-color="#4ca4b1"/><stop offset="0.1111" stop-color="#66c2a5"/><stop offset="0.1667" stop-color="#88cfa5"/><stop offset="0.2222" stop-color="#aadca4"/><stop offset="0.2778" stop-color="#c8e99e"/><stop offset="0.3333" stop-color="#e6f598"/><stop offset="0.3889" stop-color="#f2faab"/><stop offset="0.4444" stop-color="#ffffbe"/><stop offset="0.5000" stop-color="#feefa5"/><stop offset="0.5556" stop-color="#fee08b"/><stop offset="0.6111" stop-color="#fdc676"/><stop offset="0.6667" stop-color="#fdad60"/><stop offset="0.7222" stop-color="#f88d52"/><stop offset="0.7778" stop-color="#f46d43"/><stop offset="0.8333" stop-color="#e45549"/><stop offset="0.8889" stop-color="#d43d4f"/><stop offset="0.9444" stop-color="#b91f48"/><stop offset="1.0000" stop-color="#9e0142"/></linearGradient><clipPath id="clipC"><rect x="82.4" y="508.0" width="459.70000000000005" height="342.4"/></clipPath></defs>
<g clip-path="url(#clipC)"><g shape-rendering="crispEdges"><rect x="82" y="508.0" width="1.5" height="342.4" fill="url(#g0)"/><rect x="83" y="508.0" width="1.5" height="342.4" fill="url(#g1)"/><rect x="84" y="508.0" width="1.5" height="342.4" fill="url(#g2)"/><rect x="85" y="508.0" width="1.5" height="342.4" fill="url(#g3)"/><rect x="86" y="508.0" width="1.5" height="342.4" fill="url(#g4)"/><rect x="87" y="508.0" width="1.5" height="342.4" fill="url(#g5)"/><rect x="88" y="508.0" width="1.5" height="342.4" fill="url(#g6)"/><rect x="89" y="508.0" width="1.5" height="342.4" fill="url(#g7)"/><rect x="90" y="508.0" width="1.5" height="342.4" fill="url(#g8)"/><rect x="91" y="508.0" width="1.5" height="342.4" fill="url(#g9)"/><rect x="92" y="508.0" width="1.5" height="342.4" fill="url(#g10)"/><rect x="93" y="508.0" width="1.5" height="342.4" fill="url(#g11)"/><rect x="94" y="508.0" width="1.5" height="342.4" fill="url(#g12)"/><rect x="95" y="508.0" width="1.5" height="342.4" fill="url(#g13)"/><rect x="96" y="508.0" width="1.5" height="342.4" fill="url(#g14)"/><rect x="97" y="508.0" width="1.5" height="342.4" fill="url(#g15)"/><rect x="98" y="508.0" width="1.5" height="342.4" fill="url(#g16)"/><rect x="99" y="508.0" width="1.5" height="342.4" fill="url(#g17)"/><rect x="100" y="508.0" width="1.5" height="342.4" fill="url(#g18)"/><rect x="101" y="508.0" width="1.5" height="342.4" fill="url(#g19)"/><rect x="102" y="508.0" width="1.5" height="342.4" fill="url(#g20)"/><rect x="103" y="508.0" width="1.5" height="342.4" fill="url(#g21)"/><rect x="104" y="508.0" width="1.5" height="342.4" fill="url(#g22)"/><rect x="105" y="508.0" width="1.5" height="342.4" fill="url(#g23)"/><rect x="106" y="508.0" width="1.5" height="342.4" fill="url(#g24)"/><rect x="107" y="508.0" width="1.5" height="342.4" fill="url(#g25)"/><rect x="108" y="508.0" width="1.5" height="342.4" fill="url(#g26)"/><rect x="109" y="508.0" width="1.5" height="342.4" fill="url(#g27)"/><rect x="110" y="508.0" width="1.5" height="342.4" fill="url(#g28)"/><rect x="111" y="508.0" width="1.5" height="342.4" fill="url(#g29)"/><rect x="112" y="508.0" width="1.5" height="342.4" fill="url(#g30)"/><rect x="113" y="508.0" width="1.5" height="342.4" fill="url(#g31)"/><rect x="114" y="508.0" width="1.5" height="342.4" fill="url(#g32)"/><rect x="115" y="508.0" width="1.5" height="342.4" fill="url(#g33)"/><rect x="116" y="508.0" width="1.5" height="342.4" fill="url(#g34)"/><rect x="117" y="508.0" width="1.5" height="342.4" fill="url(#g35)"/><rect x="118" y="508.0" width="1.5" height="342.4" fill="url(#g36)"/><rect x="119" y="508.0" width="1.5" height="342.4" fill="url(#g37)"/><rect x="120" y="508.0" width="1.5" height="342.4" fill="url(#g38)"/><rect x="121" y="508.0" width="1.5" height="342.4" fill="url(#g39)"/><rect x="122" y="508.0" width="1.5" height="342.4" fill="url(#g40)"/><rect x="123" y="508.0" width="1.5" height="342.4" fill="url(#g41)"/><rect x="124" y="508.0" width="1.5" height="342.4" fill="url(#g42)"/><rect x="125" y="508.0" width="1.5" height="342.4" fill="url(#g43)"/><rect x="126" y="508.0" width="1.5" height="342.4" fill="url(#g44)"/><rect x="127" y="508.0" width="1.5" height="342.4" fill="url(#g45)"/><rect x="128" y="508.0" width="1.5" height="342.4" fill="url(#g46)"/><rect x="129" y="508.0" width="1.5" height="342.4" fill="url(#g47)"/><rect x="130" y="508.0" width="1.5" height="342.4" fill="url(#g48)"/><rect x="131" y="508.0" width="1.5" height="342.4" fill="url(#g49)"/><rect x="132" y="508.0" width="1.5" height="342.4" fill="url(#g50)"/><rect x="133" y="508.0" width="1.5" height="342.4" fill="url(#g51)"/><rect x="134" y="508.0" width="1.5" height="342.4" fill="url(#g52)"/><rect x="135" y="508.0" width="1.5" height="342.4" fill="url(#g53)"/><rect x="136" y="508.0" width="1.5" height="342.4" fill="url(#g54)"/><rect x="137" y="508.0" width="1.5" height="342.4" fill="url(#g55)"/><rect x="138" y="508.0" width="1.5" height="342.4" fill="url(#g56)"/><rect x="139" y="508.0" width="1.5" height="342.4" fill="url(#g57)"/><rect x="140" y="508.0" width="1.5" height="342.4" fill="url(#g58)"/><rect x="141" y="508.0" width="1.5" height="342.4" fill="url(#g59)"/><rect x="142" y="508.0" width="1.5" height="342.4" fill="url(#g60)"/><rect x="143" y="508.0" width="1.5" height="342.4" fill="url(#g61)"/><rect x="144" y="508.0" width="1.5" height="342.4" fill="url(#g62)"/><rect x="145" y="508.0" width="1.5" height="342.4" fill="url(#g63)"/><rect x="146" y="508.0" width="1.5" height="342.4" fill="url(#g64)"/><rect x="147" y="508.0" width="1.5" height="342.4" fill="url(#g65)"/><rect x="148" y="508.0" width="1.5" height="342.4" fill="url(#g66)"/><rect x="149" y="508.0" width="1.5" height="342.4" fill="url(#g67)"/><rect x="150" y="508.0" width="1.5" height="342.4" fill="url(#g68)"/><rect x="151" y="508.0" width="1.5" height="342.4" fill="url(#g69)"/><rect x="152" y="508.0" width="1.5" height="342.4" fill="url(#g70)"/><rect x="153" y="508.0" width="1.5" height="342.4" fill="url(#g71)"/><rect x="154" y="508.0" width="1.5" height="342.4" fill="url(#g72)"/><rect x="155" y="508.0" width="1.5" height="342.4" fill="url(#g73)"/><rect x="156" y="508.0" width="1.5" height="342.4" fill="url(#g74)"/><rect x="157" y="508.0" width="1.5" height="342.4" fill="url(#g75)"/><rect x="158" y="508.0" width="1.5" height="342.4" fill="url(#g76)"/><rect x="159" y="508.0" width="1.5" height="342.4" fill="url(#g77)"/><rect x="160" y="508.0" width="1.5" height="342.4" fill="url(#g78)"/><rect x="161" y="508.0" width="1.5" height="342.4" fill="url(#g79)"/><rect x="162" y="508.0" width="1.5" height="342.4" fill="url(#g80)"/><rect x="163" y="508.0" width="1.5" height="342.4" fill="url(#g81)"/><rect x="164" y="508.0" width="1.5" height="342.4" fill="url(#g82)"/><rect x="165" y="508.0" width="1.5" height="342.4" fill="url(#g83)"/><rect x="166" y="508.0" width="1.5" height="342.4" fill="url(#g84)"/><rect x="167" y="508.0" width="1.5" height="342.4" fill="url(#g85)"/><rect x="168" y="508.0" width="1.5" height="342.4" fill="url(#g86)"/><rect x="169" y="508.0" width="1.5" height="342.4" fill="url(#g87)"/><rect x="170" y="508.0" width="1.5" height="342.4" fill="url(#g88)"/><rect x="171" y="508.0" width="1.5" height="342.4" fill="url(#g89)"/><rect x="172" y="508.0" width="1.5" height="342.4" fill="url(#g90)"/><rect x="173" y="508.0" width="1.5" height="342.4" fill="url(#g91)"/><rect x="174" y="508.0" width="1.5" height="342.4" fill="url(#g92)"/><rect x="175" y="508.0" width="1.5" height="342.4" fill="url(#g93)"/><rect x="176" y="508.0" width="1.5" height="342.4" fill="url(#g94)"/><rect x="177" y="508.0" width="1.5" height="342.4" fill="url(#g95)"/><rect x="178" y="508.0" width="1.5" height="342.4" fill="url(#g96)"/><rect x="179" y="508.0" width="1.5" height="342.4" fill="url(#g97)"/><rect x="180" y="508.0" width="1.5" height="342.4" fill="url(#g98)"/><rect x="181" y="508.0" width="1.5" height="342.4" fill="url(#g99)"/><rect x="182" y="508.0" width="1.5" height="342.4" fill="url(#g100)"/><rect x="183" y="508.0" width="1.5" height="342.4" fill="url(#g101)"/><rect x="184" y="508.0" width="1.5" height="342.4" fill="url(#g102)"/><rect x="185" y="508.0" width="1.5" height="342.4" fill="url(#g103)"/><rect x="186" y="508.0" width="1.5" height="342.4" fill="url(#g104)"/><rect x="187" y="508.0" width="1.5" height="342.4" fill="url(#g105)"/><rect x="188" y="508.0" width="1.5" height="342.4" fill="url(#g106)"/><rect x="189" y="508.0" width="1.5" height="342.4" fill="url(#g107)"/><rect x="190" y="508.0" width="1.5" height="342.4" fill="url(#g108)"/><rect x="191" y="508.0" width="1.5" height="342.4" fill="url(#g109)"/><rect x="192" y="508.0" width="1.5" height="342.4" fill="url(#g110)"/><rect x="193" y="508.0" width="1.5" height="342.4" fill="url(#g111)"/><rect x="194" y="508.0" width="1.5" height="342.4" fill="url(#g112)"/><rect x="195" y="508.0" width="1.5" height="342.4" fill="url(#g113)"/><rect x="196" y="508.0" width="1.5" height="342.4" fill="url(#g114)"/><rect x="197" y="508.0" width="1.5" height="342.4" fill="url(#g115)"/><rect x="198" y="508.0" width="1.5" height="342.4" fill="url(#g116)"/><rect x="199" y="508.0" width="1.5" height="342.4" fill="url(#g117)"/><rect x="200" y="508.0" width="1.5" height="342.4" fill="url(#g118)"/><rect x="201" y="508.0" width="1.5" height="342.4" fill="url(#g119)"/><rect x="202" y="508.0" width="1.5" height="342.4" fill="url(#g120)"/><rect x="203" y="508.0" width="1.5" height="342.4" fill="url(#g121)"/><rect x="204" y="508.0" width="1.5" height="342.4" fill="url(#g122)"/><rect x="205" y="508.0" width="1.5" height="342.4" fill="url(#g123)"/><rect x="206" y="508.0" width="1.5" height="342.4" fill="url(#g124)"/><rect x="207" y="508.0" width="1.5" height="342.4" fill="url(#g125)"/><rect x="208" y="508.0" width="1.5" height="342.4" fill="url(#g126)"/><rect x="209" y="508.0" width="1.5" height="342.4" fill="url(#g127)"/><rect x="210" y="508.0" width="1.5" height="342.4" fill="url(#g128)"/><rect x="211" y="508.0" width="1.5" height="342.4" fill="url(#g129)"/><rect x="212" y="508.0" width="1.5" height="342.4" fill="url(#g130)"/><rect x="213" y="508.0" width="1.5" height="342.4" fill="url(#g131)"/><rect x="214" y="508.0" width="1.5" height="342.4" fill="url(#g132)"/><rect x="215" y="508.0" width="1.5" height="342.4" fill="url(#g133)"/><rect x="216" y="508.0" width="1.5" height="342.4" fill="url(#g134)"/><rect x="217" y="508.0" width="1.5" height="342.4" fill="url(#g135)"/><rect x="218" y="508.0" width="1.5" height="342.4" fill="url(#g136)"/><rect x="219" y="508.0" width="1.5" height="342.4" fill="url(#g137)"/><rect x="220" y="508.0" width="1.5" height="342.4" fill="url(#g138)"/><rect x="221" y="508.0" width="1.5" height="342.4" fill="url(#g139)"/><rect x="222" y="508.0" width="1.5" height="342.4" fill="url(#g140)"/><rect x="223" y="508.0" width="1.5" height="342.4" fill="url(#g141)"/><rect x="224" y="508.0" width="1.5" height="342.4" fill="url(#g142)"/><rect x="225" y="508.0" width="1.5" height="342.4" fill="url(#g143)"/><rect x="226" y="508.0" width="1.5" height="342.4" fill="url(#g144)"/><rect x="227" y="508.0" width="1.5" height="342.4" fill="url(#g145)"/><rect x="228" y="508.0" width="1.5" height="342.4" fill="url(#g146)"/><rect x="229" y="508.0" width="1.5" height="342.4" fill="url(#g147)"/><rect x="230" y="508.0" width="1.5" height="342.4" fill="url(#g148)"/><rect x="231" y="508.0" width="1.5" height="342.4" fill="url(#g149)"/><rect x="232" y="508.0" width="1.5" height="342.4" fill="url(#g150)"/><rect x="233" y="508.0" width="1.5" height="342.4" fill="url(#g151)"/><rect x="234" y="508.0" width="1.5" height="342.4" fill="url(#g152)"/><rect x="235" y="508.0" width="1.5" height="342.4" fill="url(#g153)"/><rect x="236" y="508.0" width="1.5" height="342.4" fill="url(#g154)"/><rect x="237" y="508.0" width="1.5" height="342.4" fill="url(#g155)"/><rect x="238" y="508.0" width="1.5" height="342.4" fill="url(#g156)"/><rect x="239" y="508.0" width="1.5" height="342.4" fill="url(#g157)"/><rect x="240" y="508.0" width="1.5" height="342.4" fill="url(#g158)"/><rect x="241" y="508.0" width="1.5" height="342.4" fill="url(#g159)"/><rect x="242" y="508.0" width="1.5" height="342.4" fill="url(#g160)"/><rect x="243" y="508.0" width="1.5" height="342.4" fill="url(#g161)"/><rect x="244" y="508.0" width="1.5" height="342.4" fill="url(#g162)"/><rect x="245" y="508.0" width="1.5" height="342.4" fill="url(#g163)"/><rect x="246" y="508.0" width="1.5" height="342.4" fill="url(#g164)"/><rect x="247" y="508.0" width="1.5" height="342.4" fill="url(#g165)"/><rect x="248" y="508.0" width="1.5" height="342.4" fill="url(#g166)"/><rect x="249" y="508.0" width="1.5" height="342.4" fill="url(#g167)"/><rect x="250" y="508.0" width="1.5" height="342.4" fill="url(#g168)"/><rect x="251" y="508.0" width="1.5" height="342.4" fill="url(#g169)"/><rect x="252" y="508.0" width="1.5" height="342.4" fill="url(#g170)"/><rect x="253" y="508.0" width="1.5" height="342.4" fill="url(#g171)"/><rect x="254" y="508.0" width="1.5" height="342.4" fill="url(#g172)"/><rect x="255" y="508.0" width="1.5" height="342.4" fill="url(#g173)"/><rect x="256" y="508.0" width="1.5" height="342.4" fill="url(#g174)"/><rect x="257" y="508.0" width="1.5" height="342.4" fill="url(#g175)"/><rect x="258" y="508.0" width="1.5" height="342.4" fill="url(#g176)"/><rect x="259" y="508.0" width="1.5" height="342.4" fill="url(#g177)"/><rect x="260" y="508.0" width="1.5" height="342.4" fill="url(#g178)"/><rect x="261" y="508.0" width="1.5" height="342.4" fill="url(#g179)"/><rect x="262" y="508.0" width="1.5" height="342.4" fill="url(#g180)"/><rect x="263" y="508.0" width="1.5" height="342.4" fill="url(#g181)"/><rect x="264" y="508.0" width="1.5" height="342.4" fill="url(#g182)"/><rect x="265" y="508.0" width="1.5" height="342.4" fill="url(#g183)"/><rect x="266" y="508.0" width="1.5" height="342.4" fill="url(#g184)"/><rect x="267" y="508.0" width="1.5" height="342.4" fill="url(#g185)"/><rect x="268" y="508.0" width="1.5" height="342.4" fill="url(#g186)"/><rect x="269" y="508.0" width="1.5" height="342.4" fill="url(#g187)"/><rect x="270" y="508.0" width="1.5" height="342.4" fill="url(#g188)"/><rect x="271" y="508.0" width="1.5" height="342.4" fill="url(#g189)"/><rect x="272" y="508.0" width="1.5" height="342.4" fill="url(#g190)"/><rect x="273" y="508.0" width="1.5" height="342.4" fill="url(#g191)"/><rect x="274" y="508.0" width="1.5" height="342.4" fill="url(#g192)"/><rect x="275" y="508.0" width="1.5" height="342.4" fill="url(#g193)"/><rect x="276" y="508.0" width="1.5" height="342.4" fill="url(#g194)"/><rect x="277" y="508.0" width="1.5" height="342.4" fill="url(#g195)"/><rect x="278" y="508.0" width="1.5" height="342.4" fill="url(#g196)"/><rect x="279" y="508.0" width="1.5" height="342.4" fill="url(#g197)"/><rect x="280" y="508.0" width="1.5" height="342.4" fill="url(#g198)"/><rect x="281" y="508.0" width="1.5" height="342.4" fill="url(#g199)"/><rect x="282" y="508.0" width="1.5" height="342.4" fill="url(#g200)"/><rect x="283" y="508.0" width="1.5" height="342.4" fill="url(#g201)"/><rect x="284" y="508.0" width="1.5" height="342.4" fill="url(#g202)"/><rect x="285" y="508.0" width="1.5" height="342.4" fill="url(#g203)"/><rect x="286" y="508.0" width="1.5" height="342.4" fill="url(#g204)"/><rect x="287" y="508.0" width="1.5" height="342.4" fill="url(#g205)"/><rect x="288" y="508.0" width="1.5" height="342.4" fill="url(#g206)"/><rect x="289" y="508.0" width="1.5" height="342.4" fill="url(#g207)"/><rect x="290" y="508.0" width="1.5" height="342.4" fill="url(#g208)"/><rect x="291" y="508.0" width="1.5" height="342.4" fill="url(#g209)"/><rect x="292" y="508.0" width="1.5" height="342.4" fill="url(#g210)"/><rect x="293" y="508.0" width="1.5" height="342.4" fill="url(#g211)"/><rect x="294" y="508.0" width="1.5" height="342.4" fill="url(#g212)"/><rect x="295" y="508.0" width="1.5" height="342.4" fill="url(#g213)"/><rect x="296" y="508.0" width="1.5" height="342.4" fill="url(#g214)"/><rect x="297" y="508.0" width="1.5" height="342.4" fill="url(#g215)"/><rect x="298" y="508.0" width="1.5" height="342.4" fill="url(#g216)"/><rect x="299" y="508.0" width="1.5" height="342.4" fill="url(#g217)"/><rect x="300" y="508.0" width="1.5" height="342.4" fill="url(#g218)"/><rect x="301" y="508.0" width="1.5" height="342.4" fill="url(#g219)"/><rect x="302" y="508.0" width="1.5" height="342.4" fill="url(#g220)"/><rect x="303" y="508.0" width="1.5" height="342.4" fill="url(#g221)"/><rect x="304" y="508.0" width="1.5" height="342.4" fill="url(#g222)"/><rect x="305" y="508.0" width="1.5" height="342.4" fill="url(#g223)"/><rect x="306" y="508.0" width="1.5" height="342.4" fill="url(#g224)"/><rect x="307" y="508.0" width="1.5" height="342.4" fill="url(#g225)"/><rect x="308" y="508.0" width="1.5" height="342.4" fill="url(#g226)"/><rect x="309" y="508.0" width="1.5" height="342.4" fill="url(#g227)"/><rect x="310" y="508.0" width="1.5" height="342.4" fill="url(#g228)"/><rect x="311" y="508.0" width="1.5" height="342.4" fill="url(#g229)"/><rect x="312" y="508.0" width="1.5" height="342.4" fill="url(#g230)"/><rect x="313" y="508.0" width="1.5" height="342.4" fill="url(#g231)"/><rect x="314" y="508.0" width="1.5" height="342.4" fill="url(#g232)"/><rect x="315" y="508.0" width="1.5" height="342.4" fill="url(#g233)"/><rect x="316" y="508.0" width="1.5" height="342.4" fill="url(#g234)"/><rect x="317" y="508.0" width="1.5" height="342.4" fill="url(#g235)"/><rect x="318" y="508.0" width="1.5" height="342.4" fill="url(#g236)"/><rect x="319" y="508.0" width="1.5" height="342.4" fill="url(#g237)"/><rect x="320" y="508.0" width="1.5" height="342.4" fill="url(#g238)"/><rect x="321" y="508.0" width="1.5" height="342.4" fill="url(#g239)"/><rect x="322" y="508.0" width="1.5" height="342.4" fill="url(#g240)"/><rect x="323" y="508.0" width="1.5" height="342.4" fill="url(#g241)"/><rect x="324" y="508.0" width="1.5" height="342.4" fill="url(#g242)"/><rect x="325" y="508.0" width="1.5" height="342.4" fill="url(#g243)"/><rect x="326" y="508.0" width="1.5" height="342.4" fill="url(#g244)"/><rect x="327" y="508.0" width="1.5" height="342.4" fill="url(#g245)"/><rect x="328" y="508.0" width="1.5" height="342.4" fill="url(#g246)"/><rect x="329" y="508.0" width="1.5" height="342.4" fill="url(#g247)"/><rect x="330" y="508.0" width="1.5" height="342.4" fill="url(#g248)"/><rect x="331" y="508.0" width="1.5" height="342.4" fill="url(#g249)"/><rect x="332" y="508.0" width="1.5" height="342.4" fill="url(#g250)"/><rect x="333" y="508.0" width="1.5" height="342.4" fill="url(#g251)"/><rect x="334" y="508.0" width="1.5" height="342.4" fill="url(#g252)"/><rect x="335" y="508.0" width="1.5" height="342.4" fill="url(#g253)"/><rect x="336" y="508.0" width="1.5" height="342.4" fill="url(#g254)"/><rect x="337" y="508.0" width="1.5" height="342.4" fill="url(#g255)"/><rect x="338" y="508.0" width="1.5" height="342.4" fill="url(#g256)"/><rect x="339" y="508.0" width="1.5" height="342.4" fill="url(#g257)"/><rect x="340" y="508.0" width="1.5" height="342.4" fill="url(#g258)"/><rect x="341" y="508.0" width="1.5" height="342.4" fill="url(#g259)"/><rect x="342" y="508.0" width="1.5" height="342.4" fill="url(#g260)"/><rect x="343" y="508.0" width="1.5" height="342.4" fill="url(#g261)"/><rect x="344" y="508.0" width="1.5" height="342.4" fill="url(#g262)"/><rect x="345" y="508.0" width="1.5" height="342.4" fill="url(#g263)"/><rect x="346" y="508.0" width="1.5" height="342.4" fill="url(#g264)"/><rect x="347" y="508.0" width="1.5" height="342.4" fill="url(#g265)"/><rect x="348" y="508.0" width="1.5" height="342.4" fill="url(#g266)"/><rect x="349" y="508.0" width="1.5" height="342.4" fill="url(#g267)"/><rect x="350" y="508.0" width="1.5" height="342.4" fill="url(#g268)"/><rect x="351" y="508.0" width="1.5" height="342.4" fill="url(#g269)"/><rect x="352" y="508.0" width="1.5" height="342.4" fill="url(#g270)"/><rect x="353" y="508.0" width="1.5" height="342.4" fill="url(#g271)"/><rect x="354" y="508.0" width="1.5" height="342.4" fill="url(#g272)"/><rect x="355" y="508.0" width="1.5" height="342.4" fill="url(#g273)"/><rect x="356" y="508.0" width="1.5" height="342.4" fill="url(#g274)"/><rect x="357" y="508.0" width="1.5" height="342.4" fill="url(#g275)"/><rect x="358" y="508.0" width="1.5" height="342.4" fill="url(#g276)"/><rect x="359" y="508.0" width="1.5" height="342.4" fill="url(#g277)"/><rect x="360" y="508.0" width="1.5" height="342.4" fill="url(#g278)"/><rect x="361" y="508.0" width="1.5" height="342.4" fill="url(#g279)"/><rect x="362" y="508.0" width="1.5" height="342.4" fill="url(#g280)"/><rect x="363" y="508.0" width="1.5" height="342.4" fill="url(#g281)"/><rect x="364" y="508.0" width="1.5" height="342.4" fill="url(#g282)"/><rect x="365" y="508.0" width="1.5" height="342.4" fill="url(#g283)"/><rect x="366" y="508.0" width="1.5" height="342.4" fill="url(#g284)"/><rect x="367" y="508.0" width="1.5" height="342.4" fill="url(#g285)"/><rect x="368" y="508.0" width="1.5" height="342.4" fill="url(#g286)"/><rect x="369" y="508.0" width="1.5" height="342.4" fill="url(#g287)"/><rect x="370" y="508.0" width="1.5" height="342.4" fill="url(#g288)"/><rect x="371" y="508.0" width="1.5" height="342.4" fill="url(#g289)"/><rect x="372" y="508.0" width="1.5" height="342.4" fill="url(#g290)"/><rect x="373" y="508.0" width="1.5" height="342.4" fill="url(#g291)"/><rect x="374" y="508.0" width="1.5" height="342.4" fill="url(#g292)"/><rect x="375" y="508.0" width="1.5" height="342.4" fill="url(#g293)"/><rect x="376" y="508.0" width="1.5" height="342.4" fill="url(#g294)"/><rect x="377" y="508.0" width="1.5" height="342.4" fill="url(#g295)"/><rect x="378" y="508.0" width="1.5" height="342.4" fill="url(#g296)"/><rect x="379" y="508.0" width="1.5" height="342.4" fill="url(#g297)"/><rect x="380" y="508.0" width="1.5" height="342.4" fill="url(#g298)"/><rect x="381" y="508.0" width="1.5" height="342.4" fill="url(#g299)"/><rect x="382" y="508.0" width="1.5" height="342.4" fill="url(#g300)"/><rect x="383" y="508.0" width="1.5" height="342.4" fill="url(#g301)"/><rect x="384" y="508.0" width="1.5" height="342.4" fill="url(#g302)"/><rect x="385" y="508.0" width="1.5" height="342.4" fill="url(#g303)"/><rect x="386" y="508.0" width="1.5" height="342.4" fill="url(#g304)"/><rect x="387" y="508.0" width="1.5" height="342.4" fill="url(#g305)"/><rect x="388" y="508.0" width="1.5" height="342.4" fill="url(#g306)"/><rect x="389" y="508.0" width="1.5" height="342.4" fill="url(#g307)"/><rect x="390" y="508.0" width="1.5" height="342.4" fill="url(#g308)"/><rect x="391" y="508.0" width="1.5" height="342.4" fill="url(#g309)"/><rect x="392" y="508.0" width="1.5" height="342.4" fill="url(#g310)"/><rect x="393" y="508.0" width="1.5" height="342.4" fill="url(#g311)"/><rect x="394" y="508.0" width="1.5" height="342.4" fill="url(#g312)"/><rect x="395" y="508.0" width="1.5" height="342.4" fill="url(#g313)"/><rect x="396" y="508.0" width="1.5" height="342.4" fill="url(#g314)"/><rect x="397" y="508.0" width="1.5" height="342.4" fill="url(#g315)"/><rect x="398" y="508.0" width="1.5" height="342.4" fill="url(#g316)"/><rect x="399" y="508.0" width="1.5" height="342.4" fill="url(#g317)"/><rect x="400" y="508.0" width="1.5" height="342.4" fill="url(#g318)"/><rect x="401" y="508.0" width="1.5" height="342.4" fill="url(#g319)"/><rect x="402" y="508.0" width="1.5" height="342.4" fill="url(#g320)"/><rect x="403" y="508.0" width="1.5" height="342.4" fill="url(#g321)"/><rect x="404" y="508.0" width="1.5" height="342.4" fill="url(#g322)"/><rect x="405" y="508.0" width="1.5" height="342.4" fill="url(#g323)"/><rect x="406" y="508.0" width="1.5" height="342.4" fill="url(#g324)"/><rect x="407" y="508.0" width="1.5" height="342.4" fill="url(#g325)"/><rect x="408" y="508.0" width="1.5" height="342.4" fill="url(#g326)"/><rect x="409" y="508.0" width="1.5" height="342.4" fill="url(#g327)"/><rect x="410" y="508.0" width="1.5" height="342.4" fill="url(#g328)"/><rect x="411" y="508.0" width="1.5" height="342.4" fill="url(#g329)"/><rect x="412" y="508.0" width="1.5" height="342.4" fill="url(#g330)"/><rect x="413" y="508.0" width="1.5" height="342.4" fill="url(#g331)"/><rect x="414" y="508.0" width="1.5" height="342.4" fill="url(#g332)"/><rect x="415" y="508.0" width="1.5" height="342.4" fill="url(#g333)"/><rect x="416" y="508.0" width="1.5" height="342.4" fill="url(#g334)"/><rect x="417" y="508.0" width="1.5" height="342.4" fill="url(#g335)"/><rect x="418" y="508.0" width="1.5" height="342.4" fill="url(#g336)"/><rect x="419" y="508.0" width="1.5" height="342.4" fill="url(#g337)"/><rect x="420" y="508.0" width="1.5" height="342.4" fill="url(#g338)"/><rect x="421" y="508.0" width="1.5" height="342.4" fill="url(#g339)"/><rect x="422" y="508.0" width="1.5" height="342.4" fill="url(#g340)"/><rect x="423" y="508.0" width="1.5" height="342.4" fill="url(#g341)"/><rect x="424" y="508.0" width="1.5" height="342.4" fill="url(#g342)"/><rect x="425" y="508.0" width="1.5" height="342.4" fill="url(#g343)"/><rect x="426" y="508.0" width="1.5" height="342.4" fill="url(#g344)"/><rect x="427" y="508.0" width="1.5" height="342.4" fill="url(#g345)"/><rect x="428" y="508.0" width="1.5" height="342.4" fill="url(#g346)"/><rect x="429" y="508.0" width="1.5" height="342.4" fill="url(#g347)"/><rect x="430" y="508.0" width="1.5" height="342.4" fill="url(#g348)"/><rect x="431" y="508.0" width="1.5" height="342.4" fill="url(#g349)"/><rect x="432" y="508.0" width="1.5" height="342.4" fill="url(#g350)"/><rect x="433" y="508.0" width="1.5" height="342.4" fill="url(#g351)"/><rect x="434" y="508.0" width="1.5" height="342.4" fill="url(#g352)"/><rect x="435" y="508.0" width="1.5" height="342.4" fill="url(#g353)"/><rect x="436" y="508.0" width="1.5" height="342.4" fill="url(#g354)"/><rect x="437" y="508.0" width="1.5" height="342.4" fill="url(#g355)"/><rect x="438" y="508.0" width="1.5" height="342.4" fill="url(#g356)"/><rect x="439" y="508.0" width="1.5" height="342.4" fill="url(#g357)"/><rect x="440" y="508.0" width="1.5" height="342.4" fill="url(#g358)"/><rect x="441" y="508.0" width="1.5" height="342.4" fill="url(#g359)"/><rect x="442" y="508.0" width="1.5" height="342.4" fill="url(#g360)"/><rect x="443" y="508.0" width="1.5" height="342.4" fill="url(#g361)"/><rect x="444" y="508.0" width="1.5" height="342.4" fill="url(#g362)"/><rect x="445" y="508.0" width="1.5" height="342.4" fill="url(#g363)"/><rect x="446" y="508.0" width="1.5" height="342.4" fill="url(#g364)"/><rect x="447" y="508.0" width="1.5" height="342.4" fill="url(#g365)"/><rect x="448" y="508.0" width="1.5" height="342.4" fill="url(#g366)"/><rect x="449" y="508.0" width="1.5" height="342.4" fill="url(#g367)"/><rect x="450" y="508.0" width="1.5" height="342.4" fill="url(#g368)"/><rect x="451" y="508.0" width="1.5" height="342.4" fill="url(#g369)"/><rect x="452" y="508.0" width="1.5" height="342.4" fill="url(#g370)"/><rect x="453" y="508.0" width="1.5" height="342.4" fill="url(#g371)"/><rect x="454" y="508.0" width="1.5" height="342.4" fill="url(#g372)"/><rect x="455" y="508.0" width="1.5" height="342.4" fill="url(#g373)"/><rect x="456" y="508.0" width="1.5" height="342.4" fill="url(#g374)"/><rect x="457" y="508.0" width="1.5" height="342.4" fill="url(#g375)"/><rect x="458" y="508.0" width="1.5" height="342.4" fill="url(#g376)"/><rect x="459" y="508.0" width="1.5" height="342.4" fill="url(#g377)"/><rect x="460" y="508.0" width="1.5" height="342.4" fill="url(#g378)"/><rect x="461" y="508.0" width="1.5" height="342.4" fill="url(#g379)"/><rect x="462" y="508.0" width="1.5" height="342.4" fill="url(#g380)"/><rect x="463" y="508.0" width="1.5" height="342.4" fill="url(#g381)"/><rect x="464" y="508.0" width="1.5" height="342.4" fill="url(#g382)"/><rect x="465" y="508.0" width="1.5" height="342.4" fill="url(#g383)"/><rect x="466" y="508.0" width="1.5" height="342.4" fill="url(#g384)"/><rect x="467" y="508.0" width="1.5" height="342.4" fill="url(#g385)"/><rect x="468" y="508.0" width="1.5" height="342.4" fill="url(#g386)"/><rect x="469" y="508.0" width="1.5" height="342.4" fill="url(#g387)"/><rect x="470" y="508.0" width="1.5" height="342.4" fill="url(#g388)"/><rect x="471" y="508.0" width="1.5" height="342.4" fill="url(#g389)"/><rect x="472" y="508.0" width="1.5" height="342.4" fill="url(#g390)"/><rect x="473" y="508.0" width="1.5" height="342.4" fill="url(#g391)"/><rect x="474" y="508.0" width="1.5" height="342.4" fill="url(#g392)"/><rect x="475" y="508.0" width="1.5" height="342.4" fill="url(#g393)"/><rect x="476" y="508.0" width="1.5" height="342.4" fill="url(#g394)"/><rect x="477" y="508.0" width="1.5" height="342.4" fill="url(#g395)"/><rect x="478" y="508.0" width="1.5" height="342.4" fill="url(#g396)"/><rect x="479" y="508.0" width="1.5" height="342.4" fill="url(#g397)"/><rect x="480" y="508.0" width="1.5" height="342.4" fill="url(#g398)"/><rect x="481" y="508.0" width="1.5" height="342.4" fill="url(#g399)"/><rect x="482" y="508.0" width="1.5" height="342.4" fill="url(#g400)"/><rect x="483" y="508.0" width="1.5" height="342.4" fill="url(#g401)"/><rect x="484" y="508.0" width="1.5" height="342.4" fill="url(#g402)"/><rect x="485" y="508.0" width="1.5" height="342.4" fill="url(#g403)"/><rect x="486" y="508.0" width="1.5" height="342.4" fill="url(#g404)"/><rect x="487" y="508.0" width="1.5" height="342.4" fill="url(#g405)"/><rect x="488" y="508.0" width="1.5" height="342.4" fill="url(#g406)"/><rect x="489" y="508.0" width="1.5" height="342.4" fill="url(#g407)"/><rect x="490" y="508.0" width="1.5" height="342.4" fill="url(#g408)"/><rect x="491" y="508.0" width="1.5" height="342.4" fill="url(#g409)"/><rect x="492" y="508.0" width="1.5" height="342.4" fill="url(#g410)"/><rect x="493" y="508.0" width="1.5" height="342.4" fill="url(#g411)"/><rect x="494" y="508.0" width="1.5" height="342.4" fill="url(#g412)"/><rect x="495" y="508.0" width="1.5" height="342.4" fill="url(#g413)"/><rect x="496" y="508.0" width="1.5" height="342.4" fill="url(#g414)"/><rect x="497" y="508.0" width="1.5" height="342.4" fill="url(#g415)"/><rect x="498" y="508.0" width="1.5" height="342.4" fill="url(#g416)"/><rect x="499" y="508.0" width="1.5" height="342.4" fill="url(#g417)"/><rect x="500" y="508.0" width="1.5" height="342.4" fill="url(#g418)"/><rect x="501" y="508.0" width="1.5" height="342.4" fill="url(#g419)"/><rect x="502" y="508.0" width="1.5" height="342.4" fill="url(#g420)"/><rect x="503" y="508.0" width="1.5" height="342.4" fill="url(#g421)"/><rect x="504" y="508.0" width="1.5" height="342.4" fill="url(#g422)"/><rect x="505" y="508.0" width="1.5" height="342.4" fill="url(#g423)"/><rect x="506" y="508.0" width="1.5" height="342.4" fill="url(#g424)"/><rect x="507" y="508.0" width="1.5" height="342.4" fill="url(#g425)"/><rect x="508" y="508.0" width="1.5" height="342.4" fill="url(#g426)"/><rect x="509" y="508.0" width="1.5" height="342.4" fill="url(#g427)"/><rect x="510" y="508.0" width="1.5" height="342.4" fill="url(#g428)"/><rect x="511" y="508.0" width="1.5" height="342.4" fill="url(#g429)"/><rect x="512" y="508.0" width="1.5" height="342.4" fill="url(#g430)"/><rect x="513" y="508.0" width="1.5" height="342.4" fill="url(#g431)"/><rect x="514" y="508.0" width="1.5" height="342.4" fill="url(#g432)"/><rect x="515" y="508.0" width="1.5" height="342.4" fill="url(#g433)"/><rect x="516" y="508.0" width="1.5" height="342.4" fill="url(#g434)"/><rect x="517" y="508.0" width="1.5" height="342.4" fill="url(#g435)"/><rect x="518" y="508.0" width="1.5" height="342.4" fill="url(#g436)"/><rect x="519" y="508.0" width="1.5" height="342.4" fill="url(#g437)"/><rect x="520" y="508.0" width="1.5" height="342.4" fill="url(#g438)"/><rect x="521" y="508.0" width="1.5" height="342.4" fill="url(#g439)"/><rect x="522" y="508.0" width="1.5" height="342.4" fill="url(#g440)"/><rect x="523" y="508.0" width="1.5" height="342.4" fill="url(#g441)"/><rect x="524" y="508.0" width="1.5" height="342.4" fill="url(#g442)"/><rect x="525" y="508.0" width="1.5" height="342.4" fill="url(#g443)"/><rect x="526" y="508.0" width="1.5" height="342.4" fill="url(#g444)"/><rect x="527" y="508.0" width="1.5" height="342.4" fill="url(#g445)"/><rect x="528" y="508.0" width="1.5" height="342.4" fill="url(#g446)"/><rect x="529" y="508.0" width="1.5" height="342.4" fill="url(#g447)"/><rect x="530" y="508.0" width="1.5" height="342.4" fill="url(#g448)"/><rect x="531" y="508.0" width="1.5" height="342.4" fill="url(#g449)"/><rect x="532" y="508.0" width="1.5" height="342.4" fill="url(#g450)"/><rect x="533" y="508.0" width="1.5" height="342.4" fill="url(#g451)"/><rect x="534" y="508.0" width="1.5" height="342.4" fill="url(#g452)"/><rect x="535" y="508.0" width="1.5" height="342.4" fill="url(#g453)"/><rect x="536" y="508.0" width="1.5" height="342.4" fill="url(#g454)"/><rect x="537" y="508.0" width="1.5" height="342.4" fill="url(#g455)"/><rect x="538" y="508.0" width="1.5" height="342.4" fill="url(#g456)"/><rect x="539" y="508.0" width="1.5" height="342.4" fill="url(#g457)"/><rect x="540" y="508.0" width="1.5" height="342.4" fill="url(#g458)"/><rect x="541" y="508.0" width="1.5" height="342.4" fill="url(#g459)"/><rect x="542" y="508.0" width="1.5" height="342.4" fill="url(#g460)"/></g>
<polyline fill="none" stroke="#000" stroke-width="4.5" points="328.56,850.40 324.12,841.63 319.71,832.86 315.35,824.09 311.07,815.32 306.82,806.55 302.62,797.78 298.49,789.01 294.39,780.24 290.34,771.47 286.35,762.70 282.40,753.93 278.48,745.16 274.63,736.39 270.81,727.62 267.03,718.85 263.30,710.08 259.61,701.31 255.95,692.54 252.34,683.77 248.77,675.00 245.22,666.23 241.72,657.46 238.25,648.69 234.81,639.92 231.40,631.15 228.01,622.38 224.63,613.61 221.29,604.84 217.97,596.07 214.67,587.30 211.40,578.53 208.15,569.76 204.92,560.99 201.72,552.22 198.53,543.45 195.36,534.68 192.22,525.91 189.09,517.14 185.98,508.37"/>
<polyline fill="none" stroke="#000" stroke-width="4.5" points="283.78,850.40 279.82,841.63 275.90,832.86 272.01,824.09 268.20,815.32 264.42,806.55 260.68,797.78 257.00,789.01 253.35,780.24 249.74,771.47 246.19,762.70 242.68,753.93 239.19,745.16 235.76,736.39 232.36,727.62 228.99,718.85 225.68,710.08 222.39,701.31 219.13,692.54 215.92,683.77 212.74,675.00 209.58,666.23 206.47,657.46 203.38,648.69 200.32,639.92 197.28,631.15 194.27,622.38 191.27,613.61 188.30,604.84 185.35,596.07 182.42,587.30 179.52,578.53 176.63,569.76 173.76,560.99 170.92,552.22 168.09,543.45 165.27,534.68 162.48,525.91 159.71,517.14 156.94,508.37"/>
<polyline fill="none" stroke="#000" stroke-width="4.5" points="215.44,850.40 212.23,841.63 209.05,832.86 205.90,824.09 202.81,815.32 199.74,806.55 196.71,797.78 193.73,789.01 190.77,780.24 187.84,771.47 184.97,762.70 182.11,753.93 179.29,745.16 176.51,736.39 173.76,727.62 171.02,718.85 168.34,710.08 165.67,701.31 163.03,692.54 160.43,683.77 157.85,675.00 155.29,666.23 152.77,657.46 150.27,648.69 147.79,639.92 145.33,631.15 142.89,622.38 140.46,613.61 138.07,604.84 135.68,596.07 133.31,587.30 130.97,578.53 128.63,569.76 126.31,560.99 124.02,552.22 121.74,543.45 119.46,534.68 117.21,525.91 114.97,517.14 112.74,508.37"/>
</g>
<line x1="82.40" y1="850.40" x2="82.40" y2="835.60" stroke="#000" stroke-width="4.4" />
<line x1="82.40" y1="508.00" x2="82.40" y2="522.80" stroke="#000" stroke-width="4.4" />
<line x1="113.17" y1="850.40" x2="113.17" y2="841.50" stroke="#000" stroke-width="2.5" />
<line x1="113.17" y1="508.00" x2="113.17" y2="516.90" stroke="#000" stroke-width="2.5" />
<line x1="143.94" y1="850.40" x2="143.94" y2="841.50" stroke="#000" stroke-width="2.5" />
<line x1="143.94" y1="508.00" x2="143.94" y2="516.90" stroke="#000" stroke-width="2.5" />
<line x1="174.71" y1="850.40" x2="174.71" y2="841.50" stroke="#000" stroke-width="2.5" />
<line x1="174.71" y1="508.00" x2="174.71" y2="516.90" stroke="#000" stroke-width="2.5" />
<line x1="205.48" y1="850.40" x2="205.48" y2="841.50" stroke="#000" stroke-width="2.5" />
<line x1="205.48" y1="508.00" x2="205.48" y2="516.90" stroke="#000" stroke-width="2.5" />
<line x1="236.25" y1="850.40" x2="236.25" y2="835.60" stroke="#000" stroke-width="4.4" />
<line x1="236.25" y1="508.00" x2="236.25" y2="522.80" stroke="#000" stroke-width="4.4" />
<line x1="267.02" y1="850.40" x2="267.02" y2="841.50" stroke="#000" stroke-width="2.5" />
<line x1="267.02" y1="508.00" x2="267.02" y2="516.90" stroke="#000" stroke-width="2.5" />
<line x1="297.79" y1="850.40" x2="297.79" y2="841.50" stroke="#000" stroke-width="2.5" />
<line x1="297.79" y1="508.00" x2="297.79" y2="516.90" stroke="#000" stroke-width="2.5" />
<line x1="328.56" y1="850.40" x2="328.56" y2="841.50" stroke="#000" stroke-width="2.5" />
<line x1="328.56" y1="508.00" x2="328.56" y2="516.90" stroke="#000" stroke-width="2.5" />
<line x1="359.33" y1="850.40" x2="359.33" y2="841.50" stroke="#000" stroke-width="2.5" />
<line x1="359.33" y1="508.00" x2="359.33" y2="516.90" stroke="#000" stroke-width="2.5" />
<line x1="390.10" y1="850.40" x2="390.10" y2="835.60" stroke="#000" stroke-width="4.4" />
<line x1="390.10" y1="508.00" x2="390.10" y2="522.80" stroke="#000" stroke-width="4.4" />
<line x1="420.87" y1="850.40" x2="420.87" y2="841.50" stroke="#000" stroke-width="2.5" />
<line x1="420.87" y1="508.00" x2="420.87" y2="516.90" stroke="#000" stroke-width="2.5" />
<line x1="451.64" y1="850.40" x2="451.64" y2="841.50" stroke="#000" stroke-width="2.5" />
<line x1="451.64" y1="508.00" x2="451.64" y2="516.90" stroke="#000" stroke-width="2.5" />
<line x1="482.41" y1="850.40" x2="482.41" y2="841.50" stroke="#000" stroke-width="2.5" />
<line x1="482.41" y1="508.00" x2="482.41" y2="516.90" stroke="#000" stroke-width="2.5" />
<line x1="513.18" y1="850.40" x2="513.18" y2="841.50" stroke="#000" stroke-width="2.5" />
<line x1="513.18" y1="508.00" x2="513.18" y2="516.90" stroke="#000" stroke-width="2.5" />
<line x1="82.40" y1="850.40" x2="97.20" y2="850.40" stroke="#000" stroke-width="4.4" />
<line x1="542.10" y1="850.40" x2="527.30" y2="850.40" stroke="#000" stroke-width="4.4" />
<line x1="82.40" y1="832.86" x2="91.30" y2="832.86" stroke="#000" stroke-width="2.5" />
<line x1="542.10" y1="832.86" x2="533.20" y2="832.86" stroke="#000" stroke-width="2.5" />
<line x1="82.40" y1="815.32" x2="91.30" y2="815.32" stroke="#000" stroke-width="2.5" />
<line x1="542.10" y1="815.32" x2="533.20" y2="815.32" stroke="#000" stroke-width="2.5" />
<line x1="82.40" y1="797.78" x2="91.30" y2="797.78" stroke="#000" stroke-width="2.5" />
<line x1="542.10" y1="797.78" x2="533.20" y2="797.78" stroke="#000" stroke-width="2.5" />
<line x1="82.40" y1="780.24" x2="91.30" y2="780.24" stroke="#000" stroke-width="2.5" />
<line x1="542.10" y1="780.24" x2="533.20" y2="780.24" stroke="#000" stroke-width="2.5" />
<line x1="82.40" y1="762.70" x2="97.20" y2="762.70" stroke="#000" stroke-width="4.4" />
<line x1="542.10" y1="762.70" x2="527.30" y2="762.70" stroke="#000" stroke-width="4.4" />
<line x1="82.40" y1="745.16" x2="91.30" y2="745.16" stroke="#000" stroke-width="2.5" />
<line x1="542.10" y1="745.16" x2="533.20" y2="745.16" stroke="#000" stroke-width="2.5" />
<line x1="82.40" y1="727.62" x2="91.30" y2="727.62" stroke="#000" stroke-width="2.5" />
<line x1="542.10" y1="727.62" x2="533.20" y2="727.62" stroke="#000" stroke-width="2.5" />
<line x1="82.40" y1="710.08" x2="91.30" y2="710.08" stroke="#000" stroke-width="2.5" />
<line x1="542.10" y1="710.08" x2="533.20" y2="710.08" stroke="#000" stroke-width="2.5" />
<line x1="82.40" y1="692.54" x2="91.30" y2="692.54" stroke="#000" stroke-width="2.5" />
<line x1="542.10" y1="692.54" x2="533.20" y2="692.54" stroke="#000" stroke-width="2.5" />
<line x1="82.40" y1="675.00" x2="97.20" y2="675.00" stroke="#000" stroke-width="4.4" />
<line x1="542.10" y1="675.00" x2="527.30" y2="675.00" stroke="#000" stroke-width="4.4" />
<line x1="82.40" y1="657.46" x2="91.30" y2="657.46" stroke="#000" stroke-width="2.5" />
<line x1="542.10" y1="657.46" x2="533.20" y2="657.46" stroke="#000" stroke-width="2.5" />
<line x1="82.40" y1="639.92" x2="91.30" y2="639.92" stroke="#000" stroke-width="2.5" />
<line x1="542.10" y1="639.92" x2="533.20" y2="639.92" stroke="#000" stroke-width="2.5" />
<line x1="82.40" y1="622.38" x2="91.30" y2="622.38" stroke="#000" stroke-width="2.5" />
<line x1="542.10" y1="622.38" x2="533.20" y2="622.38" stroke="#000" stroke-width="2.5" />
<line x1="82.40" y1="604.84" x2="91.30" y2="604.84" stroke="#000" stroke-width="2.5" />
<line x1="542.10" y1="604.84" x2="533.20" y2="604.84" stroke="#000" stroke-width="2.5" />
<line x1="82.40" y1="587.30" x2="97.20" y2="587.30" stroke="#000" stroke-width="4.4" />
<line x1="542.10" y1="587.30" x2="527.30" y2="587.30" stroke="#000" stroke-width="4.4" />
<line x1="82.40" y1="569.76" x2="91.30" y2="569.76" stroke="#000" stroke-width="2.5" />
<line x1="542.10" y1="569.76" x2="533.20" y2="569.76" stroke="#000" stroke-width="2.5" />
<line x1="82.40" y1="552.22" x2="91.30" y2="552.22" stroke="#000" stroke-width="2.5" />
<line x1="542.10" y1="552.22" x2="533.20" y2="552.22" stroke="#000" stroke-width="2.5" />
<line x1="82.40" y1="534.68" x2="91.30" y2="534.68" stroke="#000" stroke-width="2.5" />
<line x1="542.10" y1="534.68" x2="533.20" y2="534.68" stroke="#000" stroke-width="2.5" />
<line x1="82.40" y1="517.14" x2="91.30" y2="517.14" stroke="#000" stroke-width="2.5" />
<line x1="542.10" y1="517.14" x2="533.20" y2="517.14" stroke="#000" stroke-width="2.5" />
<rect x="82.4" y="508.0" width="459.70000000000005" height="342.4" fill="none" stroke="#000" stroke-width="2.6"/>
<rect x="552.5" y="508.6" width="23.100000000000023" height="341.6" fill="url(#gcb)" stroke="#000" stroke-width="2.7"/>
<line x1="575.60" y1="812.23" x2="585.90" y2="812.23" stroke="#000" stroke-width="2.4" />
<text transform="translate(595.8,820.93) scale(1,1.06)" font-size="23.7">10<tspan font-size="15.88" dy="-8.1">−5</tspan></text>
<line x1="575.60" y1="774.30" x2="585.90" y2="774.30" stroke="#000" stroke-width="2.4" />
<text transform="translate(595.8,783.00) scale(1,1.06)" font-size="23.7">10<tspan font-size="15.88" dy="-8.1">0</tspan></text>
<line x1="575.60" y1="736.37" x2="585.90" y2="736.37" stroke="#000" stroke-width="2.4" />
<text transform="translate(595.8,745.07) scale(1,1.06)" font-size="23.7">10<tspan font-size="15.88" dy="-8.1">5</tspan></text>
<line x1="575.60" y1="698.44" x2="585.90" y2="698.44" stroke="#000" stroke-width="2.4" />
<text transform="translate(595.8,707.14) scale(1,1.06)" font-size="23.7">10<tspan font-size="15.88" dy="-8.1">10</tspan></text>
<line x1="575.60" y1="660.51" x2="585.90" y2="660.51" stroke="#000" stroke-width="2.4" />
<text transform="translate(595.8,669.21) scale(1,1.06)" font-size="23.7">10<tspan font-size="15.88" dy="-8.1">15</tspan></text>
<line x1="575.60" y1="622.58" x2="585.90" y2="622.58" stroke="#000" stroke-width="2.4" />
<text transform="translate(595.8,631.28) scale(1,1.06)" font-size="23.7">10<tspan font-size="15.88" dy="-8.1">20</tspan></text>
<line x1="575.60" y1="584.65" x2="585.90" y2="584.65" stroke="#000" stroke-width="2.4" />
<text transform="translate(595.8,593.35) scale(1,1.06)" font-size="23.7">10<tspan font-size="15.88" dy="-8.1">25</tspan></text>
<line x1="575.60" y1="546.72" x2="585.90" y2="546.72" stroke="#000" stroke-width="2.4" />
<text transform="translate(595.8,555.42) scale(1,1.06)" font-size="23.7">10<tspan font-size="15.88" dy="-8.1">30</tspan></text>
<text transform="translate(682,680) rotate(-90)" font-size="23.4" text-anchor="middle"><tspan font-style="italic">τ</tspan> (s)</text>
<text transform="translate(82.40,879.00) scale(1,1.06)" font-size="23.7" text-anchor="middle" fill="#000" >10</text>
<text transform="translate(236.25,879.00) scale(1,1.06)" font-size="23.7" text-anchor="middle" fill="#000" >20</text>
<text transform="translate(390.10,879.00) scale(1,1.06)" font-size="23.7" text-anchor="middle" fill="#000" >30</text>
<text transform="translate(71.60,860.20) scale(1,1.06)" font-size="23.7" text-anchor="end" fill="#000" >0</text>
<text transform="translate(71.60,772.50) scale(1,1.06)" font-size="23.7" text-anchor="end" fill="#000" >1</text>
<text transform="translate(71.60,684.80) scale(1,1.06)" font-size="23.7" text-anchor="end" fill="#000" >2</text>
<text transform="translate(71.60,597.10) scale(1,1.06)" font-size="23.7" text-anchor="end" fill="#000" >3</text>
<text x="311.8" y="911.9" font-size="23.4" text-anchor="middle">temperature <tspan font-style="italic" dx="1">T</tspan><tspan dx="1"> (K)</tspan></text>
<text transform="translate(37.4,744.3) rotate(-90)" font-size="23.4"><tspan x="0" font-style="italic">B</tspan><tspan x="17.8" font-size="16.38" dy="4.2">⊥</tspan><tspan x="38.5" dy="-4.2">−</tspan><tspan x="63.6" font-style="italic">B</tspan><tspan x="78.8" font-size="16.38" dy="4.2" font-style="italic">C</tspan><tspan x="99.0" dy="-4.2">(T)</tspan></text>
<rect x="153.5" y="515.7" width="345.4" height="39.9" fill="#fff" stroke="#000" stroke-width="2.8"/>
<text x="160.00" y="544.30" font-size="29.3" text-anchor="start" fill="#000" >skyrmion/antiskyrmion</text>
<line x1="232.00" y1="632.00" x2="281.90" y2="643.30" stroke="#000" stroke-width="2.6" />
<line x1="216.00" y1="682.30" x2="251.70" y2="697.30" stroke="#000" stroke-width="2.6" />
<line x1="186.60" y1="765.00" x2="220.80" y2="781.90" stroke="#000" stroke-width="2.6" />
<rect x="288.4" y="630.1" width="55.9" height="41.3" fill="#fff" fill-opacity="0.7" stroke="#000" stroke-opacity="0.7" stroke-width="3.0"/><text x="297.40" y="657.60" font-size="23.7" text-anchor="start" fill="#000" >1 h</text>
<rect x="257.7" y="683.1" width="80.2" height="67.4" fill="#fff" fill-opacity="0.7" stroke="#000" stroke-opacity="0.7" stroke-width="3.0"/><text x="266.50" y="710.00" font-size="23.7" text-anchor="start" fill="#000" >1</text><text x="266.50" y="736.30" font-size="23.7" text-anchor="start" fill="#000" >week</text>
<rect x="226.9" y="770.7" width="83.4" height="68.0" fill="#fff" fill-opacity="0.7" stroke="#000" stroke-opacity="0.7" stroke-width="3.0"/><text x="236.00" y="798.00" font-size="23.7" text-anchor="start" fill="#000" >1000</text><text x="236.00" y="824.30" font-size="23.7" text-anchor="start" fill="#000" >years</text>
<rect x="82.7" y="509.3" width="28.90" height="39.8" fill="#fff" stroke="#000" stroke-width="3.0"/><text x="88.50" y="537.70" font-size="28.9" text-anchor="start" fill="#000" font-weight="bold">c</text>
</g>
</svg>
</body></html>
